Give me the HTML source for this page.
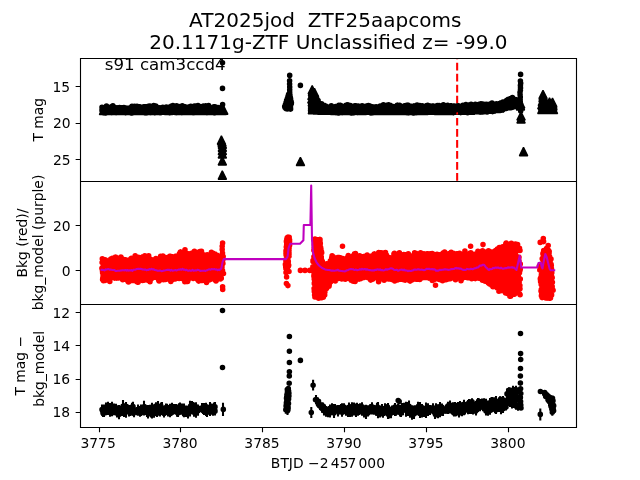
<!DOCTYPE html>
<html lang="en">
<head>
<meta charset="utf-8">
<title>AT2025jod ZTF25aapcoms</title>
<style>html,body{margin:0;padding:0;background:#fff;overflow:hidden}svg{display:block}</style>
</head>
<body>
<svg width="640" height="480" viewBox="0 0 640 480">
<rect width="640" height="480" fill="#fff"/>
<defs>
<clipPath id="c0"><rect x="80" y="58" width="497" height="124"/></clipPath>
<clipPath id="c1"><rect x="80" y="181" width="497" height="124"/></clipPath>
<clipPath id="c2"><rect x="80" y="304" width="497" height="124"/></clipPath>
</defs>
<g clip-path="url(#c0)">
<path d="M103.5 106.2l4.2 8.3h-8.3zM103.9 105.8l4.2 8.3h-8.3zM104.4 105.9l4.2 8.3h-8.3zM104.5 106.1l4.2 8.3h-8.3zM104.6 106.1l4.2 8.3h-8.3zM106 105.9l4.2 8.3h-8.3zM106.6 105.6l4.2 8.3h-8.3zM107.1 106.1l4.2 8.3h-8.3zM107.5 106.1l4.2 8.3h-8.3zM107.7 105.9l4.2 8.3h-8.3zM108.6 106.1l4.2 8.3h-8.3zM108.7 105.8l4.2 8.3h-8.3zM108.9 105.6l4.2 8.3h-8.3zM110 106.1l4.2 8.3h-8.3zM110.3 105.7l4.2 8.3h-8.3zM111.3 106.1l4.2 8.3h-8.3zM111.5 105.9l4.2 8.3h-8.3zM111.5 105.8l4.2 8.3h-8.3zM111.9 106.2l4.2 8.3h-8.3zM112.7 105.5l4.2 8.3h-8.3zM113 105.6l4.2 8.3h-8.3zM113.1 105.6l4.2 8.3h-8.3zM113.6 105.9l4.2 8.3h-8.3zM113.6 105.6l4.2 8.3h-8.3zM113.8 106.1l4.2 8.3h-8.3zM114.3 105.7l4.2 8.3h-8.3zM114.5 105.6l4.2 8.3h-8.3zM114.9 106l4.2 8.3h-8.3zM115 106.3l4.2 8.3h-8.3zM116.4 105.6l4.2 8.3h-8.3zM116.8 105.7l4.2 8.3h-8.3zM117.1 105.6l4.2 8.3h-8.3zM117.3 105.9l4.2 8.3h-8.3zM117.8 106l4.2 8.3h-8.3zM117.9 105.8l4.2 8.3h-8.3zM118.4 105.6l4.2 8.3h-8.3zM118.9 106.1l4.2 8.3h-8.3zM119.8 106.1l4.2 8.3h-8.3zM120.5 106l4.2 8.3h-8.3zM121 106.2l4.2 8.3h-8.3zM121.4 105.8l4.2 8.3h-8.3zM121.5 105.6l4.2 8.3h-8.3zM121.6 105.7l4.2 8.3h-8.3zM122.6 105.8l4.2 8.3h-8.3zM122.9 105.8l4.2 8.3h-8.3zM123.3 105.6l4.2 8.3h-8.3zM123.3 105.9l4.2 8.3h-8.3zM123.5 105.8l4.2 8.3h-8.3zM123.6 106.2l4.2 8.3h-8.3zM123.6 105.7l4.2 8.3h-8.3zM123.7 106.1l4.2 8.3h-8.3zM123.9 106l4.2 8.3h-8.3zM124.3 106l4.2 8.3h-8.3zM124.5 105.9l4.2 8.3h-8.3zM124.7 106.1l4.2 8.3h-8.3zM124.7 105.9l4.2 8.3h-8.3zM124.8 106l4.2 8.3h-8.3zM124.9 105.9l4.2 8.3h-8.3zM125 105.8l4.2 8.3h-8.3zM125.8 105.9l4.2 8.3h-8.3zM126.2 105.9l4.2 8.3h-8.3zM126.5 106.1l4.2 8.3h-8.3zM126.6 105.9l4.2 8.3h-8.3zM127.9 105.9l4.2 8.3h-8.3zM127.9 106.2l4.2 8.3h-8.3zM128.5 106.2l4.2 8.3h-8.3zM128.6 105.9l4.2 8.3h-8.3zM128.8 105.8l4.2 8.3h-8.3zM128.9 105.8l4.2 8.3h-8.3zM129 105.7l4.2 8.3h-8.3zM129.2 106l4.2 8.3h-8.3zM129.6 105.6l4.2 8.3h-8.3zM129.8 105.9l4.2 8.3h-8.3zM129.8 106.2l4.2 8.3h-8.3zM129.9 106l4.2 8.3h-8.3zM130.1 106.1l4.2 8.3h-8.3zM130.7 105.6l4.2 8.3h-8.3zM132.2 105.7l4.2 8.3h-8.3zM133 105.7l4.2 8.3h-8.3zM133.2 105.8l4.2 8.3h-8.3zM133.2 105.9l4.2 8.3h-8.3zM133.3 106.3l4.2 8.3h-8.3zM134.1 106l4.2 8.3h-8.3zM134.3 105.7l4.2 8.3h-8.3zM134.4 106l4.2 8.3h-8.3zM134.5 106.2l4.2 8.3h-8.3zM134.7 105.8l4.2 8.3h-8.3zM134.7 105.9l4.2 8.3h-8.3zM135.4 105.5l4.2 8.3h-8.3zM136.3 105.5l4.2 8.3h-8.3zM136.3 105.9l4.2 8.3h-8.3zM136.6 105.9l4.2 8.3h-8.3zM136.6 105.9l4.2 8.3h-8.3zM136.9 105.8l4.2 8.3h-8.3zM137.3 105.8l4.2 8.3h-8.3zM137.3 105.8l4.2 8.3h-8.3zM137.4 106.2l4.2 8.3h-8.3zM138 105.9l4.2 8.3h-8.3zM138.3 105.9l4.2 8.3h-8.3zM139.2 106.1l4.2 8.3h-8.3zM139.9 105.7l4.2 8.3h-8.3zM140 105.8l4.2 8.3h-8.3zM140.8 106l4.2 8.3h-8.3zM141 105.8l4.2 8.3h-8.3zM141.4 106.2l4.2 8.3h-8.3zM141.5 105.8l4.2 8.3h-8.3zM142.6 105.7l4.2 8.3h-8.3zM143 106.2l4.2 8.3h-8.3zM143.2 106.2l4.2 8.3h-8.3zM143.2 105.6l4.2 8.3h-8.3zM143.4 105.7l4.2 8.3h-8.3zM143.5 106.1l4.2 8.3h-8.3zM143.5 106l4.2 8.3h-8.3zM143.9 105.8l4.2 8.3h-8.3zM144.2 106l4.2 8.3h-8.3zM144.3 105.9l4.2 8.3h-8.3zM144.4 105.9l4.2 8.3h-8.3zM144.8 105.7l4.2 8.3h-8.3zM144.9 105.8l4.2 8.3h-8.3zM145.1 106.1l4.2 8.3h-8.3zM145.2 106.2l4.2 8.3h-8.3zM146.1 106.1l4.2 8.3h-8.3zM147.4 105.7l4.2 8.3h-8.3zM147.5 105.9l4.2 8.3h-8.3zM148 105.8l4.2 8.3h-8.3zM148.2 105.9l4.2 8.3h-8.3zM148.3 105.8l4.2 8.3h-8.3zM148.9 106.1l4.2 8.3h-8.3zM148.9 105.8l4.2 8.3h-8.3zM150.4 105.6l4.2 8.3h-8.3zM151.5 105.9l4.2 8.3h-8.3zM152.6 106.1l4.2 8.3h-8.3zM153.2 106.2l4.2 8.3h-8.3zM154.2 105.8l4.2 8.3h-8.3zM154.2 106.2l4.2 8.3h-8.3zM154.5 106l4.2 8.3h-8.3zM154.6 105.8l4.2 8.3h-8.3zM154.7 106l4.2 8.3h-8.3zM154.9 106.3l4.2 8.3h-8.3zM155 106l4.2 8.3h-8.3zM155.7 105.9l4.2 8.3h-8.3zM155.8 106.3l4.2 8.3h-8.3zM156 106l4.2 8.3h-8.3zM156.4 105.9l4.2 8.3h-8.3zM156.5 105.9l4.2 8.3h-8.3zM156.5 106l4.2 8.3h-8.3zM157.7 106.1l4.2 8.3h-8.3zM158.2 105.8l4.2 8.3h-8.3zM158.3 106.1l4.2 8.3h-8.3zM158.7 105.9l4.2 8.3h-8.3zM159.4 106.1l4.2 8.3h-8.3zM160 106.1l4.2 8.3h-8.3zM160.5 105.7l4.2 8.3h-8.3zM160.6 105.8l4.2 8.3h-8.3zM160.7 106l4.2 8.3h-8.3zM160.8 106l4.2 8.3h-8.3zM160.9 105.9l4.2 8.3h-8.3zM161 105.7l4.2 8.3h-8.3zM161.3 106.1l4.2 8.3h-8.3zM161.4 106l4.2 8.3h-8.3zM161.5 106.1l4.2 8.3h-8.3zM161.6 106l4.2 8.3h-8.3zM161.8 105.6l4.2 8.3h-8.3zM162.9 105.7l4.2 8.3h-8.3zM162.9 106.1l4.2 8.3h-8.3zM163 106.1l4.2 8.3h-8.3zM163 105.9l4.2 8.3h-8.3zM164 105.8l4.2 8.3h-8.3zM164.1 106l4.2 8.3h-8.3zM164.4 105.9l4.2 8.3h-8.3zM164.9 106l4.2 8.3h-8.3zM165.5 105.8l4.2 8.3h-8.3zM165.6 106.1l4.2 8.3h-8.3zM167.3 106l4.2 8.3h-8.3zM167.6 106l4.2 8.3h-8.3zM168 105.8l4.2 8.3h-8.3zM168 106.1l4.2 8.3h-8.3zM168.5 106.3l4.2 8.3h-8.3zM169.1 105.9l4.2 8.3h-8.3zM169.1 105.7l4.2 8.3h-8.3zM169.8 105.9l4.2 8.3h-8.3zM170.1 105.7l4.2 8.3h-8.3zM175.2 105.8l4.2 8.3h-8.3zM175.4 105.9l4.2 8.3h-8.3zM175.4 105.6l4.2 8.3h-8.3zM175.7 105.8l4.2 8.3h-8.3zM175.7 106l4.2 8.3h-8.3zM175.8 106.1l4.2 8.3h-8.3zM176 105.7l4.2 8.3h-8.3zM176.9 106.1l4.2 8.3h-8.3zM177.6 106.1l4.2 8.3h-8.3zM177.6 106l4.2 8.3h-8.3zM177.8 106.1l4.2 8.3h-8.3zM177.8 106.1l4.2 8.3h-8.3zM178 105.7l4.2 8.3h-8.3zM178.6 106.2l4.2 8.3h-8.3zM179 105.7l4.2 8.3h-8.3zM179.8 105.8l4.2 8.3h-8.3zM180.4 105.5l4.2 8.3h-8.3zM180.7 106l4.2 8.3h-8.3zM181.9 105.7l4.2 8.3h-8.3zM182 106.2l4.2 8.3h-8.3zM183.4 105.9l4.2 8.3h-8.3zM183.7 106l4.2 8.3h-8.3zM184 106l4.2 8.3h-8.3zM184.4 105.8l4.2 8.3h-8.3zM184.6 106l4.2 8.3h-8.3zM184.7 106.1l4.2 8.3h-8.3zM184.8 105.6l4.2 8.3h-8.3zM185.7 106l4.2 8.3h-8.3zM185.8 106l4.2 8.3h-8.3zM186 105.7l4.2 8.3h-8.3zM186.8 106.2l4.2 8.3h-8.3zM187.2 106l4.2 8.3h-8.3zM187.3 105.8l4.2 8.3h-8.3zM188.1 106.1l4.2 8.3h-8.3zM188.5 106.2l4.2 8.3h-8.3zM188.8 105.7l4.2 8.3h-8.3zM190.4 106.1l4.2 8.3h-8.3zM190.6 105.9l4.2 8.3h-8.3zM191.6 105.7l4.2 8.3h-8.3zM191.7 105.8l4.2 8.3h-8.3zM192.7 106l4.2 8.3h-8.3zM193 105.8l4.2 8.3h-8.3zM193.4 105.8l4.2 8.3h-8.3zM193.5 105.7l4.2 8.3h-8.3zM193.7 106.1l4.2 8.3h-8.3zM194 106l4.2 8.3h-8.3zM194.6 106.2l4.2 8.3h-8.3zM194.7 105.8l4.2 8.3h-8.3zM194.9 105.6l4.2 8.3h-8.3zM195.2 105.9l4.2 8.3h-8.3zM195.4 105.8l4.2 8.3h-8.3zM195.9 105.6l4.2 8.3h-8.3zM196.3 105.8l4.2 8.3h-8.3zM196.8 105.8l4.2 8.3h-8.3zM197.1 105.6l4.2 8.3h-8.3zM197.3 105.7l4.2 8.3h-8.3zM197.6 106.2l4.2 8.3h-8.3zM199.4 106l4.2 8.3h-8.3zM200.8 105.6l4.2 8.3h-8.3zM200.9 105.6l4.2 8.3h-8.3zM201.6 105.7l4.2 8.3h-8.3zM201.8 105.7l4.2 8.3h-8.3zM202.4 105.9l4.2 8.3h-8.3zM202.9 106.2l4.2 8.3h-8.3zM204.3 106.2l4.2 8.3h-8.3zM204.7 106.2l4.2 8.3h-8.3zM204.8 105.8l4.2 8.3h-8.3zM206.3 106.2l4.2 8.3h-8.3zM207 106.1l4.2 8.3h-8.3zM207.2 106l4.2 8.3h-8.3zM207.2 105.6l4.2 8.3h-8.3zM207.3 105.7l4.2 8.3h-8.3zM207.7 105.9l4.2 8.3h-8.3zM207.7 106.2l4.2 8.3h-8.3zM207.9 105.9l4.2 8.3h-8.3zM208.1 106.1l4.2 8.3h-8.3zM208.7 106.1l4.2 8.3h-8.3zM208.9 105.6l4.2 8.3h-8.3zM209 105.8l4.2 8.3h-8.3zM209.1 105.7l4.2 8.3h-8.3zM209.1 106.2l4.2 8.3h-8.3zM209.4 106.2l4.2 8.3h-8.3zM209.7 105.6l4.2 8.3h-8.3zM209.8 105.8l4.2 8.3h-8.3zM210.1 105.9l4.2 8.3h-8.3zM210.2 105.8l4.2 8.3h-8.3zM211.3 105.8l4.2 8.3h-8.3zM212.2 105.7l4.2 8.3h-8.3zM212.4 105.7l4.2 8.3h-8.3zM212.5 105.7l4.2 8.3h-8.3zM213.9 106l4.2 8.3h-8.3zM215.3 106.3l4.2 8.3h-8.3zM215.6 106.2l4.2 8.3h-8.3zM215.6 105.5l4.2 8.3h-8.3zM215.8 106.3l4.2 8.3h-8.3zM216.3 105.9l4.2 8.3h-8.3zM216.8 105.7l4.2 8.3h-8.3zM216.9 106.2l4.2 8.3h-8.3zM217 105.8l4.2 8.3h-8.3zM217 106.2l4.2 8.3h-8.3zM217.4 105.9l4.2 8.3h-8.3zM217.6 106l4.2 8.3h-8.3zM217.7 106.2l4.2 8.3h-8.3zM218 106l4.2 8.3h-8.3zM218.8 105.8l4.2 8.3h-8.3zM219.5 105.8l4.2 8.3h-8.3zM219.6 106.1l4.2 8.3h-8.3zM219.7 106l4.2 8.3h-8.3zM220.1 105.9l4.2 8.3h-8.3zM220.5 105.7l4.2 8.3h-8.3zM221 106l4.2 8.3h-8.3zM221.1 106l4.2 8.3h-8.3zM221.2 106.1l4.2 8.3h-8.3zM221.4 106l4.2 8.3h-8.3zM221.5 105.9l4.2 8.3h-8.3zM222.2 106.2l4.2 8.3h-8.3zM223 106l4.2 8.3h-8.3zM223.7 106.1l4.2 8.3h-8.3zM221.4 135.9l4.2 8.3h-8.3zM222 138l4.2 8.3h-8.3zM222.3 139.9l4.2 8.3h-8.3zM222.3 143l4.2 8.3h-8.3zM222.3 146.3l4.2 8.3h-8.3zM222.3 149.7l4.2 8.3h-8.3zM222.3 156.8l4.2 8.3h-8.3zM222.3 170.9l4.2 8.3h-8.3zM300.4 157.2l4.2 8.3h-8.3zM312.2 85.6l4.2 8.3h-8.3zM312.4 87.2l4.2 8.3h-8.3zM312.7 88.7l4.2 8.3h-8.3zM312.6 90.2l4.2 8.3h-8.3zM312.6 91.7l4.2 8.3h-8.3zM312.6 93.2l4.2 8.3h-8.3zM312.4 94.8l4.2 8.3h-8.3zM312.6 96.3l4.2 8.3h-8.3zM312.2 97.8l4.2 8.3h-8.3zM312.5 99.3l4.2 8.3h-8.3zM312.4 100.9l4.2 8.3h-8.3zM312.4 102.4l4.2 8.3h-8.3zM312.5 103.9l4.2 8.3h-8.3zM312.3 105.4l4.2 8.3h-8.3zM313.3 87.8l4.2 8.3h-8.3zM313.9 89.8l4.2 8.3h-8.3zM313.6 91.7l4.2 8.3h-8.3zM313.7 93.7l4.2 8.3h-8.3zM313.3 95.7l4.2 8.3h-8.3zM313.4 97.6l4.2 8.3h-8.3zM313.6 99.6l4.2 8.3h-8.3zM313.5 101.5l4.2 8.3h-8.3zM313.6 103.5l4.2 8.3h-8.3zM313.8 105.4l4.2 8.3h-8.3zM314.5 88.4l4.2 8.3h-8.3zM314.9 90.8l4.2 8.3h-8.3zM315.1 93.4l4.2 8.3h-8.3zM311.9 91.3l4.2 8.3h-8.3zM311.8 94.8l4.2 8.3h-8.3zM314.6 97l4.2 8.3h-8.3zM314.7 99.3l4.2 8.3h-8.3zM314.7 102.1l4.2 8.3h-8.3zM314.9 103l4.2 8.3h-8.3zM315 96.2l4.2 8.3h-8.3zM315.1 99.2l4.2 8.3h-8.3zM315.4 100.6l4.2 8.3h-8.3zM315.5 97.4l4.2 8.3h-8.3zM316.2 102.6l4.2 8.3h-8.3zM316.9 100.5l4.2 8.3h-8.3zM317.2 105.8l4.2 8.3h-8.3zM317.2 100.8l4.2 8.3h-8.3zM317.4 105.7l4.2 8.3h-8.3zM317.7 101.6l4.2 8.3h-8.3zM318.1 101.8l4.2 8.3h-8.3zM318.4 103.1l4.2 8.3h-8.3zM318.9 102.3l4.2 8.3h-8.3zM319 102l4.2 8.3h-8.3zM319.5 104.9l4.2 8.3h-8.3zM319.9 104.3l4.2 8.3h-8.3zM320.5 103.9l4.2 8.3h-8.3zM320.5 105.8l4.2 8.3h-8.3zM321 103.5l4.2 8.3h-8.3zM321 105.4l4.2 8.3h-8.3zM321.1 105l4.2 8.3h-8.3zM321.4 103.5l4.2 8.3h-8.3zM321.5 103.6l4.2 8.3h-8.3zM321.7 105.9l4.2 8.3h-8.3zM322 103.5l4.2 8.3h-8.3zM322.2 104.2l4.2 8.3h-8.3zM322.5 105l4.2 8.3h-8.3zM323.9 106l4.2 8.3h-8.3zM324.7 105.1l4.2 8.3h-8.3zM324.8 106l4.2 8.3h-8.3zM325.4 105.9l4.2 8.3h-8.3zM325.6 105.5l4.2 8.3h-8.3zM325.9 105.7l4.2 8.3h-8.3zM326 105.8l4.2 8.3h-8.3zM326.8 106.1l4.2 8.3h-8.3zM328.2 105.8l4.2 8.3h-8.3zM328.7 105.4l4.2 8.3h-8.3zM328.8 105.7l4.2 8.3h-8.3zM329.2 105.5l4.2 8.3h-8.3zM329.5 105.8l4.2 8.3h-8.3zM329.7 105.7l4.2 8.3h-8.3zM331.5 105.8l4.2 8.3h-8.3zM331.5 105.6l4.2 8.3h-8.3zM332.1 105.9l4.2 8.3h-8.3zM332.2 105.6l4.2 8.3h-8.3zM332.9 105.9l4.2 8.3h-8.3zM334.2 106l4.2 8.3h-8.3zM334.6 106.2l4.2 8.3h-8.3zM334.7 105.9l4.2 8.3h-8.3zM335 105.9l4.2 8.3h-8.3zM335.5 105.7l4.2 8.3h-8.3zM335.8 105.6l4.2 8.3h-8.3zM336 105.8l4.2 8.3h-8.3zM336.5 105.9l4.2 8.3h-8.3zM336.8 105.6l4.2 8.3h-8.3zM336.8 106.1l4.2 8.3h-8.3zM337 106.1l4.2 8.3h-8.3zM337.4 106.2l4.2 8.3h-8.3zM337.7 106.2l4.2 8.3h-8.3zM338.1 105.6l4.2 8.3h-8.3zM338.2 106.1l4.2 8.3h-8.3zM338.2 105.7l4.2 8.3h-8.3zM338.3 105.7l4.2 8.3h-8.3zM338.7 105.7l4.2 8.3h-8.3zM339.1 105.7l4.2 8.3h-8.3zM339.4 105.7l4.2 8.3h-8.3zM339.5 106.2l4.2 8.3h-8.3zM339.9 106.1l4.2 8.3h-8.3zM339.9 106.1l4.2 8.3h-8.3zM340.3 106l4.2 8.3h-8.3zM340.4 106l4.2 8.3h-8.3zM340.5 106.1l4.2 8.3h-8.3zM341.6 105.8l4.2 8.3h-8.3zM341.7 106.2l4.2 8.3h-8.3zM341.9 106l4.2 8.3h-8.3zM342.3 105.6l4.2 8.3h-8.3zM343.6 106l4.2 8.3h-8.3zM343.8 105.7l4.2 8.3h-8.3zM343.9 105.8l4.2 8.3h-8.3zM344.3 105.7l4.2 8.3h-8.3zM344.7 106.1l4.2 8.3h-8.3zM344.8 105.7l4.2 8.3h-8.3zM344.9 105.8l4.2 8.3h-8.3zM346.4 105.8l4.2 8.3h-8.3zM346.4 106.1l4.2 8.3h-8.3zM346.8 105.6l4.2 8.3h-8.3zM347.9 105.8l4.2 8.3h-8.3zM348 105.6l4.2 8.3h-8.3zM348.1 105.8l4.2 8.3h-8.3zM348.1 105.7l4.2 8.3h-8.3zM348.5 105.7l4.2 8.3h-8.3zM348.8 106.2l4.2 8.3h-8.3zM349.9 105.6l4.2 8.3h-8.3zM350.9 106.2l4.2 8.3h-8.3zM351.2 106.1l4.2 8.3h-8.3zM351.4 106.2l4.2 8.3h-8.3zM351.5 105.8l4.2 8.3h-8.3zM351.6 106.1l4.2 8.3h-8.3zM351.6 105.9l4.2 8.3h-8.3zM351.7 105.7l4.2 8.3h-8.3zM351.9 105.9l4.2 8.3h-8.3zM352.1 106.1l4.2 8.3h-8.3zM352.1 105.9l4.2 8.3h-8.3zM352.1 105.8l4.2 8.3h-8.3zM352.2 106l4.2 8.3h-8.3zM352.3 106l4.2 8.3h-8.3zM352.6 105.9l4.2 8.3h-8.3zM355.3 105.7l4.2 8.3h-8.3zM355.4 105.5l4.2 8.3h-8.3zM356.5 105.6l4.2 8.3h-8.3zM356.7 105.8l4.2 8.3h-8.3zM357.4 106.1l4.2 8.3h-8.3zM357.7 105.8l4.2 8.3h-8.3zM357.7 105.9l4.2 8.3h-8.3zM357.8 105.9l4.2 8.3h-8.3zM358.3 105.9l4.2 8.3h-8.3zM358.8 105.8l4.2 8.3h-8.3zM359 105.9l4.2 8.3h-8.3zM359.8 105.9l4.2 8.3h-8.3zM359.8 106.1l4.2 8.3h-8.3zM360.5 105.7l4.2 8.3h-8.3zM360.8 105.9l4.2 8.3h-8.3zM360.9 106l4.2 8.3h-8.3zM361 106.1l4.2 8.3h-8.3zM361.2 106.2l4.2 8.3h-8.3zM361.5 105.9l4.2 8.3h-8.3zM361.5 106.1l4.2 8.3h-8.3zM362.3 106.2l4.2 8.3h-8.3zM362.4 105.7l4.2 8.3h-8.3zM362.8 105.5l4.2 8.3h-8.3zM363.2 105.7l4.2 8.3h-8.3zM363.7 105.8l4.2 8.3h-8.3zM364.5 106l4.2 8.3h-8.3zM365 105.9l4.2 8.3h-8.3zM365.4 105.6l4.2 8.3h-8.3zM365.6 106.1l4.2 8.3h-8.3zM366.2 106.1l4.2 8.3h-8.3zM366.2 105.7l4.2 8.3h-8.3zM366.2 105.9l4.2 8.3h-8.3zM366.4 105.7l4.2 8.3h-8.3zM367.2 105.9l4.2 8.3h-8.3zM367.4 105.7l4.2 8.3h-8.3zM367.6 105.9l4.2 8.3h-8.3zM367.6 106.1l4.2 8.3h-8.3zM367.7 105.9l4.2 8.3h-8.3zM368 105.9l4.2 8.3h-8.3zM368.1 105.7l4.2 8.3h-8.3zM368.6 106.1l4.2 8.3h-8.3zM368.7 105.8l4.2 8.3h-8.3zM368.7 105.5l4.2 8.3h-8.3zM368.7 105.8l4.2 8.3h-8.3zM369 105.9l4.2 8.3h-8.3zM369.7 106.1l4.2 8.3h-8.3zM369.8 106l4.2 8.3h-8.3zM369.9 105.8l4.2 8.3h-8.3zM369.9 105.7l4.2 8.3h-8.3zM370.4 106l4.2 8.3h-8.3zM370.6 105.8l4.2 8.3h-8.3zM370.7 106.1l4.2 8.3h-8.3zM370.7 105.9l4.2 8.3h-8.3zM371.2 106.1l4.2 8.3h-8.3zM371.7 105.7l4.2 8.3h-8.3zM372.7 105.6l4.2 8.3h-8.3zM372.8 106.1l4.2 8.3h-8.3zM372.9 105.6l4.2 8.3h-8.3zM373.7 105.8l4.2 8.3h-8.3zM374.6 105.8l4.2 8.3h-8.3zM375 105.6l4.2 8.3h-8.3zM375.3 106l4.2 8.3h-8.3zM375.6 106l4.2 8.3h-8.3zM375.8 106.2l4.2 8.3h-8.3zM376.5 105.9l4.2 8.3h-8.3zM376.7 106l4.2 8.3h-8.3zM376.8 106l4.2 8.3h-8.3zM376.8 106.2l4.2 8.3h-8.3zM377.4 105.7l4.2 8.3h-8.3zM377.4 106.2l4.2 8.3h-8.3zM378 105.8l4.2 8.3h-8.3zM378.2 105.7l4.2 8.3h-8.3zM378.4 105.9l4.2 8.3h-8.3zM378.5 105.9l4.2 8.3h-8.3zM378.7 105.9l4.2 8.3h-8.3zM378.7 105.9l4.2 8.3h-8.3zM378.8 106.1l4.2 8.3h-8.3zM378.9 105.7l4.2 8.3h-8.3zM379 106.1l4.2 8.3h-8.3zM379 106l4.2 8.3h-8.3zM379.3 106.2l4.2 8.3h-8.3zM379.6 106.1l4.2 8.3h-8.3zM379.7 105.9l4.2 8.3h-8.3zM380.1 105.8l4.2 8.3h-8.3zM380.4 106.1l4.2 8.3h-8.3zM381.4 105.8l4.2 8.3h-8.3zM381.5 105.9l4.2 8.3h-8.3zM381.7 105.9l4.2 8.3h-8.3zM381.8 105.5l4.2 8.3h-8.3zM382.4 106.1l4.2 8.3h-8.3zM382.8 105.8l4.2 8.3h-8.3zM382.9 105.7l4.2 8.3h-8.3zM383.2 105.7l4.2 8.3h-8.3zM383.4 105.7l4.2 8.3h-8.3zM383.4 106l4.2 8.3h-8.3zM384 106l4.2 8.3h-8.3zM384.1 105.9l4.2 8.3h-8.3zM384.2 105.7l4.2 8.3h-8.3zM384.6 105.8l4.2 8.3h-8.3zM384.8 105.7l4.2 8.3h-8.3zM385.3 105.7l4.2 8.3h-8.3zM385.7 105.9l4.2 8.3h-8.3zM385.8 106.1l4.2 8.3h-8.3zM385.9 106.2l4.2 8.3h-8.3zM386.1 106l4.2 8.3h-8.3zM386.5 105.7l4.2 8.3h-8.3zM386.7 105.9l4.2 8.3h-8.3zM386.7 105.7l4.2 8.3h-8.3zM386.7 106.2l4.2 8.3h-8.3zM387.4 106.1l4.2 8.3h-8.3zM387.4 106l4.2 8.3h-8.3zM387.6 106.1l4.2 8.3h-8.3zM387.7 106.2l4.2 8.3h-8.3zM387.8 106l4.2 8.3h-8.3zM388 105.9l4.2 8.3h-8.3zM388.3 106l4.2 8.3h-8.3zM388.8 106.1l4.2 8.3h-8.3zM389.1 105.9l4.2 8.3h-8.3zM389.3 105.9l4.2 8.3h-8.3zM389.4 105.6l4.2 8.3h-8.3zM389.4 105.8l4.2 8.3h-8.3zM390.6 105.9l4.2 8.3h-8.3zM390.8 106l4.2 8.3h-8.3zM391 106l4.2 8.3h-8.3zM391.2 106l4.2 8.3h-8.3zM391.3 106l4.2 8.3h-8.3zM391.4 105.6l4.2 8.3h-8.3zM391.7 106l4.2 8.3h-8.3zM392.4 106l4.2 8.3h-8.3zM392.4 105.7l4.2 8.3h-8.3zM393.1 105.7l4.2 8.3h-8.3zM393.5 105.8l4.2 8.3h-8.3zM393.7 105.7l4.2 8.3h-8.3zM393.9 105.6l4.2 8.3h-8.3zM394.2 106.1l4.2 8.3h-8.3zM394.3 105.8l4.2 8.3h-8.3zM394.4 106l4.2 8.3h-8.3zM394.5 105.7l4.2 8.3h-8.3zM394.7 106l4.2 8.3h-8.3zM394.7 105.9l4.2 8.3h-8.3zM394.9 105.8l4.2 8.3h-8.3zM395.7 105.7l4.2 8.3h-8.3zM396.1 105.7l4.2 8.3h-8.3zM396.2 106.2l4.2 8.3h-8.3zM396.4 105.7l4.2 8.3h-8.3zM396.4 105.7l4.2 8.3h-8.3zM396.5 105.8l4.2 8.3h-8.3zM396.5 106l4.2 8.3h-8.3zM397.4 106l4.2 8.3h-8.3zM397.7 106l4.2 8.3h-8.3zM397.9 106l4.2 8.3h-8.3zM398 105.9l4.2 8.3h-8.3zM398 105.9l4.2 8.3h-8.3zM398.4 106.1l4.2 8.3h-8.3zM398.5 106l4.2 8.3h-8.3zM398.8 105.9l4.2 8.3h-8.3zM399.6 105.7l4.2 8.3h-8.3zM400.3 106l4.2 8.3h-8.3zM401 106.2l4.2 8.3h-8.3zM401 105.7l4.2 8.3h-8.3zM401.3 106l4.2 8.3h-8.3zM401.4 105.8l4.2 8.3h-8.3zM401.5 105.8l4.2 8.3h-8.3zM401.5 106.1l4.2 8.3h-8.3zM402.7 106.2l4.2 8.3h-8.3zM402.8 105.8l4.2 8.3h-8.3zM402.9 105.6l4.2 8.3h-8.3zM403.3 105.6l4.2 8.3h-8.3zM403.5 106.1l4.2 8.3h-8.3zM403.8 105.9l4.2 8.3h-8.3zM404.3 105.9l4.2 8.3h-8.3zM404.6 105.6l4.2 8.3h-8.3zM405 105.9l4.2 8.3h-8.3zM405.2 105.6l4.2 8.3h-8.3zM405.6 105.9l4.2 8.3h-8.3zM405.9 106.1l4.2 8.3h-8.3zM406 105.6l4.2 8.3h-8.3zM406.1 106.2l4.2 8.3h-8.3zM407.7 106l4.2 8.3h-8.3zM407.9 105.9l4.2 8.3h-8.3zM408.1 106l4.2 8.3h-8.3zM408.3 105.6l4.2 8.3h-8.3zM408.4 105.6l4.2 8.3h-8.3zM408.7 105.6l4.2 8.3h-8.3zM408.7 106.1l4.2 8.3h-8.3zM409.2 106.1l4.2 8.3h-8.3zM409.5 106l4.2 8.3h-8.3zM409.5 106.3l4.2 8.3h-8.3zM409.5 105.6l4.2 8.3h-8.3zM409.6 105.6l4.2 8.3h-8.3zM410.5 106.1l4.2 8.3h-8.3zM410.6 106.2l4.2 8.3h-8.3zM410.8 105.8l4.2 8.3h-8.3zM410.9 105.7l4.2 8.3h-8.3zM411.2 105.9l4.2 8.3h-8.3zM411.3 106l4.2 8.3h-8.3zM411.4 106.1l4.2 8.3h-8.3zM411.5 105.8l4.2 8.3h-8.3zM411.7 106l4.2 8.3h-8.3zM411.7 105.8l4.2 8.3h-8.3zM412.1 105.9l4.2 8.3h-8.3zM412.5 106.2l4.2 8.3h-8.3zM412.6 106.2l4.2 8.3h-8.3zM412.7 106.2l4.2 8.3h-8.3zM413.3 106l4.2 8.3h-8.3zM413.4 105.9l4.2 8.3h-8.3zM413.9 106l4.2 8.3h-8.3zM414.1 105.9l4.2 8.3h-8.3zM414.2 106.2l4.2 8.3h-8.3zM414.3 105.6l4.2 8.3h-8.3zM414.9 106.1l4.2 8.3h-8.3zM415.1 105.8l4.2 8.3h-8.3zM415.6 105.9l4.2 8.3h-8.3zM415.7 106.2l4.2 8.3h-8.3zM415.8 106.2l4.2 8.3h-8.3zM415.9 105.6l4.2 8.3h-8.3zM416.2 106.2l4.2 8.3h-8.3zM416.8 105.9l4.2 8.3h-8.3zM416.8 106l4.2 8.3h-8.3zM417 105.9l4.2 8.3h-8.3zM417.4 106l4.2 8.3h-8.3zM417.6 105.8l4.2 8.3h-8.3zM417.8 105.8l4.2 8.3h-8.3zM418 105.9l4.2 8.3h-8.3zM418.2 106.1l4.2 8.3h-8.3zM418.3 105.7l4.2 8.3h-8.3zM418.5 105.8l4.2 8.3h-8.3zM418.7 105.8l4.2 8.3h-8.3zM418.7 106l4.2 8.3h-8.3zM419.2 105.8l4.2 8.3h-8.3zM419.3 105.7l4.2 8.3h-8.3zM419.4 105.8l4.2 8.3h-8.3zM419.5 105.5l4.2 8.3h-8.3zM419.6 105.6l4.2 8.3h-8.3zM419.6 105.9l4.2 8.3h-8.3zM419.7 105.7l4.2 8.3h-8.3zM419.8 105.7l4.2 8.3h-8.3zM420 105.9l4.2 8.3h-8.3zM420.1 105.9l4.2 8.3h-8.3zM420.2 105.9l4.2 8.3h-8.3zM420.4 106.2l4.2 8.3h-8.3zM420.4 105.8l4.2 8.3h-8.3zM420.7 105.8l4.2 8.3h-8.3zM420.8 105.9l4.2 8.3h-8.3zM420.8 105.9l4.2 8.3h-8.3zM421 105.9l4.2 8.3h-8.3zM421.3 106l4.2 8.3h-8.3zM421.8 105.9l4.2 8.3h-8.3zM422.2 106.1l4.2 8.3h-8.3zM422.6 106.1l4.2 8.3h-8.3zM422.7 105.9l4.2 8.3h-8.3zM422.9 105.9l4.2 8.3h-8.3zM423 105.8l4.2 8.3h-8.3zM423.3 105.9l4.2 8.3h-8.3zM423.8 105.9l4.2 8.3h-8.3zM423.9 106.2l4.2 8.3h-8.3zM423.9 106l4.2 8.3h-8.3zM425 105.9l4.2 8.3h-8.3zM426.8 105.6l4.2 8.3h-8.3zM427 106.1l4.2 8.3h-8.3zM427.4 105.7l4.2 8.3h-8.3zM427.9 106.1l4.2 8.3h-8.3zM428 105.9l4.2 8.3h-8.3zM428.3 105.9l4.2 8.3h-8.3zM428.8 105.8l4.2 8.3h-8.3zM429 106.1l4.2 8.3h-8.3zM429 105.8l4.2 8.3h-8.3zM429.1 105.9l4.2 8.3h-8.3zM429.4 105.8l4.2 8.3h-8.3zM430.1 106l4.2 8.3h-8.3zM430.1 105.9l4.2 8.3h-8.3zM430.4 105.9l4.2 8.3h-8.3zM430.6 106l4.2 8.3h-8.3zM430.6 106.1l4.2 8.3h-8.3zM431 106l4.2 8.3h-8.3zM431.9 105.9l4.2 8.3h-8.3zM432.3 105.9l4.2 8.3h-8.3zM432.8 105.9l4.2 8.3h-8.3zM433.3 105.9l4.2 8.3h-8.3zM434 105.6l4.2 8.3h-8.3zM434.1 105.6l4.2 8.3h-8.3zM434.4 105.7l4.2 8.3h-8.3zM434.5 105.6l4.2 8.3h-8.3zM435.1 105.6l4.2 8.3h-8.3zM435.4 105.7l4.2 8.3h-8.3zM435.9 106.1l4.2 8.3h-8.3zM436.2 105.6l4.2 8.3h-8.3zM438 105.9l4.2 8.3h-8.3zM438.4 106.2l4.2 8.3h-8.3zM438.5 106l4.2 8.3h-8.3zM438.7 105.6l4.2 8.3h-8.3zM438.9 106.1l4.2 8.3h-8.3zM438.9 106.1l4.2 8.3h-8.3zM439.1 106.1l4.2 8.3h-8.3zM439.3 106.1l4.2 8.3h-8.3zM439.3 105.7l4.2 8.3h-8.3zM439.4 105.7l4.2 8.3h-8.3zM439.5 105.7l4.2 8.3h-8.3zM439.5 106l4.2 8.3h-8.3zM439.7 106l4.2 8.3h-8.3zM440.4 105.8l4.2 8.3h-8.3zM440.9 105.8l4.2 8.3h-8.3zM441.1 106.3l4.2 8.3h-8.3zM441.3 106.2l4.2 8.3h-8.3zM441.5 105.8l4.2 8.3h-8.3zM441.5 105.6l4.2 8.3h-8.3zM441.8 106.2l4.2 8.3h-8.3zM441.9 106.1l4.2 8.3h-8.3zM442 105.9l4.2 8.3h-8.3zM442.1 105.9l4.2 8.3h-8.3zM442.4 106.2l4.2 8.3h-8.3zM442.6 106l4.2 8.3h-8.3zM442.8 106l4.2 8.3h-8.3zM442.9 105.8l4.2 8.3h-8.3zM443.3 106.1l4.2 8.3h-8.3zM443.4 105.9l4.2 8.3h-8.3zM443.9 106l4.2 8.3h-8.3zM444 105.5l4.2 8.3h-8.3zM446.3 105.5l4.2 8.3h-8.3zM446.9 105.8l4.2 8.3h-8.3zM447 105.4l4.2 8.3h-8.3zM447 106.1l4.2 8.3h-8.3zM447.1 106l4.2 8.3h-8.3zM447.5 105.8l4.2 8.3h-8.3zM448.3 106l4.2 8.3h-8.3zM448.5 105.1l4.2 8.3h-8.3zM448.7 105.4l4.2 8.3h-8.3zM449.2 105.3l4.2 8.3h-8.3zM449.4 105.7l4.2 8.3h-8.3zM449.7 106.2l4.2 8.3h-8.3zM449.9 105.2l4.2 8.3h-8.3zM450.1 105.5l4.2 8.3h-8.3zM450.3 106.1l4.2 8.3h-8.3zM450.5 106.1l4.2 8.3h-8.3zM450.6 105.5l4.2 8.3h-8.3zM450.8 105.2l4.2 8.3h-8.3zM450.9 105.7l4.2 8.3h-8.3zM451.4 105.9l4.2 8.3h-8.3zM451.5 105.5l4.2 8.3h-8.3zM451.9 105.9l4.2 8.3h-8.3zM452.1 106.1l4.2 8.3h-8.3zM452.2 105.9l4.2 8.3h-8.3zM452.3 105.7l4.2 8.3h-8.3zM452.5 106.1l4.2 8.3h-8.3zM453.2 105.6l4.2 8.3h-8.3zM453.2 105.4l4.2 8.3h-8.3zM453.7 105.7l4.2 8.3h-8.3zM454.1 105.2l4.2 8.3h-8.3zM454.8 105.3l4.2 8.3h-8.3zM454.9 105l4.2 8.3h-8.3zM455.3 105.9l4.2 8.3h-8.3zM455.3 105.9l4.2 8.3h-8.3zM455.5 105l4.2 8.3h-8.3zM455.8 104.9l4.2 8.3h-8.3zM456 106.1l4.2 8.3h-8.3zM456.9 105.8l4.2 8.3h-8.3zM457.1 105.4l4.2 8.3h-8.3zM457.5 105.4l4.2 8.3h-8.3zM457.7 105.7l4.2 8.3h-8.3zM457.9 105.9l4.2 8.3h-8.3zM458 105.5l4.2 8.3h-8.3zM458.8 104.6l4.2 8.3h-8.3zM459.2 105.6l4.2 8.3h-8.3zM459.8 104.8l4.2 8.3h-8.3zM459.9 105.7l4.2 8.3h-8.3zM460.3 105.6l4.2 8.3h-8.3zM460.3 105.3l4.2 8.3h-8.3zM460.4 105.2l4.2 8.3h-8.3zM461.1 104.8l4.2 8.3h-8.3zM461.7 105.7l4.2 8.3h-8.3zM462.6 105l4.2 8.3h-8.3zM463.2 104.6l4.2 8.3h-8.3zM463.2 105.6l4.2 8.3h-8.3zM464 106l4.2 8.3h-8.3zM464 105.1l4.2 8.3h-8.3zM464 105.5l4.2 8.3h-8.3zM464.1 105.3l4.2 8.3h-8.3zM464.5 105.3l4.2 8.3h-8.3zM464.8 105.7l4.2 8.3h-8.3zM465 104.3l4.2 8.3h-8.3zM465.4 104.7l4.2 8.3h-8.3zM465.7 104.9l4.2 8.3h-8.3zM465.8 104.9l4.2 8.3h-8.3zM466.3 104.5l4.2 8.3h-8.3zM466.7 104.4l4.2 8.3h-8.3zM466.8 105.9l4.2 8.3h-8.3zM467.5 105.2l4.2 8.3h-8.3zM467.6 106.1l4.2 8.3h-8.3zM467.8 104.7l4.2 8.3h-8.3zM468.5 104.7l4.2 8.3h-8.3zM468.5 105.6l4.2 8.3h-8.3zM468.6 105.5l4.2 8.3h-8.3zM469 105.6l4.2 8.3h-8.3zM469.6 105.9l4.2 8.3h-8.3zM469.7 105.6l4.2 8.3h-8.3zM469.8 105.4l4.2 8.3h-8.3zM470 104.8l4.2 8.3h-8.3zM470.2 105.2l4.2 8.3h-8.3zM470.3 105.9l4.2 8.3h-8.3zM470.6 106l4.2 8.3h-8.3zM471.1 105.2l4.2 8.3h-8.3zM471.2 104.3l4.2 8.3h-8.3zM471.3 105.5l4.2 8.3h-8.3zM471.9 105.6l4.2 8.3h-8.3zM472.3 105l4.2 8.3h-8.3zM472.5 105.1l4.2 8.3h-8.3zM472.6 104.1l4.2 8.3h-8.3zM472.9 105.1l4.2 8.3h-8.3zM473.1 105.2l4.2 8.3h-8.3zM473.2 104.1l4.2 8.3h-8.3zM473.5 104.8l4.2 8.3h-8.3zM474.3 105.5l4.2 8.3h-8.3zM474.5 104.3l4.2 8.3h-8.3zM474.5 105.4l4.2 8.3h-8.3zM474.6 105.2l4.2 8.3h-8.3zM475.1 104.4l4.2 8.3h-8.3zM475.2 104.4l4.2 8.3h-8.3zM475.2 104.6l4.2 8.3h-8.3zM475.4 104.8l4.2 8.3h-8.3zM475.4 105.5l4.2 8.3h-8.3zM475.8 104.7l4.2 8.3h-8.3zM475.8 104.4l4.2 8.3h-8.3zM476 105.6l4.2 8.3h-8.3zM476 104.4l4.2 8.3h-8.3zM476.1 104.8l4.2 8.3h-8.3zM476.3 103.9l4.2 8.3h-8.3zM476.9 104.3l4.2 8.3h-8.3zM478 104.3l4.2 8.3h-8.3zM479.7 103.9l4.2 8.3h-8.3zM479.8 105.1l4.2 8.3h-8.3zM480.5 105.4l4.2 8.3h-8.3zM481 104.4l4.2 8.3h-8.3zM481.1 104.4l4.2 8.3h-8.3zM482.2 103.9l4.2 8.3h-8.3zM482.3 105.2l4.2 8.3h-8.3zM483.1 103.9l4.2 8.3h-8.3zM483.5 105.1l4.2 8.3h-8.3zM483.6 104l4.2 8.3h-8.3zM483.9 105.1l4.2 8.3h-8.3zM484.1 104.8l4.2 8.3h-8.3zM484.6 104l4.2 8.3h-8.3zM484.8 104.4l4.2 8.3h-8.3zM484.9 104.5l4.2 8.3h-8.3zM485.3 104.3l4.2 8.3h-8.3zM485.6 104.5l4.2 8.3h-8.3zM486.4 104.4l4.2 8.3h-8.3zM486.6 103.6l4.2 8.3h-8.3zM486.8 104.5l4.2 8.3h-8.3zM487 104.9l4.2 8.3h-8.3zM487.1 104.6l4.2 8.3h-8.3zM488.1 104.2l4.2 8.3h-8.3zM488.2 104l4.2 8.3h-8.3zM488.5 103.6l4.2 8.3h-8.3zM488.5 104.8l4.2 8.3h-8.3zM488.6 103.4l4.2 8.3h-8.3zM488.7 104.1l4.2 8.3h-8.3zM488.8 104.1l4.2 8.3h-8.3zM489.7 103.4l4.2 8.3h-8.3zM490.4 104l4.2 8.3h-8.3zM490.5 104.3l4.2 8.3h-8.3zM490.6 104.4l4.2 8.3h-8.3zM490.6 103.8l4.2 8.3h-8.3zM491.3 103.5l4.2 8.3h-8.3zM491.6 104.8l4.2 8.3h-8.3zM492.3 103.9l4.2 8.3h-8.3zM493.1 103.6l4.2 8.3h-8.3zM494.1 103.3l4.2 8.3h-8.3zM494.1 103.9l4.2 8.3h-8.3zM494.8 103.5l4.2 8.3h-8.3zM495.1 103.2l4.2 8.3h-8.3zM495.5 104.3l4.2 8.3h-8.3zM495.7 103.1l4.2 8.3h-8.3zM496.3 104l4.2 8.3h-8.3zM496.4 103.9l4.2 8.3h-8.3zM496.5 104.2l4.2 8.3h-8.3zM496.7 104.1l4.2 8.3h-8.3zM497 103.2l4.2 8.3h-8.3zM497.3 103.5l4.2 8.3h-8.3zM497.4 103.7l4.2 8.3h-8.3zM497.5 103.9l4.2 8.3h-8.3zM497.6 103.8l4.2 8.3h-8.3zM498.2 103.5l4.2 8.3h-8.3zM498.5 103.7l4.2 8.3h-8.3zM498.6 103.3l4.2 8.3h-8.3zM498.7 103.3l4.2 8.3h-8.3zM499.6 103.8l4.2 8.3h-8.3zM499.7 102.8l4.2 8.3h-8.3zM499.7 103.8l4.2 8.3h-8.3zM499.9 103.5l4.2 8.3h-8.3zM520.6 99.8l4.2 8.3h-8.3zM520.4 101.8l4.2 8.3h-8.3zM521 111.8l4.2 8.3h-8.3zM521 114.7l4.2 8.3h-8.3zM523.5 147.4l4.2 8.3h-8.3zM543 90.2l4.2 8.3h-8.3zM543.1 91.9l4.2 8.3h-8.3zM543 93.5l4.2 8.3h-8.3zM543.2 95.2l4.2 8.3h-8.3zM543.2 96.8l4.2 8.3h-8.3zM542.3 97.3l4.2 8.3h-8.3zM542.5 98.9l4.2 8.3h-8.3zM541.8 100.5l4.2 8.3h-8.3zM542.6 102.1l4.2 8.3h-8.3zM542.7 103.7l4.2 8.3h-8.3zM542.8 105.3l4.2 8.3h-8.3zM548 99.7l4.2 8.3h-8.3zM548.2 102.2l4.2 8.3h-8.3zM548.2 101.9l4.2 8.3h-8.3zM548.2 100.4l4.2 8.3h-8.3zM548.6 104.1l4.2 8.3h-8.3zM548.7 103l4.2 8.3h-8.3zM548.7 103.3l4.2 8.3h-8.3zM548.8 102.8l4.2 8.3h-8.3zM549.2 102.3l4.2 8.3h-8.3zM549.2 103.2l4.2 8.3h-8.3zM549.6 103.1l4.2 8.3h-8.3zM549.6 101.2l4.2 8.3h-8.3zM549.7 101l4.2 8.3h-8.3zM549.8 102.1l4.2 8.3h-8.3zM549.8 103.9l4.2 8.3h-8.3zM549.9 103l4.2 8.3h-8.3zM550 103l4.2 8.3h-8.3zM550.1 102.3l4.2 8.3h-8.3zM550.3 100.5l4.2 8.3h-8.3zM550.4 101l4.2 8.3h-8.3zM550.6 100.3l4.2 8.3h-8.3zM550.8 105.2l4.2 8.3h-8.3zM550.8 101.6l4.2 8.3h-8.3zM550.9 105l4.2 8.3h-8.3zM551 100.7l4.2 8.3h-8.3zM551.1 102.3l4.2 8.3h-8.3zM551.1 100.8l4.2 8.3h-8.3zM551.2 104.2l4.2 8.3h-8.3zM551.3 102.6l4.2 8.3h-8.3zM551.7 101.4l4.2 8.3h-8.3zM551.8 99.8l4.2 8.3h-8.3zM551.9 101.8l4.2 8.3h-8.3zM552.1 100.4l4.2 8.3h-8.3zM552.1 104.6l4.2 8.3h-8.3zM552.1 100.9l4.2 8.3h-8.3zM552.5 100.2l4.2 8.3h-8.3zM552.6 102.7l4.2 8.3h-8.3zM552.6 104.2l4.2 8.3h-8.3zM552.8 99l4.2 8.3h-8.3zM552.9 101.2l4.2 8.3h-8.3zM544.3 100.7l4.2 8.3h-8.3zM544.7 103l4.2 8.3h-8.3zM544.8 102.1l4.2 8.3h-8.3zM545.2 101.1l4.2 8.3h-8.3zM545.5 105.3l4.2 8.3h-8.3zM545.5 102.5l4.2 8.3h-8.3zM545.7 103.8l4.2 8.3h-8.3zM546 104.3l4.2 8.3h-8.3zM546.2 101.1l4.2 8.3h-8.3zM546.2 102.4l4.2 8.3h-8.3zM546.5 99.7l4.2 8.3h-8.3zM546.5 104.9l4.2 8.3h-8.3zM546.8 101.2l4.2 8.3h-8.3zM547.3 101.7l4.2 8.3h-8.3zM547.5 102.3l4.2 8.3h-8.3zM547.7 104.6l4.2 8.3h-8.3zM541.8 105.3l4.2 8.3h-8.3zM553.4 105.3l4.2 8.3h-8.3zM549.5 97.8l4.2 8.3h-8.3zM552.5 98l4.2 8.3h-8.3z" fill="#000" stroke="#000" stroke-width="1.39" stroke-linejoin="bevel"/>
<path d="M457.15 180.8V57.6" fill="none" stroke="#f00" stroke-width="2.08" stroke-dasharray="7.71 3.33"/>
<path d="M102 107.3h0M102 110.2h0M102 109.5h0M102 110.6h0M102.1 110.1h0M102.7 110.1h0M102.9 108.4h0M103.1 111.2h0M103.2 111.3h0M103.4 108.5h0M103.7 112.7h0M103.8 109.8h0M103.8 111.7h0M103.9 112.5h0M104.7 111.1h0M105.3 111.7h0M105.4 110h0M105.4 112.9h0M106.3 106.4h0M106.4 107.8h0M106.5 109.8h0M106.5 106h0M106.5 109.6h0M107.5 107.9h0M107.5 110.8h0M107.9 109.4h0M108 111.8h0M108.4 107.5h0M109.5 110.6h0M109.9 109.3h0M109.9 110.6h0M109.9 110.5h0M109.9 110.3h0M110.3 109h0M110.4 107.5h0M110.8 111.7h0M110.9 107.1h0M111.1 108.4h0M111.6 112.4h0M112.2 106.4h0M112.4 110.4h0M112.4 107.6h0M112.8 107h0M112.9 105.7h0M113 108.5h0M113.3 106.5h0M113.5 111.2h0M113.9 107.9h0M114 109.4h0M114 107.9h0M114.1 111.8h0M114.9 109.2h0M115.1 109h0M115.5 111.3h0M115.6 110.2h0M115.9 112.1h0M116 110.8h0M116.1 110.7h0M116.1 112.4h0M116.2 111.2h0M116.3 112.3h0M116.4 108.1h0M116.5 110.5h0M116.6 111.2h0M116.7 108.3h0M116.7 109.8h0M116.9 111.9h0M116.9 109h0M117.1 108.5h0M117.1 110.2h0M117.7 109.8h0M118.3 112.1h0M118.4 110.7h0M118.6 107.9h0M119 111.9h0M119.1 109h0M119.2 110.1h0M119.4 111.2h0M119.6 107.5h0M119.6 111.6h0M119.6 110.8h0M119.6 109.1h0M119.7 110.2h0M119.8 110.9h0M119.9 108.9h0M120 107.8h0M120.4 110.1h0M120.5 111.3h0M120.5 109.1h0M120.6 108.1h0M120.7 108.4h0M120.7 109.9h0M120.7 110h0M121 107.7h0M121.5 109.4h0M121.5 111h0M121.6 110.8h0M121.6 109.2h0M121.8 110.6h0M121.8 110.3h0M121.9 110.3h0M122 111.8h0M122.1 110.3h0M122.2 109.4h0M122.2 108.6h0M122.2 109.1h0M122.3 108.2h0M122.5 109.7h0M122.7 109.6h0M122.7 111.6h0M123.2 110.6h0M123.3 108.7h0M123.4 111.6h0M123.5 107.9h0M123.8 111.1h0M123.9 107.6h0M124.1 110.8h0M124.1 109.1h0M124.2 112.1h0M124.4 112h0M124.5 110.1h0M124.7 111.1h0M124.9 108.1h0M125.1 111.7h0M125.2 108.9h0M125.3 112.4h0M125.6 112.6h0M125.7 108.6h0M125.8 110.1h0M125.9 109.3h0M126.1 109.6h0M126.4 111.8h0M126.5 111.3h0M126.7 112.3h0M126.7 111.7h0M127.8 111h0M127.9 109h0M127.9 110h0M128 110.9h0M128.2 110.7h0M128.2 111.5h0M128.6 109.1h0M128.8 111.2h0M129 111.1h0M129.2 110h0M129.2 109.6h0M129.6 109.4h0M129.7 111h0M129.7 112.3h0M130 111.5h0M130.1 109.7h0M130.2 108.8h0M130.8 111h0M130.9 111.2h0M131.5 112.9h0M131.5 110.3h0M131.6 107.9h0M131.6 112.1h0M131.8 112.9h0M132 109h0M132 108.2h0M132 106.4h0M132 110.5h0M132.6 109.2h0M132.8 111.6h0M133 111.1h0M133.1 107.9h0M133.2 110.7h0M133.3 111.4h0M133.4 108.3h0M133.6 111.5h0M133.6 111h0M133.7 111h0M133.9 111.2h0M134 110.1h0M134.5 107.1h0M134.5 109h0M134.5 111.6h0M134.7 106.2h0M135.1 110.2h0M135.3 108.2h0M135.3 108h0M135.7 110.7h0M135.8 107.2h0M136.1 110h0M136.2 107.7h0M136.2 111.8h0M136.5 107.7h0M136.8 109.1h0M137 109.5h0M137 106.4h0M137.5 109.6h0M137.6 109.7h0M138 111.6h0M138.1 108.7h0M138.2 107.4h0M138.8 109.1h0M138.9 111.1h0M139 109.9h0M139 107.1h0M139.5 112.3h0M139.6 110.1h0M139.6 106.7h0M139.7 106.7h0M140.4 107h0M140.5 110.8h0M140.8 111.5h0M140.8 108.2h0M140.9 107.1h0M141 109.2h0M141 109.1h0M141.1 111.2h0M141.2 110.9h0M141.2 112h0M141.3 111.8h0M141.3 109.1h0M141.5 108.3h0M141.6 110.4h0M141.7 110.7h0M141.8 110h0M142.2 108.6h0M142.4 111.6h0M142.9 107.4h0M143 108.5h0M143.1 110.8h0M143.3 112.2h0M143.3 107.9h0M143.4 109.1h0M143.7 106.8h0M143.7 109h0M143.9 107h0M144.1 109h0M144.5 111.6h0M144.6 111.3h0M144.7 112.6h0M144.9 106.9h0M144.9 112.4h0M145.4 108.2h0M145.4 107.5h0M146 112.1h0M146.1 108.3h0M146.1 108.4h0M146.2 106.7h0M146.5 112.7h0M146.6 109.5h0M147.5 107.3h0M147.6 110.4h0M147.9 106.5h0M147.9 109.5h0M148 110.6h0M148.1 110.1h0M148.3 106.2h0M148.5 108h0M148.6 109.3h0M148.8 110.9h0M148.8 109.8h0M148.8 110.6h0M148.9 110.8h0M149 108.9h0M149 109.5h0M149.1 110.2h0M149.3 109.4h0M149.4 106.7h0M149.6 108.6h0M149.7 109.1h0M149.8 112.3h0M149.8 110.9h0M149.9 106h0M150.1 111.3h0M150.2 108.9h0M150.2 111.8h0M150.3 110.5h0M150.6 112.5h0M150.7 111.6h0M150.7 109.8h0M150.8 112.1h0M151.2 108h0M151.6 110.7h0M151.7 110.3h0M151.8 106.9h0M152 110.6h0M152.2 110.8h0M152.3 109.7h0M152.4 107.2h0M152.5 106.8h0M153.1 107.4h0M153.3 110.1h0M153.3 109.5h0M153.4 107.2h0M153.5 111.4h0M153.7 105.6h0M153.8 110h0M154.1 105.9h0M154.3 110h0M154.6 108.3h0M154.7 109.5h0M154.7 107.3h0M154.8 112.6h0M154.8 109.9h0M154.9 107.5h0M155 109.9h0M155.1 109.5h0M155.4 109.2h0M155.6 109.1h0M155.6 108.8h0M155.8 106.1h0M155.9 108.7h0M156.4 106.9h0M156.6 108.4h0M156.6 109.9h0M156.8 110.5h0M156.8 109.6h0M157.3 109.3h0M157.4 107.5h0M157.7 111.2h0M157.8 108.3h0M157.9 107.8h0M158.3 110.2h0M158.3 107.8h0M158.4 111.5h0M158.6 109.8h0M159.4 111.3h0M159.5 109.4h0M159.5 108.4h0M159.7 107.9h0M159.8 109.6h0M160 110.2h0M160.1 110.5h0M160.2 111.1h0M160.2 110.1h0M160.4 112.5h0M160.7 112.8h0M161 108.3h0M161 111.1h0M161.4 110.6h0M161.8 110.6h0M162.2 107.9h0M162.7 110.3h0M162.8 107.2h0M162.9 111.9h0M163.4 112.1h0M163.4 109.8h0M163.5 111.6h0M163.9 108.5h0M164.2 109.5h0M164.3 111.2h0M164.4 109.3h0M164.6 110.4h0M164.7 110.3h0M164.8 110.3h0M165 111.6h0M165 109.4h0M165.1 109.1h0M166.1 111.1h0M166.2 108.5h0M166.3 107h0M166.5 110h0M166.5 109.2h0M166.8 110.9h0M167.3 108.2h0M167.3 109.3h0M167.8 109.9h0M168.3 108.9h0M168.6 110.4h0M168.6 109.1h0M168.7 107.5h0M169 110.5h0M169.1 110.8h0M169.2 112h0M169.3 107.8h0M169.3 112.1h0M169.3 112.5h0M169.3 107h0M169.4 112.6h0M169.8 111h0M169.8 111.4h0M169.9 110.8h0M170.1 109.3h0M170.1 112.5h0M170.3 107.4h0M170.6 111.2h0M171.1 109.5h0M171.2 106.2h0M171.4 110.6h0M171.5 107.3h0M171.5 112h0M171.5 106.1h0M171.9 108.6h0M172.2 107.3h0M172.5 108.8h0M172.8 106.6h0M172.9 105.5h0M172.9 109.6h0M173 110.7h0M173.3 106.9h0M173.6 110.6h0M173.7 105.9h0M173.7 107.7h0M173.9 106.5h0M174.1 109.4h0M174.2 108h0M174.5 106h0M174.5 110.5h0M174.6 109.9h0M174.7 106.2h0M174.7 107.2h0M174.7 111.2h0M175.3 107.4h0M175.7 107.5h0M175.8 109.7h0M175.9 111.7h0M176.2 108.7h0M176.4 112.4h0M176.4 112.3h0M176.5 108.3h0M176.6 105.7h0M177 110.4h0M177.7 107h0M177.9 111h0M177.9 109h0M177.9 110.8h0M178.1 106.7h0M178.2 106.3h0M178.3 109.3h0M178.4 111.1h0M178.7 109.6h0M178.9 107.3h0M178.9 107.6h0M179.1 108.5h0M179.3 111.1h0M179.5 111.8h0M179.6 110.6h0M179.6 111.6h0M179.8 108h0M180.1 107.7h0M180.2 110.8h0M180.3 110h0M180.3 109.7h0M180.4 110.7h0M180.6 111.6h0M180.6 108.3h0M180.8 106.7h0M180.9 109.9h0M181.1 111h0M181.5 109.5h0M181.6 108.5h0M181.6 110.9h0M181.7 110h0M181.8 112.4h0M182.2 109.5h0M182.3 105.7h0M182.4 110.3h0M182.7 110.1h0M182.9 108.4h0M183 106.9h0M183.1 107.2h0M183.3 111.9h0M183.4 111.4h0M183.4 111.1h0M183.4 109.2h0M183.4 108.8h0M183.5 106.8h0M183.5 110.3h0M183.7 110.2h0M183.9 112.1h0M184.1 107.5h0M184.2 106.6h0M184.5 109.7h0M184.9 107.6h0M185.6 109.8h0M185.6 109.8h0M185.8 109.5h0M185.8 109.7h0M186.1 108.2h0M186.1 109.6h0M186.4 109.1h0M186.5 107.5h0M186.7 108.6h0M186.7 111.4h0M186.9 112.3h0M187.2 107.9h0M187.4 110.5h0M187.6 112.2h0M187.7 108.9h0M187.8 107.2h0M187.9 112.1h0M188.1 108.5h0M188.7 108.2h0M188.7 109.6h0M188.9 110.6h0M189.2 108.6h0M189.4 111.8h0M189.6 111.6h0M189.7 109.3h0M189.7 107h0M189.7 109.3h0M189.7 109h0M190.1 111.4h0M190.2 106.6h0M190.3 110.7h0M190.4 107h0M190.8 106.4h0M190.9 109.6h0M191.1 106.8h0M191.2 107.9h0M191.2 108.3h0M191.7 109.9h0M191.7 106.8h0M192.1 108.6h0M192.3 111.3h0M192.4 108.2h0M192.4 108h0M192.5 112.3h0M192.8 110.9h0M192.9 109.1h0M193 112.4h0M193.2 109.1h0M193.2 107.9h0M193.3 108.1h0M193.4 110.1h0M193.6 106.5h0M193.8 110.4h0M193.9 112.5h0M194 111.3h0M194 110.1h0M194.1 109.9h0M194.1 107.4h0M194.1 108.7h0M194.3 109.1h0M194.3 109.3h0M194.3 112.3h0M194.4 106h0M194.5 110.4h0M194.9 109.2h0M195.2 111.1h0M195.4 106.9h0M195.7 106.7h0M195.7 109.8h0M195.7 106.1h0M195.9 110.3h0M196 110.4h0M196 110.6h0M196.1 110.5h0M196.2 112.1h0M196.3 110.4h0M196.5 109.1h0M196.5 109.6h0M196.7 107.3h0M196.8 110.2h0M196.8 112.2h0M197.7 107.8h0M197.8 110.1h0M198 105.5h0M198.1 110.8h0M198.4 105.8h0M198.5 108.1h0M198.5 110.9h0M198.7 110.8h0M198.9 109.5h0M199.4 111.4h0M199.7 111.4h0M199.8 109.7h0M199.8 109.9h0M200.1 106.6h0M200.4 108.9h0M200.5 107.4h0M200.7 108.2h0M200.9 112.1h0M201 109.7h0M201 109.3h0M201 106.9h0M201.4 110h0M201.7 109h0M201.9 110.4h0M202 110.1h0M202.1 110.2h0M202.2 107.4h0M202.2 108.8h0M202.3 110.8h0M202.4 109.2h0M202.5 109.8h0M202.6 106.6h0M202.7 110.1h0M202.9 106.7h0M203.1 109.5h0M203.3 106.9h0M203.4 106h0M203.4 108h0M204 107h0M204.1 108.6h0M204.7 107.6h0M205.1 112h0M205.7 107.8h0M205.7 109.2h0M205.8 105.9h0M206.1 111.7h0M206.2 108.8h0M206.5 106h0M206.5 108.1h0M206.9 112.4h0M207 108.6h0M207.5 108.9h0M207.8 105.9h0M207.9 111.8h0M208 106.5h0M208.1 109.9h0M208.2 109.3h0M208.3 110.7h0M208.4 110.5h0M208.4 109.6h0M208.6 105.5h0M208.7 106.1h0M209 107.2h0M209.1 111.4h0M209.1 110.9h0M209.2 108.1h0M209.5 107.8h0M209.6 111.1h0M209.7 109.7h0M209.8 108.8h0M209.8 108.9h0M209.9 110.3h0M210 112.1h0M210 110.3h0M210 108.8h0M210.1 111.4h0M210.3 107.9h0M210.3 108.7h0M210.5 111.4h0M210.5 108.6h0M211.5 109.6h0M211.8 111.9h0M211.9 108.9h0M212.1 111.3h0M212.4 109.2h0M212.4 110.1h0M212.8 110.7h0M212.9 108.1h0M213 110.7h0M213.2 108.6h0M213.4 110.6h0M213.8 108.6h0M213.8 112.1h0M213.9 106.9h0M214.1 110.5h0M214.2 107.8h0M214.5 112.7h0M214.6 108.6h0M214.7 108.1h0M214.7 109.4h0M215 106.8h0M215.3 109.9h0M216 111.4h0M216.3 109.3h0M216.5 108.7h0M216.9 108.5h0M217.3 108.1h0M217.6 109.4h0M217.6 109.6h0M217.6 108.7h0M217.6 110.4h0M217.8 110.2h0M217.8 109.6h0M217.9 109.2h0M217.9 111.9h0M218 107.5h0M218 108.5h0M218 111.2h0M218.1 108.7h0M218.2 110.4h0M218.3 109.4h0M218.7 107.9h0M218.8 109.3h0M219.1 108.7h0M219.2 110.6h0M219.2 108.9h0M219.9 110.6h0M219.9 112.1h0M220.1 109.4h0M220.2 109.1h0M220.3 111h0M220.7 108.6h0M220.8 110.7h0M220.8 111.5h0M220.9 109.3h0M220.9 111.7h0M220.9 108.9h0M221 109.5h0M221.2 110.7h0M221.2 111.8h0M221.4 108.6h0M221.6 111.4h0M221.6 109.2h0M221.7 111.7h0M221.7 111.2h0M221.8 111.4h0M222.1 108h0M222.1 110.4h0M222.2 108.1h0M222.4 108.4h0M222.5 62.8h0M222.5 88.4h0M222.6 104.5h0M289.7 75.4h0M289.6 80.7h0M289.6 84h0M289.7 87h0M289.7 89.8h0M289.7 92.2h0M290 101.7h0M288.5 94.9h0M289.2 105.3h0M289.5 107.3h0M287.6 100h0M289.2 94.7h0M290.3 104.2h0M290.1 97.8h0M289.3 94h0M285.7 104.9h0M286.4 103h0M286.6 100.5h0M290.8 102.8h0M289.6 96.8h0M290.7 104.5h0M288.2 99h0M288.9 96.6h0M286.3 107.5h0M290.4 97.7h0M289.2 105.2h0M290.1 99.9h0M286.7 106.9h0M290.5 105.5h0M289 95h0M285.4 104.7h0M288.4 108h0M286.2 107.4h0M288.1 99.5h0M288.8 106.9h0M289.5 95h0M285.5 107.7h0M287.2 109h0M289.3 99.1h0M286.8 104.6h0M288 98.3h0M285.5 105.4h0M289.9 94.8h0M289.4 97.5h0M285.4 105.9h0M287.6 102.6h0M289.2 93.8h0M286.7 107.7h0M288.3 108.2h0M290.6 99.1h0M289.2 96.4h0M284.7 106.6h0M289 96.1h0M287.3 102.6h0M285.4 106.7h0M289.1 95.2h0M290.5 107h0M289.7 98.4h0M288.7 106.3h0M290.2 97.1h0M289.7 100.5h0M290.8 102.7h0M288.2 103.9h0M286.6 101.8h0M289.4 103.2h0M290 97.6h0M289.6 97.1h0M287.3 107.8h0M288.7 94.3h0M290.6 109.1h0M289.5 105.5h0M285.8 104.4h0M289.7 99.8h0M290.7 102h0M287.9 98.6h0M288.2 108h0M288.9 94.3h0M289.5 108.8h0M289.9 107.1h0M287.6 102.2h0M286.8 106.1h0M289.2 95.1h0M291.2 101.9h0M289.3 104.2h0M289.7 105.1h0M285.3 105h0M288.4 103.8h0M288.3 97.8h0M287.9 96.7h0M286.3 103.1h0M289 94.1h0M289.1 93.9h0M288.3 95.8h0M289 96.1h0M289.8 98.4h0M288.8 99.6h0M287.9 101.7h0M287.7 99.6h0M286 102.7h0M290.1 108.9h0M289.9 99.2h0M287.8 102.1h0M285.9 108.5h0M290.6 100h0M287.6 99.2h0M291.4 102.7h0M288.6 108.3h0M288.3 96.1h0M289.2 101h0M290.2 99.6h0M288.2 101.6h0M289.6 97.9h0M290.2 104.7h0M286.1 108.2h0M286.2 108.8h0M288.3 96.4h0M291.3 103.8h0M290.7 100.5h0M286.2 107.5h0M289.6 93.9h0M290 99.3h0M285 107.4h0M290.2 99.1h0M287.2 99.1h0M285.6 106.3h0M290 101.9h0M287.3 101.2h0M289.7 97.5h0M286.9 105.6h0M290.1 100.9h0M290.1 102.6h0M289.4 93.5h0M289.3 98.1h0M288.6 97.8h0M289.8 104.1h0M287 104.7h0M289.6 99.2h0M289.9 101.6h0M289.6 104.8h0M288.6 96h0M290.2 101.7h0M288.6 98.4h0M288.6 98.2h0M290.2 98h0M285.8 106.5h0M288.4 95.4h0M300.4 85.4h0M315.5 101.8h0M315.5 109h0M315.6 100.3h0M315.7 101.7h0M315.8 96.6h0M316 106.8h0M316.1 102.4h0M316.1 99.6h0M316.1 102.5h0M316.3 100.7h0M316.3 106h0M316.3 110.5h0M316.6 98.4h0M317.2 103.4h0M317.3 106.9h0M317.5 105.8h0M317.7 101h0M317.7 103.6h0M317.7 106.6h0M317.8 101.4h0M318 101.1h0M318.1 100.6h0M318.1 103.1h0M318.2 102.2h0M318.5 107.5h0M318.6 111.2h0M318.6 103.7h0M319.1 108.9h0M319.2 111.8h0M319.3 105.3h0M319.3 110.2h0M319.4 104.8h0M319.6 105.1h0M319.7 109.5h0M319.9 110.8h0M320 105.2h0M320.1 105.3h0M320.1 106.6h0M320.6 105.3h0M321.1 105.5h0M321.5 108.7h0M321.6 103.7h0M321.8 104.7h0M321.9 111.5h0M322.3 105.4h0M322.4 110.1h0M322.4 107.6h0M322.6 112.1h0M322.8 110.4h0M322.9 110.2h0M322.9 108.9h0M323 108.4h0M323.1 109.9h0M323.4 110.5h0M323.5 105.9h0M323.8 108.3h0M324 109.4h0M324.1 105.3h0M324.4 109.7h0M324.5 111.7h0M324.7 106h0M324.8 107.4h0M324.8 109.6h0M324.9 109.9h0M324.9 110.4h0M324.9 111.9h0M325.1 110.2h0M325.2 111.3h0M325.2 111.4h0M325.4 111.2h0M325.4 107.6h0M325.4 106.6h0M325.7 109.5h0M325.7 106.1h0M325.8 111.6h0M325.9 108.6h0M326 111h0M326.5 110.2h0M326.7 110.5h0M326.9 110.4h0M327.4 111.4h0M327.6 109.1h0M327.6 108.9h0M327.7 110.5h0M327.9 107.1h0M327.9 110h0M328 108.1h0M328 111.3h0M328.2 107.7h0M328.2 109.9h0M328.6 109.9h0M328.7 107.4h0M328.8 110.4h0M328.8 108.3h0M328.9 110h0M329 108.6h0M329 109.4h0M329.1 108.5h0M329.1 112.1h0M329.6 107h0M329.8 111.1h0M329.8 106.8h0M330 111.2h0M330.1 107.6h0M330.2 107.9h0M330.3 108h0M330.5 107h0M330.6 108.3h0M330.6 106.8h0M330.8 111h0M331.1 109.2h0M331.1 109h0M331.1 107.8h0M331.3 105.7h0M331.4 110.7h0M331.5 107h0M331.9 107.6h0M332 110h0M332 109.6h0M332.2 110h0M332.6 110.2h0M332.6 108.7h0M332.7 108.8h0M332.8 108.6h0M332.9 111.5h0M332.9 111.1h0M333 109.4h0M333.2 111.3h0M333.2 106.7h0M333.4 109h0M333.5 110.8h0M333.5 108.9h0M333.5 106.8h0M333.6 110.2h0M333.7 108.4h0M333.8 111.1h0M334 108.3h0M334 107.6h0M334.4 107.1h0M334.4 111.6h0M334.4 107.8h0M334.5 110.6h0M334.5 106.7h0M334.5 108.1h0M334.5 107.5h0M334.6 110.8h0M334.7 110.4h0M334.7 108h0M334.9 112h0M335 108.9h0M335.2 108.1h0M335.2 110h0M335.3 107.2h0M335.3 107.8h0M335.3 112.3h0M335.4 108.8h0M335.6 111.4h0M335.6 109.3h0M335.6 106.5h0M335.6 109.1h0M335.8 106.9h0M335.8 112.4h0M335.8 110.7h0M335.9 110.5h0M335.9 107.6h0M335.9 109.9h0M336 107.8h0M336.3 111.2h0M336.4 107.7h0M336.4 107.7h0M336.5 107.5h0M336.5 106.5h0M336.7 110.9h0M336.8 111.4h0M336.8 109.6h0M336.9 111.2h0M337 110.1h0M337 109.9h0M337.1 110.9h0M337.1 107.1h0M337.4 108.2h0M337.6 110.4h0M337.8 109.7h0M337.8 107.1h0M338.1 109.4h0M338.3 107.7h0M338.4 109h0M338.5 113h0M338.7 108.6h0M338.9 105.3h0M339 108.8h0M339.2 112h0M339.4 111.8h0M339.4 108.7h0M339.8 105.9h0M339.9 106.7h0M340.7 111.4h0M340.7 105.5h0M340.8 109.3h0M340.8 105.5h0M341 110.4h0M341 108.6h0M341.1 111.9h0M341.2 107.9h0M341.5 106.4h0M341.6 106.4h0M341.6 110.4h0M341.8 108.1h0M342 111.4h0M342.1 111.7h0M342.2 112.4h0M342.3 109.4h0M342.4 109.7h0M342.5 110h0M342.7 111.3h0M342.9 110.9h0M343 108.7h0M343.4 108.9h0M343.5 110.1h0M343.6 109.6h0M343.7 109.5h0M343.8 112h0M344.4 108.4h0M344.5 107.8h0M344.6 106.2h0M344.7 111.9h0M344.8 110.3h0M345.2 110.8h0M345.2 111.8h0M345.2 111.8h0M345.4 108.8h0M345.6 109.3h0M345.7 105.9h0M345.8 107.7h0M346 105.4h0M346.1 109h0M346.1 106h0M346.3 106.2h0M346.4 109.1h0M346.5 107.7h0M347.1 106.1h0M347.1 107.4h0M347.2 106.7h0M347.4 110.6h0M347.5 106h0M347.6 106.9h0M347.6 109.1h0M347.7 104.9h0M347.8 111.1h0M348.2 107.2h0M348.3 109h0M348.4 109.7h0M348.6 111.7h0M348.7 108.4h0M348.7 110.5h0M348.7 108.7h0M348.8 111.7h0M349 108.6h0M349 109.7h0M349.1 107.3h0M349.1 109.9h0M349.1 107.9h0M349.3 106.2h0M349.4 105.5h0M349.5 105.5h0M349.7 106.6h0M350.1 106.9h0M350.1 112.1h0M350.1 107h0M350.3 106.5h0M350.4 105.5h0M350.5 108.3h0M350.6 111.4h0M350.7 106.9h0M351 112.2h0M351.1 107.1h0M351.2 107.5h0M351.4 108.8h0M351.5 112.9h0M351.7 106.5h0M351.8 108.6h0M351.9 112.7h0M352.1 108.7h0M352.1 108.5h0M352.2 109.8h0M352.4 107.5h0M352.5 111.6h0M352.5 107.4h0M352.7 111.5h0M352.8 109.9h0M352.8 109.5h0M353.1 112.2h0M353.2 110.7h0M353.4 112.7h0M353.4 106.4h0M353.4 111.6h0M353.4 106.3h0M353.7 112.2h0M353.9 110.9h0M353.9 108.7h0M354 108.4h0M354 107.7h0M354.1 109.7h0M354.4 108h0M354.5 106.4h0M354.5 109.4h0M354.7 106.4h0M354.7 110.4h0M354.7 108.9h0M354.8 105.7h0M354.9 107.4h0M355.1 111.4h0M355.2 112.2h0M355.5 107.6h0M355.5 107.9h0M355.5 109.1h0M355.9 105.9h0M356.1 107.9h0M356.1 111.8h0M356.1 110.2h0M356.2 107.8h0M356.2 111.9h0M356.2 106.5h0M356.4 108.9h0M356.7 112.1h0M356.9 112.5h0M357 111.7h0M357.1 107.2h0M357.1 106.9h0M357.3 108.9h0M357.3 107.8h0M357.3 110.6h0M357.5 110.6h0M357.7 110h0M357.7 109.3h0M357.8 107.8h0M357.8 109.8h0M357.9 111h0M357.9 110.3h0M357.9 111.9h0M358.1 108.8h0M358.2 106h0M358.7 109.7h0M358.8 109.2h0M358.9 110.7h0M358.9 108.4h0M359 109.9h0M359 108.1h0M359.2 111.9h0M359.5 111.1h0M359.7 111h0M359.8 108.5h0M360 108.8h0M360.1 107.2h0M360.4 110.4h0M360.5 110.9h0M360.5 111.6h0M360.5 111.3h0M360.8 111.2h0M360.9 111.2h0M361 110.9h0M361 109.7h0M361.4 110.1h0M361.5 108.6h0M361.7 107.1h0M361.8 109.8h0M361.9 111h0M362 107.4h0M362.1 105.7h0M362.1 109.6h0M362.1 108.7h0M362.5 112h0M362.9 108.5h0M363 110.4h0M363 110.7h0M363.4 109.2h0M363.5 109.6h0M363.6 108.6h0M363.9 107.3h0M364 107.2h0M364.1 108.6h0M364.2 108.5h0M364.5 110.7h0M364.5 107.4h0M364.5 106.5h0M364.5 107.5h0M364.7 108.2h0M364.8 108.6h0M364.9 110h0M365 107.7h0M365.1 109.7h0M365.1 111.2h0M365.2 106.5h0M365.3 110.7h0M365.4 108.9h0M365.6 109.1h0M365.7 110.9h0M365.7 109.2h0M365.8 108.8h0M365.9 111.8h0M366.1 109.4h0M366.3 107.6h0M366.6 108.2h0M366.7 106.1h0M366.9 110.9h0M367.2 111.8h0M367.2 111.8h0M367.3 106.6h0M367.4 107.4h0M367.5 109.7h0M367.7 111h0M367.8 107.9h0M367.8 108.6h0M368 106.6h0M368.3 106.5h0M368.4 107.3h0M368.4 105.6h0M368.5 111.1h0M368.5 108.6h0M368.6 109.6h0M368.7 109.8h0M368.7 105.8h0M369.5 105.8h0M369.5 106.5h0M369.6 111h0M369.8 107.9h0M369.9 111.2h0M370 107h0M370 107h0M370.1 112.5h0M370.2 112.1h0M370.4 108.3h0M370.7 109.3h0M370.8 108.7h0M370.8 108.7h0M370.9 112.9h0M371.3 108.7h0M371.4 108.1h0M371.5 108.6h0M371.5 109h0M371.7 111.5h0M371.8 110.7h0M371.9 108.1h0M372 107.9h0M372 107.8h0M372.2 112.2h0M372.3 106.9h0M372.3 107.3h0M372.3 112.6h0M372.4 112.2h0M372.7 111h0M373.1 112.4h0M373.3 110h0M373.6 107.6h0M373.6 110.3h0M373.7 110.4h0M374 109.8h0M374.2 111.2h0M374.2 111.4h0M374.3 107.2h0M374.9 109.9h0M374.9 111.4h0M375 108.2h0M375 107.8h0M375.2 108h0M375.3 109h0M375.3 110.5h0M375.8 110.1h0M376.2 106.9h0M376.3 111.3h0M376.5 110.9h0M376.9 111.4h0M377.3 108.7h0M377.4 112h0M377.7 110.6h0M377.7 111.3h0M377.8 111.1h0M377.9 110.3h0M378.2 107.7h0M378.5 108.7h0M378.5 109.6h0M378.7 109.1h0M378.7 111.1h0M378.8 107.4h0M379 106.8h0M379 110.2h0M379.4 112.1h0M379.7 109.1h0M379.8 107.4h0M379.9 109.1h0M380.1 109.1h0M380.2 111.5h0M380.2 106h0M380.2 108.7h0M380.3 109h0M380.4 110.1h0M380.4 110.5h0M380.9 107.2h0M381.2 107.5h0M381.5 110h0M381.6 108h0M381.7 108.2h0M381.9 107.8h0M382 106h0M382 108.8h0M382.3 108.5h0M382.3 110.6h0M382.4 108.8h0M382.7 110.6h0M382.7 109.8h0M382.8 110.1h0M382.9 109h0M383.1 108.1h0M383.1 105.3h0M383.1 106h0M383.3 108.7h0M383.3 110.7h0M383.4 104.9h0M383.4 107.8h0M383.8 105.4h0M383.8 109.9h0M383.8 111h0M383.9 106.4h0M384 108h0M384 110.9h0M384.2 107.7h0M384.3 105.7h0M384.7 109.7h0M384.9 105.9h0M385 105.3h0M385.2 106.8h0M385.3 109.2h0M385.4 108.5h0M385.6 106.7h0M385.6 111.9h0M385.8 107.1h0M385.9 108.1h0M386.2 108h0M386.3 109.2h0M386.5 108.8h0M386.5 108.1h0M386.5 105.3h0M386.6 107.6h0M386.6 105.3h0M386.6 108.4h0M386.9 109.2h0M386.9 108.4h0M387.2 109.9h0M387.2 111.1h0M387.4 105h0M387.7 111.9h0M387.7 109.5h0M388 106.3h0M388.1 106.1h0M388.4 109.5h0M388.4 106.9h0M388.6 104.7h0M388.7 105.7h0M388.9 106.3h0M389.7 108.4h0M389.8 107h0M389.9 109.8h0M390 109.3h0M390.2 105.2h0M390.3 107.8h0M390.4 109.7h0M390.5 111.6h0M390.5 111.3h0M390.7 108.1h0M390.8 111h0M390.8 107.1h0M391.1 110.4h0M391.3 110.8h0M391.3 109.8h0M391.5 107.4h0M391.7 107.3h0M391.7 111.7h0M391.8 111.5h0M391.9 109.6h0M392 107.4h0M392 107.4h0M392.2 106.2h0M392.2 108.7h0M392.4 110.3h0M392.4 107.8h0M392.4 108.6h0M392.6 111.5h0M393.2 111.2h0M393.3 111.7h0M393.3 109.8h0M393.4 111.5h0M393.5 108.9h0M393.6 110.5h0M393.8 111.9h0M394.1 111.6h0M394.2 106.7h0M394.3 109.4h0M394.7 107.3h0M394.8 107.2h0M394.8 110.1h0M394.9 107.7h0M395 108.7h0M395 108.9h0M395.2 111.7h0M395.5 107.7h0M395.6 110.4h0M395.7 110.9h0M395.7 110.3h0M395.8 108.8h0M395.8 110h0M395.9 108.5h0M396 107.4h0M396.2 109.6h0M396.3 106.5h0M396.4 109.5h0M396.6 110.3h0M396.6 110h0M396.7 109.8h0M397 109.1h0M397 106.1h0M397.1 109.1h0M397.1 110.2h0M397.2 105.2h0M397.4 107.9h0M397.5 106.3h0M397.6 110.5h0M397.6 110.4h0M397.7 105.7h0M397.8 105.2h0M397.8 110.5h0M398.3 107.5h0M398.5 108.2h0M398.6 109.7h0M398.6 110.1h0M398.6 111.1h0M398.7 108.3h0M398.7 107.2h0M399 109.5h0M399 108.2h0M399 109.7h0M399.1 110.1h0M399.2 105.5h0M399.2 107.5h0M399.5 107.4h0M399.5 106.3h0M399.6 105.2h0M399.6 109.2h0M399.7 108.1h0M399.7 112.1h0M399.7 110.1h0M399.8 108.4h0M399.9 110.4h0M400.1 109.3h0M400.1 109.1h0M400.1 111.2h0M400.1 108.5h0M400.4 111.5h0M400.7 108.7h0M400.9 110.6h0M401 112.3h0M401 108.8h0M401.3 109.7h0M401.3 111.2h0M401.5 106.9h0M401.5 109.1h0M401.6 107.5h0M401.9 108.6h0M402.2 108.9h0M402.2 108.2h0M402.3 107.4h0M402.4 112.1h0M402.5 112.3h0M402.6 108.6h0M402.6 108h0M402.7 106.8h0M402.8 110.2h0M403 111.1h0M403.1 108.3h0M403.2 107.4h0M403.3 111.8h0M403.4 107.6h0M403.5 111.4h0M403.5 107.7h0M403.7 106.4h0M403.9 106.5h0M403.9 106.5h0M404 108.4h0M404.1 110.6h0M404.1 106.9h0M404.1 112h0M404.3 109.4h0M404.4 106.9h0M404.4 107.5h0M404.4 108.8h0M404.5 106.5h0M404.5 105.8h0M404.6 110.3h0M404.8 110.2h0M404.8 107h0M405.1 108.2h0M405.1 110h0M405.3 108.3h0M405.5 109.4h0M405.5 111.1h0M405.5 106.2h0M405.5 105.9h0M405.6 110h0M405.7 105.8h0M405.7 111h0M405.8 106.1h0M405.9 107.1h0M406 105.6h0M406.1 106.8h0M406.2 108h0M406.4 106h0M406.4 108.3h0M406.6 112.5h0M406.7 112.2h0M406.7 105.3h0M406.8 106h0M407.2 108.6h0M407.2 109.9h0M407.4 111.5h0M407.5 108.8h0M407.6 105.9h0M407.6 108.2h0M407.7 105.6h0M407.7 105.4h0M408 111.5h0M408.1 105.6h0M408.3 112.7h0M408.3 105.3h0M408.4 112.4h0M409 109.1h0M409.3 109.8h0M409.4 108.9h0M409.5 112.2h0M409.6 111.3h0M409.8 111.2h0M409.8 111.8h0M410.8 109.7h0M411.1 106.5h0M411.2 107.1h0M411.5 106.3h0M411.5 106.3h0M411.9 111h0M412 109.2h0M412.2 111.6h0M412.4 109.3h0M413 110.3h0M413.1 111.9h0M413.2 111.1h0M413.2 106.2h0M413.3 108.7h0M413.5 112.9h0M413.5 108.2h0M413.5 107.6h0M413.6 106.7h0M413.8 106.6h0M413.9 108.5h0M414 111.7h0M414 106.2h0M414 107.3h0M414 109.3h0M414.2 109.2h0M414.2 108.3h0M414.3 111.8h0M414.3 111.1h0M414.4 106.2h0M414.8 109.2h0M414.9 105.8h0M415.2 109h0M415.3 107.5h0M415.4 109.7h0M415.4 107.1h0M415.4 109.4h0M415.9 107.7h0M416.1 110.4h0M416.2 107.3h0M416.5 105.3h0M416.6 112.5h0M416.7 111.3h0M416.8 107.6h0M417 105.8h0M417.1 109.3h0M417.1 108.6h0M417.1 107.8h0M417.1 105h0M417.2 110.2h0M417.3 106.8h0M417.4 111.5h0M417.4 111.1h0M417.6 108.1h0M417.7 109.2h0M417.8 108.3h0M418.4 111.9h0M418.5 109.7h0M419.2 109.9h0M419.4 107.4h0M419.5 109.4h0M419.6 111.6h0M419.6 111.5h0M419.8 105.6h0M419.9 110.4h0M419.9 112.2h0M420 109.6h0M420 111.8h0M420.3 111.6h0M420.5 105.8h0M421 110.1h0M421.2 108.5h0M421.3 108.6h0M421.4 107h0M421.5 108.6h0M421.6 106.9h0M421.8 111.2h0M422 112h0M422 109.9h0M422.2 105.7h0M422.4 109.9h0M422.5 110.2h0M422.8 109.9h0M422.8 110.1h0M422.9 109.5h0M423.1 111.7h0M423.1 111.4h0M423.6 111.7h0M423.8 106.6h0M424.1 108.5h0M424.1 111.7h0M424.2 106.6h0M424.2 108.3h0M424.4 109.9h0M424.8 107.2h0M424.9 106.5h0M425.1 110.4h0M425.2 107h0M425.3 112.2h0M425.4 109.2h0M425.4 111.4h0M426 111.8h0M426 109.3h0M426.1 106.9h0M426.2 109h0M426.2 107.9h0M426.6 106.5h0M426.7 105.6h0M426.8 110.1h0M426.8 107.5h0M427 111.1h0M427.1 109.3h0M427.3 106h0M427.6 110.6h0M427.7 105.4h0M427.7 109h0M428.1 111.8h0M428.1 106.1h0M428.2 105.5h0M428.4 108.4h0M428.4 108.1h0M428.6 110.6h0M429.1 108h0M429.4 106.1h0M429.7 106.8h0M429.7 109.4h0M429.7 109.8h0M430 107.5h0M430 107.3h0M430.1 108.3h0M430.1 108.7h0M430.2 110.9h0M430.6 106h0M430.7 112h0M431 106.3h0M431 107.3h0M431 107.8h0M431.1 111.2h0M431.2 111.1h0M431.4 111.4h0M431.4 110.1h0M431.4 109.6h0M431.6 111.5h0M431.7 108h0M431.7 107.9h0M431.8 110.1h0M432 106.8h0M432 111.3h0M432 107.8h0M432.1 108.7h0M432.2 110.2h0M432.3 106.6h0M432.6 106.8h0M432.6 110.1h0M432.6 107.3h0M432.6 106.1h0M432.8 109.2h0M432.8 111.2h0M433 111.2h0M433 109.9h0M433.1 109.4h0M433.3 106h0M433.3 112h0M433.6 109.7h0M433.7 108.1h0M434.2 109.3h0M434.4 109.5h0M434.5 110.6h0M434.8 111.5h0M434.8 108.4h0M434.9 107.5h0M435 110h0M435.2 110.9h0M435.4 108.2h0M435.9 110.2h0M436 110.6h0M436 108h0M436.3 109.5h0M436.4 109.5h0M436.4 111.6h0M436.4 111.6h0M436.4 107.7h0M436.5 108.5h0M436.8 107.2h0M436.9 110.6h0M436.9 108.6h0M437 107.3h0M437.1 107.2h0M437.3 105.5h0M437.4 109.8h0M437.7 112.1h0M437.8 111.9h0M437.8 106.3h0M438 111.5h0M438.2 106.1h0M438.2 110.8h0M438.3 107.2h0M438.3 110.1h0M439 107.9h0M439.1 105.6h0M439.4 107.9h0M439.9 110.6h0M440 107.9h0M440.1 108.7h0M440.4 107.2h0M440.4 110.8h0M440.5 111h0M440.8 110.1h0M440.9 109.5h0M440.9 108.1h0M440.9 108.8h0M441 110.9h0M441.1 110.8h0M441.3 108.4h0M441.5 106.8h0M441.6 108.2h0M441.7 109.1h0M441.9 109.7h0M442 108.9h0M442.1 111.8h0M442.5 109.1h0M442.7 106.8h0M442.8 110.3h0M442.8 110.8h0M443.4 108.4h0M443.4 106h0M443.4 104.9h0M443.5 108.2h0M443.8 106.4h0M443.8 109.2h0M444.2 105.6h0M444.5 108.2h0M444.6 107.5h0M444.6 106h0M444.8 111.3h0M445 110.8h0M445.1 110.8h0M445.1 112.2h0M445.2 106.6h0M445.4 111.9h0M445.5 108.5h0M445.5 111.6h0M445.7 110.3h0M445.8 110.6h0M445.9 106.3h0M446 106.3h0M446.1 105.8h0M446.1 111.2h0M446.1 112h0M446.3 108.2h0M446.5 106.7h0M446.6 109.3h0M446.6 111.1h0M446.6 108.6h0M446.6 106h0M446.9 109.2h0M447 107.9h0M447.5 109.6h0M447.7 105.3h0M447.8 107h0M447.9 109.9h0M448.2 109.6h0M448.4 108.1h0M448.4 110.6h0M448.5 109.2h0M448.7 106.1h0M448.7 109.8h0M449 106.9h0M449.2 106h0M449.5 111.1h0M449.9 110.4h0M449.9 111h0M450 109.6h0M450.1 107.3h0M450.3 111.7h0M450.3 107.7h0M450.3 110h0M450.4 109.6h0M450.7 105.7h0M450.9 107.4h0M450.9 107.1h0M451 110.6h0M451 109.3h0M451.1 105.7h0M451.1 111.7h0M451.1 106.9h0M451.2 109.3h0M451.2 107h0M451.3 107.5h0M451.4 110.1h0M451.5 110.4h0M451.6 109.4h0M451.7 110.1h0M451.7 110.4h0M451.7 107.9h0M452 110.3h0M452.2 108.5h0M452.2 108.9h0M452.2 112h0M452.6 108.7h0M452.7 107.4h0M453 112.3h0M453 109.2h0M453.2 107.9h0M453.2 109.7h0M453.4 109.9h0M453.4 111.9h0M453.4 106.1h0M453.5 110.8h0M453.6 109.2h0M453.7 111.2h0M454.1 106.9h0M454.3 107.6h0M454.4 106h0M454.7 109h0M454.7 109.1h0M454.9 109.1h0M455.2 106.8h0M455.4 107.9h0M455.5 109.5h0M455.7 107.1h0M455.9 107.8h0M456.4 106.2h0M456.6 108.4h0M456.7 106.1h0M456.9 109h0M457 109.6h0M457 108.4h0M457.1 106.6h0M457.3 109.5h0M457.4 106.8h0M458 106.6h0M458 107.6h0M458.1 109.3h0M458.2 109.2h0M458.3 107.6h0M458.4 105.8h0M459.1 107h0M459.3 109.6h0M459.4 106.6h0M459.6 108.5h0M460 106.9h0M460.2 107.4h0M460.8 107.4h0M460.8 106.6h0M460.8 107h0M460.9 110.5h0M460.9 112.4h0M461 108.1h0M461.2 112.2h0M461.4 110.1h0M461.5 112h0M461.6 106.9h0M461.7 109.1h0M461.9 106.8h0M461.9 112h0M462.2 109.3h0M462.3 107h0M462.4 107h0M462.5 107.2h0M462.6 107.8h0M462.7 109.4h0M462.9 110.7h0M462.9 105.3h0M463 110.6h0M463 107.4h0M463.4 105.5h0M463.8 110.8h0M464.5 107h0M464.6 112h0M464.7 109.6h0M464.8 108.3h0M465 109.1h0M465.1 106.5h0M465.2 109.1h0M465.5 108h0M465.7 106.2h0M465.9 104.6h0M466 110.6h0M466.3 105.5h0M466.4 108.2h0M466.4 110.5h0M466.4 110.4h0M466.6 108.1h0M466.7 109.4h0M466.9 108.4h0M466.9 109.3h0M466.9 105.1h0M467.1 105.7h0M467.1 107.3h0M467.2 109.8h0M467.3 108h0M467.5 110.8h0M467.5 109.5h0M467.6 111h0M467.6 112.4h0M467.6 112.8h0M468.2 110.1h0M468.3 109.6h0M468.5 105.4h0M468.5 106.8h0M468.6 111.1h0M468.7 109.8h0M468.9 107.1h0M469.5 107.6h0M469.5 108.5h0M469.6 106.2h0M469.7 105.2h0M469.8 104.7h0M469.8 108.2h0M470.2 109.4h0M470.5 108.3h0M470.6 108.8h0M470.7 105.7h0M470.9 107.9h0M471 105.5h0M471 108.1h0M471.1 104.3h0M471.3 104.8h0M471.3 108.4h0M471.4 105.5h0M471.5 107.6h0M471.7 106h0M472.1 108.1h0M472.3 109.6h0M472.4 104.7h0M472.5 110.4h0M472.5 110.1h0M472.8 107.6h0M473 107.3h0M473.3 109.2h0M473.5 111.2h0M474.2 105.4h0M474.3 107.7h0M474.4 107.6h0M474.5 109.9h0M474.6 104.8h0M474.7 106.2h0M474.8 109.3h0M475.2 108.2h0M475.3 104.3h0M475.7 107h0M475.9 105.1h0M475.9 108.5h0M476 108.2h0M476.1 106h0M476.6 109.8h0M476.8 106.5h0M477.1 107.2h0M477.2 105.6h0M477.3 108.5h0M477.4 105.9h0M477.5 105.5h0M477.9 109.9h0M478.4 104.5h0M478.4 104.9h0M478.5 108.5h0M478.5 108.1h0M478.5 104.6h0M478.6 107.6h0M479.1 107.5h0M479.2 105.2h0M479.3 106.8h0M479.4 107.9h0M479.5 108.6h0M479.6 107.8h0M479.7 104.4h0M479.8 111.6h0M480.4 110.8h0M480.5 112h0M480.5 112h0M480.6 108.1h0M480.8 105.9h0M480.9 103.9h0M480.9 107.2h0M481.2 104.6h0M481.3 109.3h0M481.3 106.5h0M481.6 106.6h0M481.8 105.4h0M481.8 111.8h0M482 111.3h0M482 111.6h0M482.2 107.2h0M482.2 109h0M482.3 108.7h0M482.5 108.8h0M482.5 104.7h0M482.6 106.7h0M482.6 104.1h0M482.6 110h0M482.7 110.6h0M482.8 105.8h0M482.8 111.6h0M482.9 107.4h0M483 109.8h0M483.5 109.3h0M483.8 105.5h0M483.9 109.9h0M484.1 111.2h0M484.1 105h0M484.3 110.5h0M484.3 110.8h0M484.4 107.2h0M484.4 106.2h0M484.6 104.6h0M485.1 104.6h0M485.1 105.5h0M485.4 108.6h0M485.5 109.8h0M485.9 110.3h0M486 107h0M486.2 107.6h0M486.3 104.4h0M486.8 105.8h0M486.8 108h0M487.1 108.5h0M487.2 106.9h0M487.2 111.9h0M487.3 109.2h0M487.3 111.4h0M487.4 105.6h0M487.5 107.2h0M487.6 110.5h0M487.7 109.2h0M487.9 106.2h0M488.1 110.3h0M488.2 107.9h0M488.2 107h0M488.2 104.6h0M488.2 110.3h0M488.3 108.7h0M488.3 108.4h0M488.4 105.9h0M488.4 109h0M488.5 106h0M488.5 108.9h0M488.5 109.3h0M488.5 108.2h0M488.5 105.4h0M488.6 105.9h0M488.6 109.5h0M488.7 110.9h0M488.7 107.1h0M489.4 108.8h0M489.4 109.5h0M489.9 104.6h0M490 104.3h0M490 104.2h0M490.1 107.9h0M490.2 105.9h0M490.4 104.9h0M490.6 107.4h0M490.6 108.4h0M490.6 108.2h0M490.6 107.3h0M490.7 109.7h0M490.7 109.9h0M490.7 110.5h0M490.7 106.1h0M490.8 107.8h0M491.4 107.5h0M491.4 109.7h0M491.5 103.4h0M491.6 110.8h0M491.8 107.1h0M492 103h0M492.1 110.5h0M492.2 106.4h0M492.3 105h0M492.3 110h0M492.6 111.6h0M493 110h0M493 107.5h0M493.2 105.6h0M493.3 104.1h0M493.4 107.1h0M493.5 110h0M493.5 105.8h0M493.6 106.3h0M493.9 104.4h0M493.9 108.9h0M494.1 105.4h0M494.2 109.8h0M494.4 109.3h0M494.4 104.4h0M494.9 108.2h0M494.9 106.7h0M495.1 105.6h0M495.2 109.7h0M495.2 107.8h0M495.3 106.6h0M495.6 107.5h0M495.6 105.5h0M495.7 107.9h0M496 106.7h0M496.1 105.6h0M496.3 109.6h0M496.4 110.2h0M496.4 105.4h0M496.5 103.8h0M496.6 104.5h0M496.7 109.9h0M496.9 104.2h0M497 104.2h0M497.1 107.5h0M497.1 104.8h0M497.2 107.3h0M497.2 108.3h0M497.3 107h0M497.3 109.1h0M497.5 108.5h0M497.8 106.6h0M497.8 108h0M498 107.5h0M498.2 107h0M498.2 107.9h0M498.3 107.3h0M498.4 107.3h0M498.5 109.6h0M498.7 103.7h0M498.7 105h0M498.8 108.8h0M499.1 106.1h0M499.1 107.7h0M499.2 104.7h0M499.3 104.9h0M499.4 105.8h0M499.5 108.7h0M499.5 108.7h0M500.1 106.7h0M500.2 104.7h0M500.7 105.7h0M500.8 108.4h0M501 106.5h0M501 102.9h0M501.1 104.5h0M501.2 106.7h0M501.3 109h0M501.3 109.6h0M501.4 107.6h0M501.5 105.4h0M501.6 104.3h0M501.7 103.5h0M502 106.2h0M502 103.8h0M502.2 105.4h0M502.2 105.3h0M502.2 107.2h0M502.4 107.6h0M502.5 103.4h0M502.6 108.1h0M502.7 106.3h0M502.7 109.4h0M502.8 103.5h0M502.8 106.4h0M502.9 102.1h0M503 104.6h0M503.1 105.8h0M503.1 107.8h0M503.1 109.4h0M503.1 102.4h0M503.2 106.3h0M503.3 107.2h0M503.3 103.3h0M503.4 105.9h0M503.6 107.9h0M503.6 105.8h0M503.6 102.6h0M503.7 103.8h0M503.8 105.4h0M503.9 106.9h0M504 105.8h0M504.1 106.9h0M504.4 107.5h0M504.4 102.7h0M504.4 102.7h0M504.6 105.5h0M504.6 103.5h0M504.6 104h0M504.7 106.1h0M504.7 106.3h0M504.8 103.6h0M505.1 107.1h0M505.2 101.8h0M505.5 101.9h0M505.7 107.8h0M505.7 104.8h0M506 103.7h0M506.1 103.8h0M506.1 107.2h0M506.1 102.4h0M506.2 100.8h0M506.3 108.5h0M506.3 102.1h0M506.3 101.7h0M506.4 102.9h0M506.4 105.5h0M506.5 100.8h0M506.5 105.1h0M506.6 104.5h0M506.8 104.4h0M506.8 106.4h0M506.8 105h0M506.9 103.2h0M506.9 105.9h0M507.1 104.6h0M507.1 101.6h0M507.3 100.1h0M507.4 104.8h0M507.4 102.4h0M507.6 107.3h0M507.6 104.7h0M507.6 106.6h0M507.7 100.2h0M507.9 99.7h0M508 103.3h0M508.1 103.2h0M508.2 101.7h0M508.2 100.4h0M508.2 101.4h0M508.3 99.3h0M508.3 107.8h0M508.3 102h0M508.6 105.9h0M508.7 103.6h0M508.8 102.5h0M508.9 107.8h0M508.9 103.2h0M509 107.1h0M509 103.6h0M509.1 100h0M509.1 100.2h0M509.2 102.9h0M509.2 101.4h0M509.6 101.2h0M509.7 104.9h0M509.8 100.4h0M509.9 102.3h0M509.9 106.5h0M510 106.7h0M510 103.8h0M510 101.2h0M510.1 103.9h0M510.1 105.1h0M510.2 99.9h0M510.2 99.7h0M510.4 103.9h0M510.4 98.6h0M510.6 101.2h0M510.7 101.6h0M510.8 104.1h0M510.9 105.4h0M511 107.7h0M511.1 103.7h0M511.1 98.8h0M511.2 105.1h0M511.2 104.8h0M511.3 103.7h0M511.3 106.5h0M511.4 107.3h0M511.5 101.5h0M511.6 99.4h0M511.6 102.4h0M511.8 99.3h0M511.9 100.1h0M512 103.1h0M512 100.3h0M512.2 105.9h0M512.3 101.3h0M512.4 97.6h0M512.4 104.9h0M512.4 99.4h0M512.4 107h0M512.5 101.5h0M512.5 98.6h0M512.6 98.7h0M512.6 102h0M512.7 102.2h0M512.8 101.8h0M512.8 107.2h0M512.9 99.3h0M512.9 100.2h0M513 106.3h0M513 100h0M513.1 99.1h0M513.1 100.4h0M513.4 101.3h0M513.6 104.1h0M513.6 101.9h0M513.7 101.2h0M513.7 103.1h0M513.8 105.6h0M513.9 104.1h0M513.9 105.4h0M514 106.7h0M514 99.7h0M514.1 106h0M514.2 101.2h0M514.2 101.4h0M514.3 103.1h0M514.4 103.9h0M514.4 106.3h0M514.6 101.1h0M514.6 104.3h0M514.6 104.2h0M514.7 104.9h0M514.8 104.6h0M514.8 102h0M515.3 101h0M515.3 102.3h0M515.4 105.2h0M515.4 106.5h0M515.5 104.3h0M515.5 104.4h0M515.6 99.6h0M515.9 101h0M516 105h0M516.3 106.5h0M516.4 104.9h0M516.5 106.2h0M516.7 104.4h0M516.8 105.1h0M516.9 104.2h0M516.9 102.7h0M517 104.2h0M517.1 105.6h0M517.1 104.6h0M517.3 102.9h0M517.4 105.7h0M517.5 102.4h0M517.6 104.6h0M517.7 105.4h0M517.8 101.3h0M517.8 102.7h0M518 103.3h0M518.1 103h0M518.1 104.2h0M518.1 105.9h0M518.4 102.6h0M518.5 101.2h0M518.6 102.8h0M518.7 106.1h0M518.7 105.1h0M518.8 105.7h0M518.8 105.1h0M518.9 105.4h0M519 105.3h0M520.6 74.4h0M520.4 81h0M520.7 83.3h0M520.4 85.6h0M520.5 87.9h0M520.4 90.2h0M520 92.5h0M520.1 94.8h0M520.3 97.1h0M520.2 99.4h0M520.3 101.7h0M520.6 104h0M520.5 106.3h0M520.4 108.6h0M520.7 110.9h0M453.6 112.6h0M460.8 112.6h0" fill="none" stroke="#000" stroke-width="5.56" stroke-linecap="round"/>
</g>
<g clip-path="url(#c1)">
<path d="M101.9 268.3h0M102.1 262.5h0M102.3 258.8h0M102.4 270.6h0M102.6 279.6h0M102.6 261.7h0M102.6 272.7h0M102.7 268.9h0M102.8 270.2h0M102.8 278.1h0M102.9 262.9h0M102.9 267h0M103 277.4h0M103 278.2h0M103.1 273.8h0M103.1 276.5h0M103.1 275.9h0M103.2 269.4h0M103.3 264.2h0M103.3 275.2h0M103.5 280.7h0M103.7 276.1h0M103.7 275.6h0M103.7 260.1h0M103.8 270.2h0M103.8 279.8h0M103.8 274h0M103.9 274h0M104 269.6h0M104.1 270.8h0M104.1 269h0M104.1 263.8h0M104.3 275h0M104.5 269.3h0M104.6 262.4h0M104.7 272h0M104.9 279.3h0M104.9 265h0M104.9 274h0M105 280.4h0M105.1 272.5h0M105.1 259.9h0M105.3 266.6h0M105.3 267.6h0M105.5 272.9h0M105.6 260.1h0M105.8 270.4h0M106 279.7h0M106.1 274.2h0M106.1 268.2h0M106.1 272.7h0M106.1 272h0M106.3 274.3h0M106.3 266h0M106.4 275h0M106.4 265.2h0M106.5 273.3h0M106.5 261h0M106.5 267.9h0M106.6 264.8h0M107 274.9h0M107.1 266.3h0M107.4 272.9h0M107.5 273.6h0M107.5 265.5h0M107.6 270h0M107.6 268h0M107.7 263.5h0M107.7 275h0M107.7 267.3h0M107.8 263.7h0M107.9 262.4h0M107.9 269.7h0M107.9 273.3h0M108 264.3h0M108 264.3h0M108.1 263.6h0M108.1 273.7h0M108.1 265.7h0M108.2 275.9h0M108.3 263.6h0M108.5 268.6h0M108.7 275.4h0M108.8 268h0M108.8 266.1h0M109 260.9h0M109.1 274.6h0M109.1 269.6h0M109.1 270.7h0M109.2 272.9h0M109.2 274h0M109.2 271.9h0M109.5 278h0M109.5 273.6h0M109.8 271.7h0M109.8 280h0M109.8 281.5h0M110.2 266h0M110.3 261.8h0M110.3 273.2h0M110.5 268.8h0M110.7 270.1h0M110.8 259.1h0M110.8 276.5h0M111 268.4h0M111.1 264.5h0M111.2 261.4h0M111.2 263.4h0M111.3 264.9h0M111.4 259.4h0M111.4 271.5h0M111.6 264.3h0M111.8 275.6h0M111.9 265.7h0M111.9 262.7h0M112 265.7h0M112.2 274.4h0M112.2 259h0M112.2 264h0M112.3 258.3h0M112.7 269.3h0M112.7 264.4h0M112.7 262.6h0M113 261.2h0M113 275.3h0M113.1 270.5h0M113.2 274.2h0M113.2 271.8h0M113.3 259.4h0M113.3 263.2h0M113.4 260.4h0M113.4 263.5h0M113.6 258.7h0M113.7 261.5h0M113.7 261.9h0M113.8 276h0M113.8 270h0M113.8 260.3h0M113.9 269h0M114.1 262.7h0M114.4 275.5h0M114.4 264.5h0M114.5 259.7h0M114.6 271.4h0M114.6 278.1h0M114.6 266.7h0M114.7 270.3h0M114.7 258.1h0M114.7 261.4h0M114.8 267.8h0M114.9 276.8h0M114.9 259.5h0M114.9 271.2h0M115 262.8h0M115.1 274.5h0M115.2 259.3h0M115.3 272.2h0M115.3 263.8h0M115.3 257.3h0M115.4 270h0M115.5 262.6h0M115.5 269.5h0M115.7 262.2h0M115.8 257.4h0M115.8 266.4h0M116 259.8h0M116.1 258.3h0M116.2 267.8h0M116.3 264.8h0M116.3 267.7h0M116.4 278.1h0M116.6 275.2h0M116.7 272.4h0M116.7 265.6h0M116.8 259.5h0M116.9 274.5h0M117 275.2h0M117 267.2h0M117.1 266.7h0M117.1 274.1h0M117.1 261.8h0M117.1 264.5h0M117.2 277.5h0M117.2 273.3h0M117.2 267.6h0M117.4 271.4h0M117.4 276.7h0M117.4 266.1h0M117.5 267h0M117.6 271.7h0M117.8 271.7h0M117.9 261h0M118 273h0M118.1 275.6h0M118.1 271h0M118.2 273.7h0M118.3 276.3h0M118.3 266.6h0M118.3 270.9h0M118.4 271.4h0M118.5 267.6h0M118.6 267.9h0M118.7 278h0M118.8 262.4h0M118.8 268.9h0M118.8 262.4h0M118.8 260.3h0M118.9 263.5h0M119 276.8h0M119.1 266.9h0M119.2 265.6h0M119.2 261.5h0M119.2 262.3h0M119.5 270.6h0M119.6 264.6h0M119.6 266.8h0M119.6 267.4h0M119.6 277.4h0M119.7 261h0M119.8 270.2h0M119.8 268.3h0M119.8 259.8h0M119.9 275.4h0M119.9 268h0M119.9 271.1h0M120 268.4h0M120 262.2h0M120.1 269.1h0M120.2 271.9h0M120.2 275h0M120.2 263.1h0M120.3 262.3h0M120.3 271.9h0M120.4 265.3h0M120.4 269.7h0M120.5 265.6h0M120.5 258.1h0M120.6 269.1h0M120.6 272.4h0M120.7 266.8h0M120.7 271.2h0M120.9 276.5h0M120.9 270.4h0M120.9 257h0M121.2 260.6h0M121.2 275.5h0M121.2 275.3h0M121.2 265.4h0M121.3 261.8h0M121.5 266.4h0M121.5 262.9h0M121.7 263.9h0M121.7 269.9h0M121.7 276.4h0M122.1 261.6h0M122.1 272h0M122.1 259.7h0M122.1 272h0M122.2 265.9h0M122.2 262.1h0M122.3 263.3h0M122.3 276h0M122.7 272.2h0M122.7 279.8h0M122.7 269.2h0M122.8 273.2h0M122.8 261.7h0M122.8 260h0M122.8 270.9h0M122.9 278.7h0M123 270.2h0M123 263h0M123.1 267.6h0M123.2 268.3h0M123.3 276.9h0M123.3 278.8h0M123.4 266.9h0M123.5 265.2h0M123.6 273.3h0M123.8 260.8h0M123.8 259.5h0M123.9 270.1h0M124 268.3h0M124.1 274.4h0M124.1 273.2h0M124.4 272.1h0M124.6 267.7h0M124.6 273.9h0M124.7 268.8h0M124.8 275.5h0M124.8 279h0M125 268.8h0M125.2 268.2h0M125.2 273.2h0M125.3 266h0M125.5 272.2h0M125.5 259.9h0M125.6 265.3h0M125.6 268.5h0M125.7 268.7h0M125.7 278.8h0M125.8 269.1h0M125.8 279.3h0M125.9 261.5h0M125.9 272.6h0M126 273.9h0M126.2 263.8h0M126.2 276.8h0M126.3 267.2h0M126.5 277.8h0M126.5 269.1h0M127 274.4h0M127.3 273.2h0M127.4 278.3h0M127.5 269.5h0M127.7 263h0M127.9 260.5h0M128 263.5h0M128 269.6h0M128 281.5h0M128.3 277.6h0M128.3 279.8h0M128.5 282h0M128.6 269.9h0M128.7 273h0M128.7 279.1h0M128.8 271.9h0M128.8 265.7h0M128.8 264.5h0M128.9 273.6h0M128.9 279.2h0M128.9 278.5h0M129.2 271.9h0M129.3 265.6h0M129.3 270.7h0M129.3 272.8h0M129.4 281.2h0M129.4 263h0M129.4 263.2h0M129.5 266.1h0M129.5 273.8h0M129.6 276.8h0M129.7 277.8h0M129.7 261.8h0M129.7 272.6h0M129.9 272.3h0M130 261.6h0M130 264.2h0M130.1 272.7h0M130.1 263.6h0M130.3 267.8h0M130.5 277.4h0M130.5 264.3h0M130.5 268.7h0M130.6 276.9h0M130.6 278.4h0M130.7 279.2h0M130.7 260.7h0M130.8 271.3h0M130.9 277.1h0M130.9 272.5h0M130.9 258.9h0M131 276.3h0M131 277.2h0M131.2 272.8h0M131.3 273.2h0M131.4 258.3h0M131.4 270.8h0M131.6 271.4h0M131.6 280.5h0M131.8 271.8h0M131.9 263.9h0M132 263.4h0M132.1 275.2h0M132.1 278.1h0M132.2 273.6h0M132.5 277h0M132.5 260.4h0M132.6 275.2h0M132.7 274.9h0M132.7 278.8h0M132.8 277.6h0M132.8 265.9h0M132.8 263.2h0M132.8 278.9h0M132.9 261h0M132.9 265.6h0M132.9 263.3h0M133 263.6h0M133 279.4h0M133.1 276.7h0M133.1 270.2h0M133.3 272h0M133.3 276.7h0M133.3 275.7h0M133.4 263h0M133.4 262.2h0M133.4 264h0M133.5 269h0M133.5 263h0M133.6 268.8h0M133.8 271.7h0M133.8 260.1h0M133.8 266.8h0M134 280.4h0M134 277.9h0M134.3 261.5h0M134.4 263.6h0M134.4 272h0M134.4 266.5h0M134.5 275h0M134.6 273h0M134.7 260.4h0M134.7 278.5h0M134.8 272.4h0M134.8 263.9h0M134.9 277.8h0M135 273.7h0M135 275.8h0M135 272.4h0M135.1 264.6h0M135.1 260.5h0M135.2 255.8h0M135.3 263.5h0M135.6 259h0M135.6 264.3h0M135.7 264.4h0M135.7 272.7h0M135.7 268h0M135.8 265.7h0M136 266.8h0M136.1 269.5h0M136.3 269.3h0M136.3 271.6h0M136.3 261h0M136.3 273.5h0M136.5 269.2h0M136.5 266.6h0M136.5 276.9h0M136.6 266.3h0M136.6 273.9h0M136.7 278.2h0M136.9 281.8h0M137 261.5h0M137 266.2h0M137.3 282.1h0M137.5 260.2h0M137.6 261.5h0M137.6 279.4h0M137.6 265.4h0M137.7 258.5h0M138 269.9h0M138.1 282.3h0M138.1 264h0M138.2 265.6h0M138.3 260.8h0M138.4 280.7h0M138.4 258h0M138.4 260.3h0M138.5 264.3h0M138.6 257.2h0M138.6 258.9h0M138.9 264.3h0M139.1 273.2h0M139.2 262.9h0M139.4 258.3h0M139.6 268.4h0M139.9 268.8h0M140 277.2h0M140 275.9h0M140 271.5h0M140.1 274.4h0M140.1 276.4h0M140.1 276.1h0M140.1 276.3h0M140.3 279.4h0M140.4 267.6h0M140.5 269.5h0M140.5 273.9h0M140.6 260.3h0M140.7 261.7h0M140.8 269.3h0M140.9 268.3h0M141.1 267.6h0M141.3 266.5h0M141.4 272.2h0M141.7 266.6h0M141.7 266.4h0M141.9 263.7h0M142 272.2h0M142 267h0M142.4 274.2h0M142.4 262.3h0M142.4 268.8h0M142.5 280.4h0M142.5 265.4h0M142.5 278.1h0M142.7 264.1h0M142.8 256.9h0M142.8 276.3h0M142.8 275h0M143.1 259.2h0M143.1 275.8h0M143.2 275.9h0M143.3 276.5h0M143.5 274.1h0M143.5 269.2h0M143.9 265.5h0M144 271.6h0M144 280.2h0M144 271.3h0M144.1 274.5h0M144.3 266.5h0M144.4 264.3h0M144.5 265.9h0M144.7 261h0M144.8 255.7h0M144.9 256.1h0M144.9 273.6h0M145 262.5h0M145.1 259.6h0M145.1 270.2h0M145.1 268.6h0M145.1 276h0M145.2 274.5h0M145.4 270.3h0M145.4 261.5h0M145.5 270.6h0M145.6 258.2h0M145.6 272.8h0M145.7 273.8h0M145.7 257.8h0M145.7 278.7h0M145.8 269.6h0M145.9 273.3h0M146 256h0M146.1 277.8h0M146.2 268h0M146.4 265.1h0M146.4 264.3h0M146.5 263.9h0M146.6 271.6h0M146.7 266.8h0M146.8 256.5h0M146.9 268.5h0M146.9 277.6h0M147.2 271.3h0M147.4 266.5h0M147.7 270.3h0M147.7 266.7h0M147.7 279.5h0M147.9 271.2h0M147.9 278.9h0M148.1 266h0M148.2 268.2h0M148.2 259h0M148.2 257.6h0M148.3 280.4h0M148.3 258.8h0M148.4 275.7h0M148.5 260.9h0M148.5 270.7h0M148.5 260.7h0M148.6 271.3h0M148.6 265.3h0M148.7 259.8h0M148.7 255.9h0M148.8 270.2h0M148.9 259.7h0M148.9 261h0M148.9 272h0M148.9 273.9h0M149 259.6h0M149 264.8h0M149 273.9h0M149.2 277.1h0M149.2 267.7h0M149.4 271.1h0M149.5 279.5h0M149.5 263.2h0M149.6 266.5h0M149.7 278.1h0M149.8 259.8h0M150 281.7h0M150.1 269.1h0M150.1 260.8h0M150.1 271.4h0M150.2 262h0M150.3 280h0M150.3 274.5h0M150.4 264.9h0M150.4 259.2h0M150.4 267h0M150.4 261.9h0M150.5 263.6h0M150.6 272.5h0M150.7 261h0M150.7 269h0M150.8 277.5h0M150.8 272.8h0M150.8 269.2h0M150.9 267.9h0M151 271.2h0M151 272.5h0M151 276.9h0M151.1 265.6h0M151.1 267.1h0M151.2 262.6h0M151.2 260h0M151.4 265.5h0M151.4 265.2h0M151.4 273.4h0M151.5 275.2h0M151.6 271.2h0M151.6 278.6h0M152 278.2h0M152 272.3h0M152.2 272.6h0M152.3 269.5h0M152.3 262.1h0M152.6 273.8h0M152.6 266.2h0M152.7 263.2h0M152.7 270.9h0M152.7 265.2h0M152.8 272.1h0M152.9 261.1h0M152.9 274.1h0M153.1 263.8h0M153.1 266.3h0M153.1 264.9h0M153.2 274.1h0M153.2 261.4h0M153.2 276.6h0M153.3 261.5h0M153.4 269.1h0M153.5 266.9h0M153.6 276.9h0M153.8 259.7h0M153.8 277.3h0M153.8 275.4h0M153.8 271.8h0M153.8 263.6h0M153.8 268.1h0M154 265.3h0M154.4 271.7h0M154.5 260.7h0M154.5 269.8h0M154.5 263.5h0M154.7 269.6h0M154.9 267h0M155 264.5h0M155 275.1h0M155 268h0M155.1 275.5h0M155.1 277.1h0M155.6 274.4h0M155.7 264.8h0M155.8 276.9h0M155.9 265.4h0M155.9 274h0M155.9 258.6h0M156.1 260.6h0M156.1 271.5h0M156.3 276.1h0M156.4 267.3h0M156.4 276.5h0M156.4 264.4h0M156.5 270.8h0M156.6 261h0M156.7 272.6h0M156.8 277.3h0M156.8 269.5h0M156.9 266.7h0M157 275h0M157.1 273.3h0M157.3 271.1h0M157.5 264h0M157.7 265.8h0M157.9 269.8h0M158 275h0M158.1 267.4h0M158.1 265.8h0M158.2 271.9h0M158.4 268.2h0M158.4 273.8h0M158.4 266.5h0M158.4 269.6h0M158.5 263h0M158.6 280h0M158.8 268.5h0M158.9 275.5h0M159.1 281h0M159.1 262.5h0M159.2 273.1h0M159.3 270.6h0M159.4 266.2h0M159.5 264.9h0M159.5 259.8h0M159.6 260.2h0M159.6 269.6h0M159.6 262.2h0M159.8 278.4h0M159.9 262.9h0M159.9 259.7h0M159.9 261.5h0M160 263.4h0M160 279.8h0M160.1 270.9h0M160.1 263.7h0M160.1 263.5h0M160.2 266.6h0M160.2 260.4h0M160.2 277h0M160.3 275.1h0M160.4 273.2h0M160.4 261.2h0M160.5 273.4h0M160.5 262.3h0M160.6 266.2h0M160.6 256.2h0M160.7 264.1h0M160.8 274.6h0M161.1 277.1h0M161.2 270.7h0M161.2 259.4h0M161.2 277.4h0M161.2 268.6h0M161.4 266.2h0M161.7 259.9h0M161.7 273.6h0M161.8 269.9h0M161.9 264.9h0M161.9 274.7h0M161.9 264.5h0M162 269.5h0M162 274.7h0M162.1 267.5h0M162.2 256.8h0M162.2 262h0M162.2 268.2h0M162.3 263.6h0M162.3 262.6h0M162.4 267.6h0M162.4 259.8h0M162.4 261.8h0M162.5 276.2h0M162.5 269.2h0M162.5 278.9h0M162.7 257.2h0M162.7 260.7h0M162.8 274.5h0M162.8 273.3h0M162.8 270h0M162.9 256h0M163 266.4h0M163.1 270.1h0M163.2 260.1h0M163.2 262.7h0M163.2 275h0M163.3 258h0M163.3 260h0M163.5 279.8h0M163.6 272.3h0M163.6 265.6h0M163.6 261.6h0M163.6 273.1h0M163.7 265.2h0M164 277.6h0M164.1 266.2h0M164.1 272.8h0M164.3 271.5h0M164.4 273.7h0M164.6 275.2h0M164.6 259.2h0M164.8 258.8h0M164.8 265.3h0M165 257.2h0M165 257.8h0M165.1 263.9h0M165.2 268.9h0M165.2 269.7h0M165.2 263h0M165.2 268h0M165.5 278.7h0M165.5 272.9h0M165.6 279.4h0M165.6 264h0M165.7 276.7h0M165.8 265.7h0M165.8 273.2h0M165.8 263.1h0M165.9 274.4h0M166 260.7h0M166.1 266.5h0M166.1 262.1h0M166.2 262.3h0M166.2 267.6h0M166.2 259.4h0M166.3 266.9h0M166.3 276.9h0M166.3 274h0M166.3 267.9h0M166.4 260.6h0M166.4 275.4h0M166.5 267.3h0M166.5 265.9h0M166.7 277.4h0M166.8 260.6h0M166.8 275.7h0M166.9 267.1h0M166.9 261.8h0M166.9 268.4h0M167 265.1h0M167.1 274.2h0M167.2 259.5h0M167.2 272.3h0M167.2 260.5h0M167.3 258.9h0M167.5 269.5h0M167.5 267.7h0M167.5 267.1h0M167.6 278.6h0M167.7 276.4h0M167.9 268h0M167.9 272.4h0M168 260.8h0M168 267.7h0M168.3 259.8h0M168.3 257.5h0M168.4 262.3h0M168.4 271.7h0M168.6 265.7h0M168.6 268h0M168.8 275.9h0M168.8 267.3h0M168.9 263.6h0M168.9 271.7h0M169 258.1h0M169.2 271.1h0M169.4 260.7h0M169.4 268.6h0M169.7 256.3h0M169.7 271.1h0M169.8 270.7h0M170.1 279.9h0M170.1 272.6h0M170.3 256.3h0M170.5 259.9h0M170.5 263.3h0M170.5 268.1h0M170.5 267.7h0M170.6 271.7h0M170.6 278.4h0M170.7 269.5h0M170.7 268.6h0M170.8 258.1h0M170.8 281.4h0M170.8 271.4h0M171 262.1h0M171 265.4h0M171.1 259.7h0M171.1 258.4h0M171.2 270.3h0M171.2 273.7h0M171.3 264.5h0M171.6 268.9h0M171.7 266.9h0M171.7 261.2h0M171.7 279h0M171.8 269.5h0M171.8 272.4h0M171.9 268.2h0M171.9 257.8h0M172 273.7h0M172.2 274.9h0M172.2 270.9h0M172.3 258.4h0M172.3 262.4h0M172.3 277.5h0M172.4 257h0M172.4 262.4h0M172.5 261.4h0M172.6 261.3h0M172.8 268.4h0M172.8 257.1h0M172.9 272.9h0M173 266.5h0M173.3 279.2h0M173.4 279.2h0M173.5 264.4h0M173.7 274.6h0M173.7 266.9h0M173.8 261.1h0M173.8 277.3h0M173.8 260.8h0M174 269.2h0M174.2 264.3h0M174.5 259.9h0M174.7 268.8h0M174.7 272.4h0M174.9 276.4h0M175 259.4h0M175 265.5h0M175.1 268.1h0M175.1 272h0M175.2 279h0M175.4 260.6h0M175.4 272.1h0M175.4 256.2h0M175.5 276.5h0M175.7 268.2h0M175.7 275.1h0M175.8 258.9h0M175.8 272.3h0M175.8 262.3h0M175.9 277.3h0M176 270.6h0M176.1 264.4h0M176.2 275.3h0M176.5 274.5h0M176.5 270.8h0M176.6 261h0M176.7 260.1h0M176.8 270.6h0M176.8 266.8h0M176.8 274h0M176.8 258.8h0M177.1 257.8h0M177.1 256h0M177.3 277.2h0M177.4 258.5h0M177.5 266.5h0M177.5 258.9h0M177.6 256.5h0M177.6 276.3h0M177.7 265.1h0M177.7 271.6h0M177.9 274.3h0M178 268.8h0M178 275.9h0M178.2 261.7h0M178.3 274.4h0M178.4 266.5h0M178.4 276.6h0M178.6 255.5h0M178.6 277.2h0M178.7 258.6h0M178.8 255.4h0M179 259h0M179.1 278.5h0M179.5 253.5h0M179.6 266.2h0M179.8 270.3h0M179.8 266.4h0M179.8 267h0M179.9 269.5h0M180 260.7h0M180 275.8h0M180.1 263.4h0M180.2 263.1h0M180.2 254.3h0M180.3 268h0M180.3 264.5h0M180.4 252.1h0M180.6 271h0M180.6 252h0M180.7 261.6h0M180.8 268.8h0M180.8 261.7h0M180.8 254.5h0M181.2 271.1h0M181.3 273.6h0M181.3 261h0M181.4 268h0M181.4 263h0M181.4 255.8h0M181.5 262.1h0M181.6 252.6h0M181.7 272h0M181.8 278.4h0M181.8 263.9h0M182 273.5h0M182.1 259.2h0M182.1 274.1h0M182.3 265.2h0M182.4 266.9h0M182.4 258.2h0M182.6 262.1h0M182.6 260.1h0M182.6 253.4h0M182.7 260h0M182.8 261.3h0M182.8 264.3h0M182.9 264.3h0M183 264.5h0M183 274.1h0M183.1 265.8h0M183.2 271.8h0M183.3 258.4h0M183.4 276.9h0M183.4 272.4h0M183.5 278h0M183.5 255.6h0M183.6 264.8h0M183.8 271.6h0M183.9 261h0M183.9 259.1h0M183.9 256.3h0M183.9 265.8h0M183.9 258.4h0M183.9 261.1h0M184 276.9h0M184 260.5h0M184.1 268.3h0M184.1 254.2h0M184.2 256.6h0M184.3 256.6h0M184.4 273.2h0M184.4 253.5h0M184.7 271h0M184.7 278.4h0M184.7 258.9h0M184.7 262h0M184.8 278.3h0M184.8 281.8h0M184.8 261.3h0M184.8 279h0M184.9 278h0M184.9 270.7h0M184.9 265.4h0M185 269.2h0M185 249.9h0M185.1 256.6h0M185.2 259.2h0M185.2 278h0M185.3 278.9h0M185.6 276.2h0M185.7 256.4h0M185.7 279.9h0M185.8 261.4h0M185.8 277.4h0M185.9 262.7h0M185.9 274.7h0M186 262.8h0M186.2 254.1h0M186.4 270.5h0M186.4 274.6h0M186.7 279.8h0M186.7 259.9h0M186.7 262.4h0M186.7 276.6h0M186.8 274.5h0M187 278.8h0M187.2 256.5h0M187.2 276.4h0M187.3 266.4h0M187.6 261.3h0M187.6 271.3h0M187.6 275.1h0M187.6 257.6h0M187.6 281.4h0M187.6 255.4h0M187.8 261.8h0M188 257.8h0M188.1 275.9h0M188.1 280h0M188.1 274.2h0M188.2 267h0M188.2 261.8h0M188.3 253.9h0M188.3 274.6h0M188.5 273.2h0M188.6 267.3h0M188.6 270.4h0M188.6 259.3h0M188.7 275.7h0M188.7 260.1h0M188.9 265.3h0M188.9 259.6h0M189 257.8h0M189 261.8h0M189.3 265.2h0M189.3 271.3h0M189.5 266.9h0M189.8 258.2h0M189.8 264h0M189.9 257.4h0M190.2 262.2h0M190.2 276.4h0M190.4 263.6h0M190.4 255.9h0M190.5 268.6h0M190.6 265.6h0M190.6 260.9h0M190.6 263.6h0M190.6 268.1h0M190.7 270h0M190.7 256.1h0M190.8 258.9h0M190.8 262.6h0M190.8 257.9h0M190.8 277.7h0M190.9 276.5h0M191 265.3h0M191.1 263.7h0M191.1 266.3h0M191.2 259.4h0M191.2 276h0M191.2 270.9h0M191.6 267.1h0M191.6 253.2h0M191.7 256.6h0M191.7 266h0M191.9 262.2h0M192 268.2h0M192 273.6h0M192.3 255h0M192.3 262.7h0M192.4 259.3h0M192.5 261.8h0M192.6 258.1h0M192.6 266.9h0M192.6 266h0M192.7 274.9h0M192.8 255.5h0M192.8 270.8h0M192.9 260.9h0M193.1 257h0M193.2 278.5h0M193.2 271.9h0M193.2 267h0M193.2 253.7h0M193.4 269.1h0M193.7 278.1h0M193.7 276.1h0M193.8 271.2h0M193.8 269.3h0M193.9 258.3h0M194 252.7h0M194 275.3h0M194.1 252.6h0M194.1 272.6h0M194.2 266.9h0M194.3 256.3h0M194.4 261.5h0M194.4 251.3h0M194.6 264.1h0M194.7 277.5h0M194.7 262.9h0M194.7 256.8h0M194.7 262.8h0M194.8 270.3h0M195 267.6h0M195.2 262.3h0M195.2 256.9h0M195.3 262.4h0M195.3 277h0M195.3 258.1h0M195.4 258.5h0M195.6 268.7h0M195.6 264.3h0M195.8 275.6h0M195.8 274.4h0M196 267.2h0M196.1 262.3h0M196.2 276.8h0M196.3 261.5h0M196.3 256.6h0M196.3 275.5h0M196.4 277.7h0M196.7 272.5h0M196.7 255.7h0M196.8 257h0M197 269.2h0M197.2 274.5h0M197.3 279h0M197.3 262.1h0M197.3 263h0M197.4 269.7h0M197.4 259.7h0M197.4 260.1h0M197.4 263.4h0M197.5 279.6h0M197.6 255.9h0M197.7 277.6h0M197.8 252.7h0M197.9 257.8h0M197.9 268.5h0M198 271.1h0M198 261.7h0M198.1 261.2h0M198.1 274.7h0M198.1 254.1h0M198.2 263.8h0M198.2 267.3h0M198.2 252.3h0M198.2 276.4h0M198.3 265.3h0M198.3 262.4h0M198.3 267.6h0M198.4 274.7h0M198.7 258.6h0M198.7 256.5h0M198.7 281.1h0M198.9 259.5h0M198.9 256.9h0M199 268.9h0M199.1 257.4h0M199.1 273.7h0M199.4 278.6h0M199.4 279.7h0M199.5 278.3h0M199.5 271.1h0M199.5 277.2h0M199.5 253.7h0M199.7 261.6h0M199.7 269.4h0M199.8 251.6h0M199.9 257.6h0M200.1 254.8h0M200.3 268.3h0M200.7 263.9h0M200.9 272.1h0M200.9 263.3h0M200.9 269.6h0M201 280.4h0M201.1 252.5h0M201.1 264.3h0M201.1 275.8h0M201.2 262.4h0M201.2 256.8h0M201.3 265.5h0M201.3 266.5h0M201.4 274.6h0M201.4 257.7h0M201.4 278h0M201.4 271.4h0M201.5 278.8h0M201.5 280.4h0M201.5 267.9h0M201.5 251.4h0M201.5 276.8h0M201.5 267.9h0M201.6 276.2h0M201.7 271.2h0M201.7 255.9h0M202 254.3h0M202 257.9h0M202.1 254h0M202.1 257h0M202.3 280.4h0M202.4 261.4h0M202.4 273.3h0M202.5 270.9h0M202.6 267.3h0M202.6 264.9h0M202.6 280h0M202.6 263h0M202.9 262.1h0M203 278.4h0M203 265.1h0M203.1 272.8h0M203.2 269.2h0M203.2 267.2h0M203.3 276.3h0M203.5 265.3h0M203.5 269.4h0M203.5 271.6h0M203.5 262.3h0M203.6 254.9h0M203.7 257.2h0M203.8 256.9h0M203.8 261h0M203.9 262.3h0M203.9 263.2h0M204 269.7h0M204.1 261h0M204.1 271.6h0M204.2 269.6h0M204.4 262.7h0M204.4 274.6h0M204.6 258.1h0M204.8 279.9h0M204.9 267.7h0M205 273h0M205.1 271.2h0M205.2 261.2h0M205.4 268.8h0M205.6 266.4h0M205.8 277.4h0M205.9 263.7h0M205.9 277.8h0M206.1 269.7h0M206.1 256.9h0M206.2 277h0M206.2 279.2h0M206.3 268.1h0M206.4 261.7h0M206.5 268.6h0M206.5 282.5h0M206.6 268.5h0M206.6 264.4h0M206.7 272.4h0M206.9 257.5h0M207 270.6h0M207.2 256.1h0M207.2 264.5h0M207.2 268.3h0M207.2 254.9h0M207.3 262.6h0M207.3 270.2h0M207.3 262.5h0M207.3 278.2h0M207.5 264.1h0M207.6 263.7h0M207.7 257.7h0M207.8 273.7h0M207.9 278.7h0M207.9 277.6h0M208.2 262.4h0M208.5 270.8h0M208.5 265h0M208.5 265.9h0M208.7 257.7h0M208.8 261.4h0M208.9 257.9h0M209 274.7h0M209 263.7h0M209.1 278.7h0M209.1 265.7h0M209.1 275.8h0M209.2 256.5h0M209.2 255.9h0M209.3 259.6h0M209.3 256.6h0M209.3 262.2h0M209.3 280h0M209.4 270h0M209.4 270.7h0M209.4 263.2h0M209.4 276.2h0M209.5 266.6h0M209.5 262.8h0M209.6 257h0M209.6 275.8h0M209.7 267.8h0M209.7 263.2h0M209.7 271.1h0M209.8 279.1h0M209.9 266.5h0M209.9 259.3h0M209.9 279h0M210.1 273.1h0M210.1 266.8h0M210.1 275.5h0M210.2 279.5h0M210.3 255.9h0M210.3 261.2h0M210.7 278.9h0M210.7 267.7h0M210.8 256.5h0M210.8 267.1h0M210.9 265.2h0M210.9 254.4h0M210.9 278.2h0M210.9 260.9h0M210.9 270.2h0M211 265.8h0M211 262.4h0M211.2 262.8h0M211.2 276h0M211.2 271.3h0M211.3 255.9h0M211.4 252.4h0M211.4 274.9h0M211.7 267.4h0M211.8 273.4h0M211.9 257.1h0M212 266h0M212 262.9h0M212 256.8h0M212 255.3h0M212.1 274.8h0M212.3 269.3h0M212.3 274.3h0M212.4 273.7h0M212.9 268.1h0M212.9 265.6h0M212.9 262.7h0M213.1 253.2h0M213.2 267.7h0M213.4 275.1h0M213.4 255.5h0M213.4 266.6h0M213.5 264.4h0M213.5 277.7h0M213.6 265.8h0M213.6 262.2h0M213.6 272.8h0M213.8 264.1h0M213.8 264.7h0M213.8 271.2h0M213.8 273.8h0M213.8 265.7h0M213.8 275.5h0M213.9 264.5h0M213.9 260.5h0M213.9 255.4h0M214 270.6h0M214 271h0M214.1 260.2h0M214.1 273.2h0M214.1 260.6h0M214.1 273.9h0M214.2 272.1h0M214.3 255.3h0M214.6 273h0M214.8 259.7h0M214.8 256.9h0M215 275.9h0M215 254h0M215 256.1h0M215.1 279.9h0M215.2 268h0M215.4 257.6h0M215.4 277.4h0M215.4 268.4h0M215.5 273.6h0M215.5 255.8h0M215.5 260.4h0M215.6 263.7h0M215.6 273.3h0M215.7 255.9h0M215.7 270.2h0M215.8 276.8h0M215.8 267h0M215.9 268.3h0M216 278.3h0M216 281h0M216.1 268.7h0M216.1 256.6h0M216.2 260.1h0M216.2 273.6h0M216.2 260.5h0M216.4 280.2h0M216.4 275.9h0M216.5 271.3h0M216.8 272.8h0M216.9 259.5h0M217 271.9h0M217.2 255.2h0M217.3 276.3h0M217.5 274.2h0M217.5 259.8h0M217.6 278.6h0M217.6 274.5h0M217.8 261h0M217.9 274.1h0M217.9 272h0M217.9 261.4h0M218 265.2h0M218 272.1h0M218.1 256h0M218.1 256.3h0M218.1 276.8h0M218.1 268.9h0M218.2 262.4h0M218.4 263.3h0M218.5 268.2h0M218.5 262.8h0M218.5 278h0M218.6 268.3h0M218.6 276.2h0M218.8 263.2h0M218.8 273.3h0M218.8 270.9h0M218.8 276.6h0M218.9 274.2h0M218.9 261.1h0M219 271.1h0M219 268.7h0M219.4 267.5h0M219.6 272.7h0M219.7 270.3h0M219.7 261.5h0M220.2 258.6h0M220.3 278.6h0M220.4 279h0M220.5 276.4h0M220.5 258.4h0M220.6 261.4h0M220.7 258.2h0M220.8 269.1h0M220.9 268.6h0M221 275.7h0M221.1 261h0M221.3 278.2h0M221.5 259.6h0M221.5 266.1h0M222.6 243h0M222.2 246.3h0M222.2 249.5h0M222.5 253h0M223.2 256.5h0M222.8 260h0M222.9 263.5h0M222 267h0M222.5 270.5h0M223.5 273.5h0M222.6 286.8h0M222.7 289.4h0M286.6 261.7h0M287.2 242h0M287.6 252.9h0M286.4 241.4h0M289.1 243h0M285.9 268h0M288.7 265.2h0M289.3 243.8h0M288.1 266.2h0M287.4 250.5h0M288.4 240.6h0M287.6 252.4h0M286.3 247h0M286.6 261.3h0M289 256.3h0M286.7 250.8h0M286.8 261.7h0M289.1 248.1h0M287 257.3h0M286 253.8h0M289 250.6h0M289.6 245.3h0M288.7 253.4h0M288.6 246.3h0M287.1 262.4h0M286.1 255.1h0M286.7 244.1h0M285.6 264.2h0M287.1 263.2h0M288.5 265.9h0M286.6 248.2h0M287.5 254.4h0M285.9 260.9h0M286.5 259.8h0M287.5 261.7h0M288.2 252.5h0M289.1 241.2h0M285.9 259.6h0M287.7 237.3h0M288.8 238.8h0M285.4 264.4h0M286.7 244.8h0M289.6 240h0M287.5 268.9h0M287.6 238.7h0M286.9 256.1h0M286 251.5h0M288.6 252.1h0M288.3 255.5h0M287.8 259.7h0M285.8 267h0M285.7 266.8h0M288.2 262.7h0M287.2 239.7h0M289 252.9h0M286.8 250.7h0M288.1 257h0M287.8 246.6h0M286.9 246.8h0M287.1 241.4h0M287.9 261.1h0M286.8 257.9h0M286.7 258.8h0M286.3 268h0M287.5 264.8h0M287.5 260.1h0M289.6 241.6h0M287.4 254.7h0M286 250.8h0M289 254.3h0M288.4 240.2h0M287 238.9h0M286.8 239.2h0M288.2 247h0M288.5 247.3h0M287.1 238h0M287.2 243.8h0M287.4 251.2h0M288 240.4h0M289.2 237.3h0M286 253.1h0M285.9 268.4h0M288 252.2h0M286.5 246.6h0M287.4 249.4h0M288.1 237.3h0M287.1 246.4h0M288.1 244.4h0M288.3 261.4h0M286.9 256.1h0M286.6 277h0M286.4 283.6h0M287.9 285.6h0M286 272.5h0M289 271.5h0M300.4 270.4h0M305 270.4h0M309.8 270.4h0M314.7 275.8h0M316.7 275.5h0M321.4 281.2h0M319.4 260.8h0M319.2 283.8h0M315.3 284.3h0M317.6 254.8h0M319.6 250.2h0M322.5 287.3h0M318.1 284.9h0M314.9 247.2h0M320.8 283h0M316.8 243.5h0M318.2 253.8h0M317.5 284h0M322.3 261.2h0M317.6 245.3h0M315.3 241.7h0M314.5 244.9h0M313.9 275.5h0M319.6 279.7h0M320.2 246.6h0M315 254.4h0M314.1 288.6h0M318.4 245.7h0M320.7 296.5h0M316.9 293.1h0M321.5 297.8h0M320.7 284.9h0M315.7 259.4h0M315.3 245.5h0M314.3 291.6h0M315.4 264.3h0M320.6 250.4h0M320 265.4h0M323.3 297.2h0M321.3 257h0M323.4 276h0M322.2 285.2h0M315 287.4h0M312.9 266.8h0M320.8 286.4h0M319.2 244.1h0M317 247.2h0M314.5 257.5h0M315.2 288.6h0M314.6 256.6h0M324.3 287.5h0M320.1 290.3h0M320.8 262.3h0M322.3 297.4h0M316.3 285.9h0M320.3 252.1h0M321.1 276.2h0M323.1 278.5h0M320.2 285.3h0M318.6 256.1h0M320.8 261.9h0M319.4 268.5h0M324.2 287.5h0M321.7 287h0M317.7 245.8h0M315.1 275.5h0M318.6 289.1h0M315.9 294.7h0M319.9 276.6h0M319.2 260.4h0M317.9 263.8h0M317.3 263.4h0M313.9 250.3h0M320.5 280.9h0M314.6 280h0M324 277.1h0M315.5 240.3h0M321.4 291.6h0M321.3 269.1h0M319.4 255.7h0M314.8 239.2h0M324.3 278.6h0M315.3 242.8h0M318.7 265.9h0M313.9 269.9h0M318.6 298.2h0M320.9 248.9h0M323.5 277.9h0M316.9 244.6h0M314.2 247.7h0M318.3 239.7h0M321.2 272.3h0M317.7 262h0M319.9 250.5h0M314.3 283.8h0M319.6 250.7h0M318 274.4h0M321.7 252.8h0M318.7 290.7h0M322.2 297.6h0M316 291.6h0M315.9 259.4h0M317.4 264.5h0M318.1 272.2h0M320 240.8h0M315.3 263.3h0M318.2 254.6h0M317 240.6h0M317.4 249.6h0M321.4 281.6h0M314.8 263h0M319.5 288.7h0M315 239.1h0M317.5 259.7h0M319.7 248.2h0M315.6 241h0M321.9 264h0M319.2 248.3h0M316 252.4h0M322.5 282.4h0M318.2 266.4h0M324.1 286.9h0M319.7 297.4h0M314.6 249.3h0M320.9 265.8h0M316.4 296.8h0M320.7 273.5h0M317.1 245.2h0M316.5 257.5h0M321.2 264.3h0M318.3 260.8h0M321.5 251.7h0M317.5 265.2h0M320.6 247.4h0M314 272.5h0M317.6 245.3h0M319.1 288.7h0M314.6 295.1h0M319.9 295.4h0M314.9 252.5h0M322.4 270.2h0M318.8 241.2h0M324 272.4h0M321.2 280.9h0M317.2 284.7h0M323.5 296.3h0M314.8 276h0M314.3 244.9h0M316.4 275.1h0M315.7 278.1h0M314.3 290.5h0M318 293.5h0M317 243.8h0M318.8 282.5h0M317.5 267.1h0M323.8 278.2h0M322.9 292.9h0M316.8 241h0M316.2 288.6h0M319.5 256.1h0M317.2 266.1h0M316.5 239.9h0M323.4 287.6h0M318.8 289.8h0M321.4 270.4h0M314.3 283h0M314.6 240.2h0M319.5 245.1h0M324.3 280.1h0M321.3 251.2h0M324.3 285.1h0M322.9 292.6h0M319.5 285.1h0M319.3 291.8h0M315.1 239.6h0M314.4 277.1h0M313.7 261h0M317.2 265.2h0M314.8 295h0M321.5 259.8h0M320.2 252h0M318.6 280.9h0M315.9 287.4h0M323.3 273.7h0M313.9 276.2h0M323.4 268.6h0M316.7 254.8h0M314.4 258.1h0M313 261.5h0M319.7 294.4h0M323 293.9h0M322 283.6h0M319.8 288h0M319.2 293h0M319.7 262.5h0M319.2 252h0M313.9 256.8h0M316.6 282.6h0M323.7 281.8h0M318.9 292.9h0M318.6 286.7h0M314.8 258.4h0M314.9 277.1h0M314.6 270.8h0M314.3 269.8h0M318.1 254.5h0M320.5 277h0M319.8 239.5h0M321 275.8h0M315.5 249.5h0M315.6 262.5h0M318.1 273.1h0M315.8 246.9h0M317.3 274.1h0M319.6 252.2h0M319.7 293.9h0M314.1 267.3h0M317.7 278.7h0M319.9 296.7h0M317 271.9h0M320.8 257.7h0M316.6 296h0M317.9 242.9h0M323.7 278.6h0M321.9 297.4h0M323 287.2h0M319.2 293.7h0M324.3 275.1h0M318.7 249.4h0M321.9 287.8h0M318 289.8h0M324.4 274.8h0M315.6 285.1h0M318.7 284h0M319 281.9h0M319.5 295.4h0M315.6 266.4h0M316.1 247h0M316.5 241.7h0M322.8 284.1h0M316.4 239.6h0M314.3 248h0M315.5 294.9h0M313.8 267.3h0M316.5 285.4h0M315.1 251.4h0M316.9 278.3h0M321 264.8h0M321.5 265.6h0M321.6 267.7h0M319.3 250h0M317.1 243.4h0M315 292.9h0M322 294.4h0M315.2 240.5h0M321.6 288.3h0M317.1 240h0M320.3 243.4h0M323 272.1h0M318.3 252.7h0M318.8 296.5h0M323.6 266.9h0M314.5 265.2h0M318.6 284h0M317.3 289.2h0M318.8 270.5h0M316.3 268.6h0M321.9 283h0M322.1 285h0M314.3 273.8h0M324.5 272.5h0M314.9 297h0M316.1 255h0M316.3 280.2h0M314.7 291h0M320 239.6h0M318 295.6h0M320 257.8h0M321.5 289h0M315.4 293.3h0M317.4 284.7h0M321.7 276.4h0M317 268.7h0M316.8 290.4h0M316.1 252h0M315.2 249.6h0M321.2 291.5h0M319.1 244.9h0M318.4 249.7h0M320.6 266.1h0M316.7 244.7h0M316 258.5h0M320.3 272.5h0M315.1 256.7h0M314.2 279.1h0M314.6 265.3h0M315.9 295.6h0M314.6 260.4h0M317.2 292.9h0M320 253.1h0M315 243.8h0M316.9 251.1h0M319 241.4h0M320.1 293.1h0M318.6 271.6h0M314 260.2h0M316.2 242.4h0M318.6 263.5h0M315.2 286.6h0M322.2 295.3h0M317.6 247.9h0M317.8 272.6h0M318.7 258.9h0M317.8 251h0M320.6 284.9h0M321.6 266.9h0M314.9 244.3h0M315.5 247.3h0M321.7 289.9h0M317.8 280.1h0M319.8 281.9h0M314.2 249.5h0M316.8 241.2h0M313 260.6h0M314.8 251.4h0M314.1 265.8h0M322 281.3h0M319.2 284h0M315.8 242.9h0M315 281.6h0M315.4 241.7h0M318.5 252.2h0M317.1 260.3h0M324 266.6h0M324.1 276.7h0M324.1 283.4h0M324.2 294.4h0M324.2 268.1h0M324.2 273.7h0M324.2 283.8h0M324.3 275.9h0M324.4 285h0M324.4 272.2h0M324.6 276.6h0M324.6 279.3h0M324.6 269.1h0M324.7 295.1h0M324.7 282.9h0M324.9 292h0M325 277.1h0M325.1 270.5h0M325.2 286.9h0M325.5 280h0M325.5 287.3h0M325.5 287.7h0M325.7 277.5h0M325.8 271.5h0M325.9 280.7h0M325.9 273.2h0M326 268.2h0M326.1 266.2h0M326.2 265.3h0M326.2 283.4h0M326.3 274h0M326.3 271.5h0M326.4 274h0M326.5 285.8h0M326.5 288.6h0M326.6 284.5h0M326.7 285.8h0M326.7 288h0M326.8 263.8h0M326.8 274.8h0M327 264h0M327 282.8h0M327.1 282.4h0M327.1 273.8h0M327.6 273.4h0M327.7 277.6h0M327.7 272.9h0M327.8 277.5h0M327.8 276.2h0M327.9 274.7h0M327.9 273.2h0M327.9 264h0M328 269h0M328.1 267h0M328.1 269.2h0M328.2 279.2h0M328.2 277.3h0M328.2 280.7h0M328.2 264.9h0M328.3 268.2h0M328.3 271.1h0M328.3 279h0M328.4 271.9h0M328.5 284.8h0M328.5 265.9h0M328.5 272.4h0M328.6 278.5h0M328.7 272.3h0M329 284h0M329 286.2h0M329 268.7h0M329.1 271.4h0M329.2 285.6h0M329.2 277.2h0M329.3 283.9h0M329.4 265.1h0M329.6 266.9h0M329.7 282.8h0M329.7 282.3h0M329.9 280.2h0M329.9 280.8h0M330 280h0M330.1 271.5h0M330.3 272h0M330.3 261h0M330.5 282h0M330.8 261.5h0M330.8 267.6h0M330.9 272.5h0M331.1 272.6h0M331.2 266.9h0M331.4 269.8h0M331.5 260.6h0M331.5 259.3h0M331.5 269.5h0M331.6 274.8h0M331.7 276.9h0M331.7 257.7h0M331.7 267.9h0M331.8 276.9h0M331.9 268.4h0M331.9 274.2h0M332 273.9h0M332.1 255.9h0M332.1 269h0M332.2 269.8h0M332.2 273.3h0M332.5 265.9h0M332.5 264.6h0M332.5 274.8h0M332.5 267.1h0M332.5 267.2h0M332.5 268.7h0M332.5 266.9h0M332.9 263.9h0M332.9 260.5h0M333 266.6h0M333.1 272.5h0M333.1 277.7h0M333.1 274.5h0M333.2 256.9h0M333.3 278.3h0M333.3 273h0M333.3 276.9h0M333.3 280.3h0M333.4 266.7h0M333.5 269h0M333.6 271.8h0M333.7 266.4h0M333.7 262.2h0M333.9 260.3h0M334 262.1h0M334.2 260.7h0M334.3 276.6h0M334.3 272.8h0M334.3 258h0M334.3 270.1h0M334.4 262.6h0M334.5 265.7h0M334.6 259h0M334.6 280.3h0M334.6 274.5h0M334.6 274.6h0M334.7 267.9h0M334.7 262.1h0M334.8 265.7h0M334.8 267h0M334.8 272.9h0M334.9 267.9h0M335 272.7h0M335 264.3h0M335 271.4h0M335 277.4h0M335.1 279.4h0M335.2 265.4h0M335.2 262.9h0M335.2 260.9h0M335.2 268.4h0M335.3 281h0M335.3 265.3h0M335.4 273.5h0M335.5 268.7h0M335.6 273.2h0M335.6 273.6h0M335.7 268.4h0M335.8 267.7h0M335.8 269.3h0M335.8 273.4h0M335.9 275.6h0M336 267.8h0M336 268h0M336 271.6h0M336.2 273.5h0M336.2 271.9h0M336.3 264.2h0M336.5 274.8h0M336.5 274.1h0M336.7 265.3h0M336.7 271.6h0M336.7 271.1h0M336.8 261.3h0M336.8 266.8h0M336.8 259.8h0M336.8 259.4h0M336.9 279h0M336.9 278.1h0M337 264.2h0M337 269.9h0M337 269.7h0M337.1 262.6h0M337.1 258h0M337.3 276.2h0M337.4 270.9h0M337.4 266h0M337.5 259.9h0M337.5 263h0M337.6 260.4h0M337.7 257.6h0M337.7 258.5h0M337.7 274.9h0M337.8 272.2h0M338.1 277.2h0M338.1 266.1h0M338.1 274.1h0M338.2 259h0M338.6 266.1h0M338.7 261.6h0M338.8 271.7h0M338.9 265.6h0M338.9 266h0M338.9 276.8h0M339 275.4h0M339 272.3h0M339 272h0M339.1 265.4h0M339.1 257.6h0M339.1 270.4h0M339.2 271.4h0M339.2 260.2h0M339.3 264.5h0M339.3 264.9h0M339.3 268.3h0M339.4 261.4h0M339.5 258h0M339.6 263h0M339.6 268.7h0M339.8 276.6h0M339.8 266.2h0M339.8 264.1h0M339.8 258.8h0M339.8 262.1h0M340 264.2h0M340 257.8h0M340 270h0M340.1 267.8h0M340.1 274.9h0M340.1 261.7h0M340.2 271.9h0M340.3 259.8h0M340.3 267.4h0M340.3 271.9h0M340.4 257.8h0M340.4 278.4h0M340.5 277.8h0M340.5 267.9h0M340.5 261.7h0M340.5 269.4h0M340.6 262.3h0M340.7 270.8h0M340.8 261.2h0M341 267.6h0M341 264.2h0M341 261.5h0M341 269.3h0M341.1 278.8h0M341.2 271.6h0M341.3 276.1h0M341.3 261.1h0M341.3 274.5h0M341.5 263.3h0M341.5 273.2h0M341.6 279h0M341.8 273.6h0M341.9 270h0M342 262.4h0M342 258.4h0M342 271.2h0M342.1 270.5h0M342.1 270.5h0M342.1 263.6h0M342.2 273.2h0M342.4 259.6h0M342.4 259.1h0M342.5 268.8h0M342.5 271.9h0M342.7 264.5h0M342.8 258.5h0M342.8 267.7h0M342.9 265.5h0M342.9 272.8h0M343 269.2h0M343.1 276.5h0M343.1 258.7h0M343.1 271.3h0M343.2 266.2h0M343.2 264.3h0M343.2 259.8h0M343.3 273.5h0M343.3 274.8h0M343.4 258.7h0M343.4 268.5h0M343.4 259.7h0M343.4 259.3h0M343.5 263.6h0M343.7 270.5h0M343.8 266h0M343.8 272.3h0M344.1 269h0M344.4 275.6h0M344.5 269h0M344.5 276.8h0M344.6 270.2h0M344.7 277.4h0M344.7 268.6h0M344.8 271.2h0M344.8 266.2h0M345.3 266.4h0M345.3 279.2h0M345.3 259.9h0M345.5 269.1h0M345.6 273.4h0M345.6 260.4h0M345.7 276.8h0M345.8 260.1h0M345.8 273.8h0M346 264.9h0M346.1 264h0M346.2 266.8h0M346.2 261.1h0M346.4 266.3h0M346.4 273.1h0M346.5 271.2h0M346.5 272h0M346.5 271.7h0M346.6 270.7h0M346.7 276.7h0M346.8 276.9h0M346.8 261.8h0M346.8 260.2h0M347 275.8h0M347 261h0M347.1 272.7h0M347.2 271.7h0M347.3 272.4h0M347.3 273.5h0M347.3 274.5h0M347.3 274.9h0M347.3 265.9h0M347.3 275h0M347.5 257.5h0M347.5 260.6h0M347.5 271.1h0M347.5 270.4h0M347.6 266.4h0M347.7 273.3h0M347.7 257.8h0M347.9 264h0M347.9 256.9h0M347.9 258.5h0M348 268.2h0M348.1 271.2h0M348.1 262.8h0M348.2 272.8h0M348.3 271.2h0M348.3 275.7h0M348.3 267.3h0M348.3 255.6h0M348.4 275h0M348.4 276.3h0M348.5 278.3h0M348.5 266.9h0M348.6 275.2h0M348.6 275.3h0M348.6 272.3h0M348.7 267.6h0M348.8 275.4h0M348.8 276.3h0M348.9 263.7h0M348.9 266.4h0M348.9 271.7h0M348.9 258.3h0M349 273.2h0M349 268.5h0M349.1 261.1h0M349.2 261.7h0M349.2 263.3h0M349.2 271.5h0M349.4 278.4h0M349.4 257.3h0M349.4 268h0M349.5 256.7h0M349.6 272.9h0M349.6 261.3h0M349.7 270.4h0M349.7 273.8h0M349.8 265.3h0M349.9 271.3h0M349.9 259.1h0M349.9 263.6h0M350.1 258.8h0M350.1 269h0M350.1 266.3h0M350.1 276h0M350.3 267.6h0M350.3 267.9h0M350.3 262h0M350.3 260.2h0M350.4 259.1h0M350.5 265.1h0M350.5 262.6h0M350.5 274.3h0M350.6 266h0M350.7 257.9h0M350.8 271.6h0M350.9 275.2h0M350.9 269.6h0M350.9 261h0M350.9 276.2h0M351.1 273.8h0M351.1 280.3h0M351.2 280h0M351.2 263.2h0M351.3 269.1h0M351.4 273.5h0M351.5 270.8h0M351.7 267.9h0M351.8 258.5h0M351.9 257.9h0M351.9 275.3h0M351.9 270.4h0M352 268.1h0M352 265.9h0M352.1 276.9h0M352.1 256.5h0M352.1 273.9h0M352.2 256.6h0M352.3 280.2h0M352.3 275.8h0M352.4 278.8h0M352.5 265.5h0M352.5 264.4h0M352.5 276.8h0M352.7 268.2h0M352.7 272.3h0M352.7 276.1h0M352.7 281.1h0M352.8 276h0M352.8 262.2h0M352.8 275.8h0M353.1 258.5h0M353.1 261.8h0M353.2 269.2h0M353.3 263.1h0M353.3 281.3h0M353.3 266.5h0M353.4 280.6h0M353.4 264.9h0M353.4 275.8h0M353.5 255.5h0M353.5 264.7h0M353.5 256.8h0M353.7 275.3h0M353.7 261.3h0M353.8 278.3h0M353.8 261.6h0M354 275.9h0M354 266.8h0M354.2 264.1h0M354.2 257.8h0M354.3 271.1h0M354.3 264.4h0M354.3 276.8h0M354.4 265h0M354.4 279.6h0M354.4 257.5h0M354.4 270.4h0M354.5 280.9h0M354.6 255.6h0M354.6 278.8h0M354.6 253.9h0M354.6 257.2h0M354.7 259.6h0M354.7 279.1h0M354.7 270.3h0M354.7 279.3h0M354.8 264.2h0M354.8 268.1h0M355.1 257.4h0M355.1 271.9h0M355.1 281.5h0M355.2 272.9h0M355.4 270.6h0M355.5 253.5h0M355.6 272.9h0M355.7 271.1h0M355.7 254.7h0M355.8 262.7h0M355.9 276.2h0M355.9 276h0M355.9 255.2h0M356 273h0M356.1 276.5h0M356.4 265.4h0M356.6 259.7h0M356.6 268.2h0M356.6 258.7h0M356.7 266.4h0M356.7 268.7h0M356.7 268.9h0M356.7 257.8h0M356.8 274.2h0M356.9 258h0M356.9 275.1h0M356.9 268.2h0M357 263.9h0M357 261.5h0M357.1 263.3h0M357.2 277.8h0M357.2 274h0M357.3 264.8h0M357.3 274.5h0M357.3 267.1h0M357.3 270.7h0M357.4 268.4h0M357.4 259.3h0M357.4 278h0M357.4 268.6h0M357.4 260.3h0M357.6 273.7h0M357.7 273.7h0M357.8 268.6h0M357.8 273.8h0M357.9 270.8h0M357.9 260.1h0M357.9 265.4h0M357.9 271.6h0M357.9 260.9h0M358 256.6h0M358.2 275.6h0M358.2 271.5h0M358.3 258.9h0M358.3 273.3h0M358.4 261.1h0M358.4 270.5h0M358.5 268.8h0M358.5 263.7h0M358.5 271.2h0M358.6 270.6h0M358.6 269.7h0M358.6 262.2h0M358.6 259.9h0M358.7 260.1h0M358.7 260.9h0M358.8 275.2h0M358.9 256.1h0M358.9 275.4h0M358.9 267.4h0M359 268.5h0M359 259h0M359.1 279.1h0M359.1 274.1h0M359.1 261h0M359.1 265.1h0M359.1 260.7h0M359.2 263.1h0M359.2 275.5h0M359.5 265.6h0M359.6 275.6h0M359.7 255.8h0M359.8 268.5h0M359.8 267.8h0M359.8 278.8h0M360 256.6h0M360 272h0M360.1 270.4h0M360.1 256.3h0M360.1 266.2h0M360.3 271.1h0M360.3 260.3h0M360.5 267.4h0M360.5 278.8h0M360.5 265.8h0M360.7 268.6h0M360.7 261.8h0M360.8 272h0M360.8 275.4h0M360.9 259.4h0M360.9 272.1h0M360.9 276.6h0M360.9 272.8h0M360.9 267.6h0M361 274.8h0M361.1 277.1h0M361.2 258h0M361.3 274.5h0M361.6 261.1h0M361.7 261.5h0M361.7 277.6h0M361.9 271.2h0M361.9 266.5h0M362 272.8h0M362.1 273.2h0M362.2 277.7h0M362.2 272.4h0M362.2 261.6h0M362.2 273.7h0M362.3 275.1h0M362.3 266.4h0M362.3 257h0M362.5 264.4h0M362.5 275.4h0M362.7 259.3h0M362.7 276.3h0M362.8 277.7h0M362.8 267.7h0M362.8 258.8h0M362.9 272.1h0M362.9 265h0M363 266.8h0M363 266.1h0M363 276.4h0M363.1 265h0M363.2 260.8h0M363.3 277.2h0M363.3 270.9h0M363.6 272.2h0M363.6 261.1h0M363.6 271.2h0M363.7 262.1h0M363.7 265.7h0M363.8 267.1h0M363.8 266.4h0M363.9 268.9h0M364 270.9h0M364 269.3h0M364.1 277.5h0M364.1 271.2h0M364.1 267.8h0M364.2 261h0M364.3 273.4h0M364.5 256.3h0M364.5 257.3h0M364.6 264.3h0M364.6 269.1h0M364.7 266.7h0M364.7 271.6h0M364.8 276.4h0M364.9 263h0M365.1 265.2h0M365.1 261.3h0M365.1 265.1h0M365.2 266h0M365.3 275.3h0M365.3 276.7h0M365.5 269.6h0M365.5 259.1h0M365.6 264.9h0M365.7 256.1h0M365.7 276.6h0M365.7 257.9h0M365.7 256.9h0M365.8 262.5h0M365.9 257.9h0M365.9 270.8h0M365.9 271h0M365.9 274h0M365.9 258.6h0M366 273.4h0M366.1 270.5h0M366.1 256.5h0M366.1 271.6h0M366.3 260.3h0M366.4 265.8h0M366.5 273.5h0M366.5 266.4h0M366.6 271.5h0M366.6 260h0M366.7 273.6h0M366.8 267h0M366.8 257.7h0M366.8 265.7h0M366.9 275h0M367 263.7h0M367.1 273.9h0M367.1 271.8h0M367.2 255.1h0M367.2 258.9h0M367.3 258.5h0M367.3 264.8h0M367.3 263.3h0M367.5 264.4h0M367.5 257.1h0M367.5 268h0M367.6 264.4h0M367.6 260.9h0M367.6 277.6h0M367.6 274h0M367.6 276.3h0M367.7 259.7h0M367.8 271.9h0M367.8 273.7h0M367.9 277.4h0M367.9 264.9h0M368 262.1h0M368.1 266h0M368.1 267h0M368.2 269.3h0M368.2 275.2h0M368.3 272.1h0M368.5 270.2h0M368.5 256.8h0M368.5 257.9h0M368.6 258.8h0M368.6 260.3h0M368.6 261.4h0M368.7 274.6h0M368.7 267.7h0M368.7 266.4h0M368.7 277.3h0M368.8 272.8h0M368.8 269.3h0M368.8 269.8h0M368.8 275.6h0M368.9 262h0M368.9 260h0M369 271.8h0M369.1 273.6h0M369.1 263h0M369.3 275.7h0M369.3 260.6h0M369.3 269.3h0M369.5 264.9h0M369.6 259.5h0M369.6 257.1h0M369.6 260.5h0M369.6 272.2h0M369.7 273.5h0M369.8 268.2h0M369.8 262.3h0M370 266.1h0M370 273.2h0M370.1 262.9h0M370.2 275.3h0M370.3 272.6h0M370.4 275.9h0M370.5 269.3h0M370.6 266.8h0M370.7 280.1h0M370.8 266h0M370.9 264.2h0M370.9 260.4h0M371 276.4h0M371 262.6h0M371.1 270.1h0M371.2 261.9h0M371.2 276.4h0M371.3 267.6h0M371.3 262.7h0M371.4 269.5h0M371.5 276.7h0M371.5 265.6h0M371.5 278.1h0M371.7 258.3h0M371.8 257.5h0M371.9 260.8h0M371.9 268.2h0M371.9 270.1h0M372.1 270.6h0M372.1 259.6h0M372.2 255.7h0M372.2 257.9h0M372.2 270.3h0M372.3 274.8h0M372.5 269.5h0M372.6 259h0M372.6 279.3h0M372.9 265.8h0M373 271.3h0M373.1 277.2h0M373.1 255.6h0M373.2 260.9h0M373.3 257.2h0M373.3 276h0M373.4 259.9h0M373.5 276h0M373.5 271.4h0M373.7 266.8h0M373.8 269.8h0M373.9 276.2h0M373.9 275.3h0M374 265h0M374 275.9h0M374.1 260.8h0M374.1 272.6h0M374.1 274.6h0M374.1 255.6h0M374.1 270.8h0M374.2 268.5h0M374.2 273.7h0M374.2 254h0M374.2 274.7h0M374.4 274.2h0M374.4 264.5h0M374.5 262h0M374.5 273.8h0M374.5 264.7h0M374.5 254.1h0M374.6 254.2h0M374.6 258h0M374.6 268.9h0M374.8 258.2h0M374.8 276.1h0M375.2 258.4h0M375.2 273.8h0M375.2 270.9h0M375.5 254.3h0M375.6 276.7h0M375.6 256.3h0M375.7 270.4h0M375.9 268.7h0M375.9 261.4h0M375.9 255.6h0M376 265.4h0M376 265.2h0M376.1 275.4h0M376.3 271.3h0M376.3 277.7h0M376.4 269.1h0M376.4 259.2h0M376.4 276.7h0M376.5 274.1h0M376.5 273.3h0M376.5 266.1h0M376.5 268.3h0M376.8 265.6h0M376.8 272.2h0M376.9 275.6h0M377 277.2h0M377.1 276.3h0M377.2 276.3h0M377.2 273.8h0M377.3 254.4h0M377.3 255.5h0M377.3 269.9h0M377.5 272.4h0M377.6 265.6h0M377.7 270h0M378 271.4h0M378.1 266.5h0M378.2 261.3h0M378.3 276.4h0M378.4 254.7h0M378.5 278.4h0M378.5 260h0M378.5 273.6h0M378.5 258h0M378.6 260.6h0M378.6 281.8h0M378.7 252.5h0M378.7 279.1h0M378.7 272.3h0M378.8 262h0M378.8 259.6h0M379 263h0M379 264.2h0M379.1 263.3h0M379.2 265.7h0M379.2 262.9h0M379.2 270.5h0M379.3 252.7h0M379.4 267.8h0M379.4 274.3h0M379.4 262.1h0M379.5 275.5h0M379.5 266.6h0M379.6 272h0M379.6 260h0M379.6 254.7h0M379.6 261.2h0M379.6 267.8h0M379.6 277.8h0M379.7 258.1h0M379.8 278h0M379.9 258.8h0M380 252.8h0M380 258h0M380 273.8h0M380 273.1h0M380.2 260.6h0M380.3 274.6h0M380.5 260.5h0M380.5 268.8h0M380.6 270.5h0M380.8 257.2h0M380.8 267.2h0M380.9 278.3h0M380.9 265.1h0M380.9 263.2h0M380.9 253.7h0M380.9 267.6h0M381 263.2h0M381 256.8h0M381.1 263h0M381.3 252.9h0M381.3 267.2h0M381.3 260.8h0M381.4 253.1h0M381.5 259.5h0M381.6 273.9h0M381.6 265.2h0M381.7 257.6h0M381.8 261.9h0M381.9 271.2h0M382 277.9h0M382 269.1h0M382.1 255.2h0M382.3 277.2h0M382.4 255.9h0M382.4 271.6h0M382.5 276.3h0M382.5 271.1h0M382.5 271.5h0M382.7 270.3h0M382.7 271.4h0M382.9 272.1h0M382.9 267.8h0M382.9 278.5h0M383 265.7h0M383 273.9h0M383 260.5h0M383.1 255.2h0M383.2 277.5h0M383.2 255.2h0M383.3 253.3h0M383.4 256.4h0M383.4 273.4h0M383.6 266.8h0M383.7 254.7h0M383.8 273h0M383.8 256.8h0M383.8 272h0M383.8 276.2h0M383.9 272.5h0M383.9 269.7h0M383.9 256.2h0M383.9 258.1h0M384 273.9h0M384.1 280.2h0M384.1 266.4h0M384.2 267.4h0M384.2 266.7h0M384.2 278.6h0M384.2 261.5h0M384.4 256h0M384.4 259.2h0M384.6 275.3h0M384.6 259.1h0M384.6 263.3h0M384.6 274.1h0M384.7 254h0M384.8 261.6h0M384.8 257.2h0M384.9 263.7h0M384.9 253.8h0M384.9 257.5h0M385.1 275.6h0M385.3 264.2h0M385.3 270.3h0M385.4 267.7h0M385.4 259.6h0M385.4 261.7h0M385.5 275.8h0M385.5 257.3h0M385.5 273.6h0M385.5 252.5h0M385.6 275.3h0M385.6 258.9h0M385.6 278.3h0M385.8 276.3h0M385.9 260.6h0M385.9 265.5h0M385.9 271.7h0M386 257.4h0M386 271h0M386 267.5h0M386.2 265.9h0M386.3 256.3h0M386.4 261.7h0M386.4 273h0M386.4 267.3h0M386.6 264.2h0M386.6 264.6h0M386.6 255.2h0M386.7 259.6h0M386.8 263.8h0M386.8 270.2h0M386.9 269.7h0M386.9 260.2h0M387.1 265.8h0M387.1 268h0M387.1 258.9h0M387.1 272.8h0M387.2 278.8h0M387.2 278.5h0M387.3 261.1h0M387.4 274h0M387.6 273.6h0M387.8 269.4h0M388 261.3h0M388.1 261.2h0M388.2 274.8h0M388.3 259.9h0M388.4 262.6h0M388.4 279h0M388.4 274.1h0M388.5 261h0M388.5 271.2h0M388.6 271.5h0M388.6 272.1h0M388.8 259.3h0M388.8 269.4h0M388.8 260.6h0M388.9 269h0M389 262.2h0M389 275.4h0M389.2 271.2h0M389.2 271.6h0M389.3 262.7h0M389.3 262.1h0M389.4 262h0M389.5 269.8h0M389.5 272.9h0M389.5 271.5h0M389.5 268.2h0M389.6 263.2h0M389.8 269.8h0M389.8 272.3h0M389.9 265.7h0M389.9 266.3h0M390 276.2h0M390 269.1h0M390.1 260.7h0M390.1 257.9h0M390.1 264.7h0M390.2 265h0M390.3 271.4h0M390.6 271.8h0M390.7 273.4h0M390.8 278.1h0M390.9 279.3h0M390.9 272.6h0M391 259.6h0M391 275.2h0M391.1 273.2h0M391.2 266.1h0M391.2 258.3h0M391.2 278.9h0M391.2 271.5h0M391.3 277.8h0M391.4 265.2h0M391.4 265.5h0M391.7 270.1h0M391.8 273.3h0M392 258.5h0M392 260.5h0M392 258.6h0M392.2 275.5h0M392.4 260.1h0M392.6 263.4h0M392.7 269.5h0M392.7 266.1h0M392.9 268.6h0M392.9 266.9h0M392.9 278.1h0M393 262.6h0M393.2 276.4h0M393.3 276.6h0M393.3 267.9h0M393.4 270.6h0M393.4 275.8h0M393.5 257.7h0M393.5 272.2h0M393.6 280.2h0M393.7 271.7h0M393.8 256.6h0M393.8 257h0M393.9 254.1h0M393.9 277.5h0M393.9 279.4h0M394 279.9h0M394 279.9h0M394 262.2h0M394 273.8h0M394.1 269.2h0M394.3 270.4h0M394.4 254.6h0M394.4 253.4h0M394.5 263h0M394.5 255.8h0M394.5 268.2h0M394.6 270.4h0M394.6 255.7h0M394.7 280.9h0M394.7 270.3h0M394.8 271.3h0M394.8 275.3h0M394.9 262.2h0M395 265.6h0M395 265.2h0M395 261h0M395.2 257.8h0M395.2 262.9h0M395.3 269.6h0M395.3 270.1h0M395.4 271.7h0M395.4 267.3h0M395.5 275.6h0M395.5 258.5h0M395.6 274.5h0M395.6 261.1h0M395.7 258.2h0M395.7 270.9h0M395.7 267.7h0M395.7 272.3h0M395.7 274h0M395.7 267.4h0M395.9 277.5h0M396 268.1h0M396.1 257.3h0M396.1 257h0M396.2 278.7h0M396.2 257.3h0M396.3 264.9h0M396.5 269h0M396.6 268.4h0M396.8 270.8h0M396.9 262.8h0M397.1 271.6h0M397.1 268.3h0M397.2 267.4h0M397.2 269.9h0M397.4 255.9h0M397.5 263.5h0M397.5 270.7h0M397.5 268.9h0M397.5 280h0M397.5 269.7h0M397.5 270h0M397.6 260.4h0M397.7 255.5h0M397.8 276.1h0M397.9 274.8h0M398.1 273.8h0M398.1 279.4h0M398.2 276.8h0M398.6 265.9h0M398.6 273h0M398.7 264.8h0M398.7 270.2h0M398.8 269.2h0M398.8 274.6h0M398.8 273.2h0M398.9 271.9h0M398.9 269.1h0M399.1 254.5h0M399.1 262.3h0M399.1 266.5h0M399.1 254.3h0M399.1 257.7h0M399.3 273.8h0M399.3 257.3h0M399.4 253h0M399.4 260h0M399.4 270.2h0M399.4 255h0M399.4 252.7h0M399.4 264.3h0M399.5 268.1h0M399.6 262.8h0M399.7 257.5h0M399.7 269.4h0M399.7 256.3h0M399.8 269.1h0M399.8 275.7h0M400.1 257.5h0M400.1 259.5h0M400.2 274.9h0M400.2 275.7h0M400.2 268.1h0M400.3 278.8h0M400.4 276.6h0M400.4 266.3h0M400.4 268.5h0M400.4 272.6h0M400.5 265.1h0M400.5 279.3h0M400.7 258.2h0M400.7 257.6h0M400.8 261.7h0M400.9 262.3h0M400.9 261.5h0M401 269.1h0M401 271.1h0M401 274.4h0M401.1 258.7h0M401.1 260.7h0M401.2 265.7h0M401.3 278.6h0M401.3 273.6h0M401.4 259.3h0M401.5 273.4h0M401.5 266.5h0M401.6 272.2h0M401.7 271.8h0M401.7 267.3h0M402 263.3h0M402 271.8h0M402.1 267.9h0M402.2 260.1h0M402.2 272.5h0M402.3 278h0M402.3 260.5h0M402.4 274.7h0M402.5 274.2h0M402.5 275.8h0M402.6 261.9h0M402.6 277.5h0M402.6 268.9h0M402.6 258h0M402.9 268.2h0M402.9 275.7h0M403 263.1h0M403.1 267.7h0M403.1 255.9h0M403.2 264.3h0M403.2 273.9h0M403.2 279.6h0M403.3 264.1h0M403.3 265.6h0M403.3 265.7h0M403.4 267.4h0M403.6 265.3h0M403.6 260.6h0M403.7 263.6h0M403.7 277.1h0M403.7 265.7h0M403.8 260h0M403.8 269.5h0M403.8 262.6h0M403.8 254.5h0M403.9 255h0M403.9 275.6h0M404 271.3h0M404 261.2h0M404 270.6h0M404.2 262.6h0M404.3 272.4h0M404.3 262.1h0M404.3 268.6h0M404.4 268.1h0M404.4 272.6h0M404.5 255h0M404.6 275.5h0M404.6 263.9h0M404.7 256.5h0M404.9 257.5h0M405 273.1h0M405 280.1h0M405 275h0M405.1 255.4h0M405.3 254.8h0M405.3 276h0M405.3 264.5h0M405.3 258h0M405.3 280.1h0M405.4 274.4h0M405.5 271.2h0M405.5 271.2h0M405.6 276.2h0M405.7 260.5h0M405.8 260.3h0M405.9 271.2h0M405.9 276.2h0M406 261.2h0M406 258.9h0M406 268.6h0M406 271.1h0M406 270.1h0M406 276.2h0M406.2 276.9h0M406.3 279.3h0M406.3 262h0M406.5 276.8h0M406.5 257.1h0M406.6 260.5h0M406.7 266.2h0M406.8 275h0M406.9 267.2h0M406.9 275.8h0M406.9 272.4h0M407 266.9h0M407 277.4h0M407 269.3h0M407.1 260.6h0M407.1 270.4h0M407.1 272.1h0M407.1 266h0M407.2 266.8h0M407.2 260.4h0M407.4 270.1h0M407.4 260.7h0M407.4 274.4h0M407.4 272.3h0M407.5 258.5h0M407.5 274.7h0M407.6 260.2h0M407.7 273.9h0M407.9 268.3h0M408 258.3h0M408 269.7h0M408.1 270.4h0M408.1 262.4h0M408.1 265.5h0M408.2 273h0M408.2 260.8h0M408.3 276.1h0M408.3 253.8h0M408.4 264.8h0M408.4 276.6h0M408.4 258.4h0M408.4 262.6h0M408.5 262.3h0M408.5 263.1h0M408.6 260.9h0M408.6 260h0M408.6 258.5h0M408.6 270.1h0M408.7 266.3h0M408.7 269.1h0M408.9 268.1h0M408.9 274.4h0M409 263.9h0M409.2 267h0M409.2 260.1h0M409.3 260.8h0M409.3 280.4h0M409.4 269.9h0M409.6 274.7h0M409.7 276.8h0M409.7 271.4h0M409.7 264.9h0M409.7 276.6h0M409.8 273.4h0M409.8 265.1h0M409.9 265.9h0M409.9 270.6h0M409.9 276.7h0M409.9 270.9h0M409.9 275.8h0M410 261.9h0M410 258.4h0M410 273.3h0M410 268.4h0M410.1 281.1h0M410.2 275h0M410.4 258.1h0M410.5 263.3h0M410.5 265.1h0M410.8 271.3h0M410.8 279.5h0M410.8 261.2h0M410.8 269.9h0M410.9 276.2h0M411 266.5h0M411 265.4h0M411.1 274h0M411.2 257.8h0M411.2 269.9h0M411.3 260.7h0M411.4 259.8h0M411.5 280.2h0M411.6 279.1h0M411.7 266.6h0M411.7 270.4h0M411.8 256h0M411.8 267.5h0M411.9 262h0M412 279.7h0M412 267.3h0M412 269.6h0M412 262.4h0M412.1 273.1h0M412.1 275.7h0M412.2 278h0M412.2 269.2h0M412.3 274.7h0M412.4 260.6h0M412.4 279.7h0M412.4 278.7h0M412.4 261h0M412.6 273.6h0M412.6 277.6h0M412.7 276.7h0M412.7 273.3h0M412.7 265.3h0M412.7 256.9h0M412.8 258.2h0M412.9 260.5h0M412.9 272.2h0M412.9 274.5h0M412.9 275.9h0M413.1 261.9h0M413.1 270.9h0M413.2 266.2h0M413.2 259.6h0M413.5 273.2h0M413.6 268.7h0M413.7 265.6h0M413.8 271h0M413.8 262.8h0M413.9 270h0M413.9 266.8h0M414 273.2h0M414.1 275.1h0M414.1 263h0M414.3 276h0M414.4 272.3h0M414.6 273.9h0M414.6 252.8h0M414.7 254.7h0M414.8 261.8h0M414.9 272.6h0M415.1 259.2h0M415.1 274.5h0M415.1 277.1h0M415.3 271.8h0M415.3 262.2h0M415.6 253.3h0M415.7 260h0M415.7 261.1h0M415.8 272.8h0M415.8 273.1h0M415.8 279.1h0M415.9 264.6h0M415.9 253.4h0M415.9 258.2h0M416 278.6h0M416 275.1h0M416 264.5h0M416.2 253.9h0M416.2 255.6h0M416.3 269.8h0M416.3 272.7h0M416.3 272.9h0M416.4 269.3h0M416.4 264.9h0M416.4 264.6h0M416.5 268.6h0M416.5 253.9h0M416.5 277.1h0M416.5 254.8h0M416.6 260.7h0M416.6 271.4h0M416.6 260.6h0M416.7 260.2h0M416.7 266.9h0M416.9 275.8h0M416.9 254.2h0M417 271.4h0M417 261.8h0M417 257.3h0M417 276.7h0M417 264.8h0M417.2 266.1h0M417.2 259h0M417.3 279.3h0M417.4 254.7h0M417.4 266.3h0M417.4 272.5h0M417.4 274.6h0M417.5 273.1h0M417.5 257.1h0M417.5 261.8h0M417.6 276.4h0M417.6 262h0M417.6 266.4h0M417.7 266.5h0M417.9 270.4h0M418 275.3h0M418 259.4h0M418.1 262.1h0M418.1 262.9h0M418.2 273.7h0M418.4 254.1h0M418.4 261.9h0M418.5 267.9h0M418.6 260.1h0M418.6 258.8h0M419.2 262.3h0M419.3 263.5h0M419.5 268.6h0M419.5 265.4h0M419.6 254.1h0M419.8 279.5h0M419.8 255.2h0M419.9 259.9h0M419.9 254.9h0M420 273.4h0M420 261.8h0M420 261.1h0M420 278.5h0M420.1 266.8h0M420.3 275.8h0M420.5 270.9h0M420.5 254.9h0M420.5 269.1h0M420.6 252.9h0M420.7 268.5h0M420.8 265h0M420.8 258.2h0M420.9 273.4h0M420.9 255.7h0M421 261.9h0M421 260.9h0M421 261.3h0M421 267.1h0M421 278.2h0M421 260h0M421.1 255.3h0M421.1 271.3h0M421.2 263.8h0M421.2 274.8h0M421.5 258h0M421.5 258.1h0M421.7 263.6h0M421.7 265.9h0M421.8 278h0M421.8 262.6h0M422 275.8h0M422.2 274.2h0M422.5 270.5h0M422.6 272.7h0M422.6 268.7h0M422.6 258.9h0M422.7 273.3h0M422.7 275.5h0M422.8 267.2h0M422.8 256.1h0M422.9 270.7h0M423.2 261.6h0M423.5 277.2h0M423.5 260.5h0M423.7 268.6h0M423.7 261.3h0M423.8 277.4h0M423.8 276.4h0M423.8 265.3h0M423.8 274.7h0M423.8 259.8h0M423.9 253.8h0M423.9 254.5h0M424.2 264.8h0M424.2 261.2h0M424.3 259.5h0M424.4 270.6h0M424.5 256h0M424.5 269.7h0M424.6 259.9h0M424.6 255.1h0M424.6 255.8h0M424.9 259.7h0M424.9 266.1h0M425.1 273.2h0M425.1 265.3h0M425.1 254.2h0M425.2 270.7h0M425.2 264.3h0M425.2 274.5h0M425.3 274.4h0M425.4 269.8h0M425.5 264.5h0M425.5 261.9h0M425.6 257.2h0M425.6 259h0M425.6 266.5h0M425.7 263.9h0M425.7 260.6h0M425.8 262.5h0M425.8 276.6h0M425.8 263.7h0M425.9 259.1h0M425.9 261.3h0M425.9 276.2h0M425.9 273.1h0M425.9 261.3h0M426 277.5h0M426 267.8h0M426.2 262.2h0M426.2 266.8h0M426.4 275.3h0M426.4 274.3h0M426.4 260.7h0M426.4 272.4h0M426.5 273.2h0M426.5 276.3h0M426.6 261.5h0M426.7 265.6h0M426.7 267.5h0M426.7 274.8h0M427 253.8h0M427.1 256.6h0M427.1 269.1h0M427.2 266.4h0M427.3 269h0M427.3 256.4h0M427.4 272.9h0M427.4 260.2h0M427.6 270.3h0M427.7 258.8h0M427.8 267.7h0M427.8 276.4h0M427.9 253.8h0M428.1 275.4h0M428.1 258.7h0M428.2 255.8h0M428.4 261.5h0M428.4 260h0M428.5 260.9h0M428.5 257.4h0M428.5 270.4h0M428.6 259.4h0M428.6 260.5h0M428.7 262.6h0M428.7 259.7h0M428.8 274.7h0M428.8 267h0M428.9 278.1h0M429.2 269h0M429.2 277.1h0M429.3 277h0M429.5 259.1h0M429.6 262.6h0M429.9 262.6h0M429.9 267.5h0M429.9 270.8h0M429.9 262.3h0M430 265h0M430 255.6h0M430 269h0M430.1 257h0M430.2 271.2h0M430.4 253.8h0M430.5 266.5h0M430.5 275.8h0M430.6 275.6h0M430.6 273.1h0M430.7 265.8h0M430.9 276.5h0M430.9 271.1h0M431 277.6h0M431 274.3h0M431.3 270.4h0M431.4 259.8h0M431.4 257.7h0M431.6 255.8h0M431.6 277.9h0M431.8 273h0M432.2 253.6h0M432.3 280.4h0M432.3 259.6h0M432.4 254.4h0M432.4 263.7h0M432.5 258.5h0M432.5 279.6h0M432.7 259.1h0M432.8 256.4h0M432.8 271.4h0M432.8 269.7h0M432.8 264.6h0M432.8 269h0M432.8 275.2h0M432.9 257.5h0M432.9 256.5h0M432.9 254.9h0M433 269.5h0M433.1 276.7h0M433.2 264.4h0M433.3 269.7h0M433.3 262.4h0M433.3 268.3h0M433.4 273.8h0M433.4 261.3h0M433.4 265h0M433.4 258.6h0M433.4 273.1h0M433.4 276.2h0M433.5 262.2h0M433.6 272.7h0M433.6 254.4h0M433.8 264.4h0M433.8 271.9h0M433.9 274.8h0M434 272.8h0M434 272.4h0M434 273h0M434.1 262.2h0M434.1 277.6h0M434.1 256.5h0M434.2 279.4h0M434.2 278.2h0M434.3 273.1h0M434.4 266.6h0M434.5 262.4h0M434.5 264.7h0M434.6 277h0M434.6 256.5h0M434.7 273.1h0M434.8 271.5h0M434.8 272.5h0M434.9 268.9h0M434.9 271.3h0M434.9 262.4h0M434.9 265.3h0M434.9 268.2h0M435 260.4h0M435.1 266h0M435.1 257.8h0M435.1 276.6h0M435.1 266.7h0M435.2 264.3h0M435.4 271.8h0M435.4 272.1h0M435.4 276.6h0M435.4 276.6h0M435.4 262.7h0M435.4 272h0M435.5 257.5h0M435.5 271.5h0M435.5 270.5h0M435.5 257h0M435.6 277h0M435.7 264.7h0M435.7 261.7h0M435.7 262.4h0M435.8 257h0M435.8 278.1h0M435.8 272.8h0M435.9 267.9h0M436 276.2h0M436 260.8h0M436 257.7h0M436 264h0M436.1 274.8h0M436.2 272.9h0M436.2 267h0M436.2 269.2h0M436.3 266.1h0M436.3 257.8h0M436.3 263.8h0M436.4 260.1h0M436.4 259.4h0M436.5 275.6h0M436.5 263.9h0M436.6 259.1h0M436.7 268.7h0M436.8 278.6h0M436.8 261.6h0M436.9 255.6h0M437 254.3h0M437.1 265.3h0M437.3 272.8h0M437.4 274.1h0M437.4 262.2h0M437.5 271.6h0M437.6 276.9h0M437.7 258h0M437.9 271.3h0M438 274.2h0M438.1 271.8h0M438.2 278.7h0M438.3 255h0M438.3 265.1h0M438.5 267.2h0M438.5 278.2h0M438.5 277.1h0M438.6 257.4h0M438.6 269.4h0M438.7 277.3h0M438.7 261.2h0M438.9 274.5h0M438.9 258.6h0M439.1 279.3h0M439.1 273.3h0M439.1 270.8h0M439.2 277.3h0M439.2 255h0M439.2 279.5h0M439.2 274.7h0M439.3 276.2h0M439.3 261h0M439.3 265.2h0M439.5 261.6h0M439.6 273h0M439.6 276.3h0M439.6 264.9h0M439.6 273.2h0M439.7 278.9h0M439.8 270.1h0M439.9 278.3h0M439.9 268.1h0M440 267.4h0M440 270.8h0M440.2 265.8h0M440.3 276.8h0M440.3 265.8h0M440.3 256h0M440.3 263.3h0M440.3 260.5h0M440.4 264.9h0M440.4 272.6h0M440.4 257.6h0M440.5 272.3h0M440.5 256.1h0M440.5 265.3h0M440.6 254.5h0M440.7 260.2h0M440.8 268.4h0M440.9 277.7h0M441 263.8h0M441 265.2h0M441 269.3h0M441.1 260.8h0M441.2 280.1h0M441.3 278.6h0M441.4 274.4h0M441.6 258.3h0M441.6 257.7h0M441.7 258.6h0M441.8 268.7h0M441.8 265.7h0M441.8 270.7h0M441.8 261.9h0M441.8 278h0M441.9 273.1h0M442 272.7h0M442.1 277h0M442.1 269.3h0M442.5 255.2h0M442.5 268.9h0M442.6 274.2h0M442.6 280.8h0M442.6 263.5h0M442.8 253.6h0M442.8 273.3h0M442.8 264.8h0M442.8 268.1h0M442.9 278.3h0M442.9 262.3h0M442.9 257.7h0M443 260.1h0M443.1 253.1h0M443.1 258.3h0M443.1 257.7h0M443.2 255.8h0M443.3 262h0M443.3 272.2h0M443.3 278.4h0M443.3 257.8h0M443.3 258.8h0M443.3 265.1h0M443.5 268h0M443.6 263.5h0M443.6 255.4h0M443.7 279.3h0M443.7 259h0M443.7 265.3h0M443.9 266.1h0M443.9 276.2h0M444 274.1h0M444.2 279.3h0M444.2 265.8h0M444.3 271.6h0M444.4 268.4h0M444.4 255.1h0M444.5 258.3h0M444.6 252.1h0M444.6 267.9h0M444.7 271.7h0M444.8 274.2h0M444.9 271.9h0M445 278h0M445 271.9h0M445.1 265.9h0M445.2 271.9h0M445.4 258h0M445.4 271.5h0M445.4 270.3h0M445.5 270.1h0M445.6 279.1h0M445.6 276.6h0M445.8 270.9h0M445.8 269.6h0M446 279.8h0M446 271.9h0M446.1 265.4h0M446.1 267.8h0M446.2 275.7h0M446.3 257.6h0M446.3 271.6h0M446.3 262h0M446.7 273.7h0M446.8 266.8h0M446.8 267h0M446.9 263.3h0M447 266.9h0M447.2 270.4h0M447.2 277h0M447.2 261.4h0M447.3 267.6h0M447.3 268.7h0M447.3 272.6h0M447.4 256.1h0M447.5 269.4h0M447.5 265.9h0M447.6 264.8h0M447.7 267.8h0M447.7 267.9h0M447.8 262h0M447.8 275.9h0M447.9 272.2h0M447.9 263.3h0M447.9 268.3h0M447.9 270.7h0M447.9 271h0M448 266.5h0M448.1 276.3h0M448.1 271.7h0M448.1 268.8h0M448.2 258.6h0M448.2 265.6h0M448.4 253.9h0M448.4 258.3h0M448.5 265.4h0M448.6 276.2h0M448.6 278.4h0M448.6 262.9h0M448.6 278.9h0M448.6 265.1h0M449.1 260h0M449.3 264.2h0M449.4 254.2h0M449.4 258.5h0M449.4 257.5h0M449.6 267.4h0M449.6 270.1h0M449.9 270.2h0M450.2 264h0M450.2 253.4h0M450.2 274.1h0M450.2 277.8h0M450.3 278.7h0M450.3 262.3h0M450.3 274.3h0M450.5 257.4h0M450.7 275.8h0M450.7 258.3h0M450.7 270.4h0M450.8 264.9h0M450.8 258.3h0M450.8 277.7h0M450.8 275.4h0M450.9 257.4h0M450.9 257.6h0M451.1 252.8h0M451.1 257.9h0M451.1 269h0M451.2 252.3h0M451.2 254.3h0M451.4 270.1h0M451.6 265.6h0M451.8 271.8h0M451.9 267.7h0M451.9 256.3h0M451.9 256.5h0M451.9 273.8h0M451.9 254h0M451.9 262.6h0M452.1 275.9h0M452.2 268.7h0M452.2 277.8h0M452.3 261.9h0M452.4 266.5h0M452.4 271.9h0M452.4 255h0M452.4 261.5h0M452.5 273.3h0M452.6 265.5h0M452.6 253.2h0M452.6 256.3h0M452.7 271.4h0M452.7 268.8h0M452.7 272.2h0M452.7 269.5h0M452.8 253.7h0M452.9 272.1h0M452.9 261h0M453 269h0M453 270.7h0M453.1 265h0M453.1 263.2h0M453.2 266h0M453.3 274h0M453.4 274.3h0M453.4 271h0M453.4 261.3h0M453.4 260.3h0M453.4 267.4h0M453.4 254.1h0M453.4 253.2h0M453.4 275.9h0M453.5 275.8h0M453.6 256.5h0M453.6 265.2h0M453.7 253.6h0M453.8 259.7h0M453.8 257.9h0M453.9 265.6h0M453.9 269.8h0M453.9 259.7h0M454.1 272.2h0M454.1 267h0M454.2 266.4h0M454.3 272.2h0M454.4 271h0M454.4 274.3h0M454.5 270.2h0M454.6 258.1h0M454.6 258.9h0M454.7 255.8h0M454.7 267.6h0M454.7 271.9h0M454.7 277.2h0M454.8 263.9h0M454.8 254h0M454.8 270.7h0M455 275.5h0M455 261h0M455 264.8h0M455.1 276.1h0M455.2 265.2h0M455.2 278.6h0M455.2 272.7h0M455.3 259.5h0M455.3 267.5h0M455.3 273h0M455.3 261h0M455.4 267.4h0M455.5 275.3h0M455.5 279.7h0M455.7 266h0M455.7 266.7h0M455.7 256.2h0M455.8 269.7h0M455.8 272.4h0M455.9 271.3h0M456 259.8h0M456.1 256h0M456.1 254.1h0M456.2 264.8h0M456.3 264h0M456.3 271.3h0M456.3 273.1h0M456.5 272.5h0M456.5 276.1h0M456.5 268.3h0M456.6 271.3h0M456.6 262.8h0M456.7 263.3h0M456.7 263.6h0M456.8 267.6h0M456.9 274h0M456.9 277.4h0M457 267.2h0M457 271.8h0M457 275.2h0M457.2 257.4h0M457.3 267.1h0M457.4 258.9h0M457.4 274.6h0M457.4 257.9h0M457.5 253.9h0M457.8 274.7h0M457.8 269.6h0M457.8 255.6h0M457.8 262.8h0M457.9 263.4h0M458 261.7h0M458.2 271.4h0M458.2 269.5h0M458.2 265.7h0M458.3 269h0M458.3 268.5h0M458.3 275.5h0M458.4 256.6h0M458.4 261.2h0M458.5 263.5h0M458.6 264.9h0M458.7 268.3h0M458.7 273.3h0M458.8 267.3h0M458.8 265.7h0M458.9 277h0M458.9 259.9h0M459.1 271.9h0M459.3 260.2h0M459.4 275.1h0M459.4 264.4h0M459.4 254.3h0M459.4 275.8h0M459.5 258.2h0M459.6 271h0M459.6 253.2h0M459.7 260.3h0M459.7 263.6h0M459.8 261.9h0M459.8 264.1h0M459.9 270.7h0M460 255.4h0M460.2 264.5h0M460.3 263.7h0M460.4 263.2h0M460.4 268.3h0M460.6 268.2h0M460.6 270h0M460.6 270.7h0M460.6 266.6h0M460.6 267.1h0M460.7 276.5h0M460.7 257.6h0M460.8 273.6h0M460.8 274.9h0M460.9 280h0M460.9 262.8h0M461 254.2h0M461 280.7h0M461.1 258.3h0M461.2 258.7h0M461.2 260.2h0M461.2 263.3h0M461.4 262.7h0M461.5 262.6h0M461.5 256.5h0M461.6 255.9h0M461.7 276.9h0M461.7 255.7h0M461.7 271.6h0M461.8 276.9h0M461.9 278.7h0M462 274.3h0M462 256.1h0M462.1 275.3h0M462.2 277.4h0M462.2 258.9h0M462.3 264h0M462.4 269.3h0M462.5 265h0M462.5 257.8h0M462.5 272h0M462.5 272.5h0M462.5 274.6h0M462.6 260.2h0M462.7 256.1h0M462.7 274.9h0M462.8 268.6h0M462.8 273.6h0M462.8 259.4h0M462.9 267.9h0M462.9 277.3h0M463 271.5h0M463.1 256.1h0M463.1 268.3h0M463.1 272.3h0M463.1 274.5h0M463.1 269.3h0M463.2 270.7h0M463.3 273.8h0M463.3 274.3h0M463.3 272.2h0M463.4 271.9h0M463.4 254.4h0M463.5 276.3h0M463.7 274.3h0M463.7 260.4h0M463.8 275.7h0M463.8 274.6h0M463.9 254.7h0M463.9 259.3h0M464.1 276.4h0M464.2 257h0M464.3 277.2h0M464.4 269.8h0M464.4 256.6h0M464.5 267.5h0M464.6 268.7h0M464.6 265.4h0M464.6 264.9h0M464.6 274h0M464.6 260h0M464.7 264.6h0M464.8 263.4h0M464.8 274.4h0M464.9 255.7h0M464.9 251h0M464.9 270.3h0M465 261.6h0M465 259.9h0M465 267h0M465.2 262.5h0M465.3 255.5h0M465.3 254.4h0M465.3 263.7h0M465.3 254.2h0M465.5 259.2h0M465.5 258.7h0M465.6 269.5h0M465.7 254h0M465.7 266.6h0M465.7 263h0M465.8 261.8h0M465.9 259.5h0M465.9 259.2h0M466 253.6h0M466 267.9h0M466 266h0M466.2 269.7h0M466.2 261.8h0M466.2 277h0M466.3 274.3h0M466.4 268.1h0M466.4 265.5h0M466.4 260.6h0M466.5 260.7h0M466.5 270h0M466.7 265.6h0M466.7 258.5h0M466.8 263.9h0M466.9 263.6h0M467 268.2h0M467.1 260.4h0M467.2 256h0M467.2 270.5h0M467.5 275.5h0M467.5 277.8h0M467.6 265.7h0M467.6 269.3h0M467.7 267.7h0M467.7 272.9h0M467.8 269.5h0M467.9 262.3h0M467.9 258.2h0M468 257.2h0M468 265.6h0M468.1 265.2h0M468.2 264.3h0M468.3 267.5h0M468.3 271.1h0M468.3 255.3h0M468.4 274.6h0M468.4 277.8h0M468.7 265.8h0M468.8 257.5h0M468.9 269.9h0M469.1 271.7h0M469.2 270.9h0M469.2 266.9h0M469.2 267.1h0M469.2 257.3h0M469.3 268.8h0M469.4 263.2h0M469.4 272.6h0M469.4 270.7h0M469.4 261.6h0M469.5 259.2h0M469.6 260.5h0M469.6 260.5h0M469.6 258.1h0M469.6 269.5h0M469.7 264.1h0M469.7 270.6h0M469.8 277.2h0M469.9 268.2h0M470 270.2h0M470.1 257.4h0M470.1 257.4h0M470.1 269.9h0M470.2 265.6h0M470.2 253h0M470.2 277.8h0M470.3 265.2h0M470.3 261.9h0M470.3 253.6h0M470.4 267.4h0M470.4 255.1h0M470.5 253.9h0M470.5 260h0M470.6 265.7h0M470.7 255.6h0M470.8 252.9h0M470.9 274.7h0M470.9 272.6h0M471.2 256.8h0M471.4 256.1h0M471.4 275.2h0M471.5 263.5h0M471.6 265.4h0M471.7 278.8h0M471.7 272.5h0M471.9 277.3h0M472 257.2h0M472 263.7h0M472.1 266.2h0M472.2 264.8h0M472.2 269h0M472.3 277.9h0M472.4 268.4h0M472.4 273.9h0M472.5 259.3h0M472.8 260.5h0M472.9 275.4h0M473 263.6h0M473 271.7h0M473.1 270.8h0M473.1 267.4h0M473.1 273.3h0M473.6 258.9h0M473.6 259.8h0M473.8 259.9h0M473.8 267.5h0M473.8 264.7h0M473.9 268.3h0M473.9 255.2h0M473.9 256.9h0M474 263.3h0M474 268.1h0M474 271h0M474.1 260.7h0M474.1 265.7h0M474.1 264.7h0M474.3 264.4h0M474.3 255.4h0M474.4 262.3h0M474.5 254.3h0M474.6 266.1h0M474.6 275.2h0M474.7 267.8h0M474.7 277.2h0M474.9 275.1h0M474.9 273.1h0M475.1 264h0M475.1 262.2h0M475.2 273.5h0M475.3 278.6h0M475.3 259.1h0M475.3 267.4h0M475.5 255h0M475.6 273.3h0M475.6 268.1h0M475.7 270.7h0M475.8 269.4h0M475.9 269.7h0M475.9 271.7h0M476 261.8h0M476.1 268.4h0M476.2 257.6h0M476.2 269.4h0M476.4 275.9h0M476.4 254.9h0M476.5 256.6h0M476.5 272.3h0M476.6 259.2h0M476.7 273.6h0M476.7 271.5h0M476.7 256.5h0M476.8 258.2h0M476.9 263.2h0M477.1 270.5h0M477.1 259.3h0M477.2 277.8h0M477.2 267.9h0M477.3 276.9h0M477.3 254.8h0M477.3 255.3h0M477.4 260.4h0M477.5 257h0M477.6 260.5h0M477.9 266.9h0M477.9 251.4h0M478 255.7h0M478 268.5h0M478.1 257.3h0M478.2 261.2h0M478.3 257.9h0M478.3 258.4h0M478.5 275.1h0M478.6 274.2h0M478.6 262.3h0M478.7 269.5h0M478.8 271.9h0M478.8 265.6h0M478.9 278.2h0M479 269.1h0M479.2 269.3h0M479.2 263.4h0M479.3 264.6h0M479.4 276.5h0M479.5 265h0M479.9 266.8h0M479.9 256.8h0M479.9 256.3h0M480 261.4h0M480.1 261.1h0M480.1 277h0M480.2 257.1h0M480.5 269.1h0M480.5 253.9h0M480.6 275.2h0M480.7 265.8h0M480.8 267.2h0M481 266.7h0M481 258.5h0M481.1 276.5h0M481.1 263.5h0M481.1 262.9h0M481.2 275.9h0M481.2 257.9h0M481.2 257.6h0M481.2 273.4h0M481.2 266.3h0M481.2 274h0M481.3 253.5h0M481.3 252.5h0M481.5 264.4h0M481.5 256.1h0M481.5 269.7h0M481.6 267.8h0M481.8 254.9h0M481.8 275.1h0M481.8 274.2h0M481.8 267.8h0M481.9 264h0M481.9 257.8h0M482 259.3h0M482.2 275h0M482.2 274h0M482.3 255.1h0M482.3 275.1h0M482.3 255.1h0M482.3 254.7h0M482.4 280.3h0M482.5 250.7h0M482.5 267.3h0M482.5 255.8h0M482.6 257.1h0M482.7 273.1h0M482.8 266.7h0M482.8 268.1h0M483 273.9h0M483.1 255.9h0M483.1 260.9h0M483.1 271.8h0M483.4 261.7h0M483.5 271.5h0M483.6 271.9h0M483.7 272.9h0M483.8 271.7h0M483.8 259.7h0M483.8 275h0M483.9 261.3h0M483.9 257h0M483.9 264h0M483.9 256.3h0M484 269.3h0M484.1 275.1h0M484.4 275h0M484.5 260.7h0M484.5 265.9h0M484.5 267.4h0M484.6 262.1h0M484.6 264h0M484.6 268.2h0M484.6 269.4h0M484.7 261.2h0M484.7 270.3h0M484.7 268.4h0M484.8 269h0M485 257.8h0M485 266.1h0M485.1 277.7h0M485.2 281.2h0M485.4 259.5h0M485.4 258.7h0M485.4 269.1h0M485.5 274.9h0M485.7 280.3h0M485.7 268.4h0M485.8 274.8h0M486 261.9h0M486.2 256h0M486.3 276.8h0M486.3 253h0M486.3 262.5h0M486.3 259.4h0M486.4 258.4h0M486.4 278.5h0M486.4 258.8h0M486.5 265h0M486.6 273.3h0M486.7 267.9h0M486.8 270.8h0M486.8 251.9h0M486.9 259.2h0M486.9 281.3h0M487 267.7h0M487.1 258.7h0M487.2 275.9h0M487.2 276h0M487.3 257.2h0M487.3 258.9h0M487.4 261.8h0M487.4 253.6h0M487.6 253.6h0M487.6 267.3h0M487.6 278.6h0M487.8 258.9h0M487.9 270.7h0M487.9 274.6h0M487.9 255.8h0M487.9 279.2h0M488 268.7h0M488.1 260.6h0M488.1 265.4h0M488.1 260.1h0M488.1 276.4h0M488.2 272.7h0M488.3 279.5h0M488.3 261.4h0M488.3 256.5h0M488.4 270.7h0M488.4 269.6h0M488.4 283h0M488.5 263h0M488.5 265.9h0M488.5 250.8h0M488.5 252.9h0M488.5 278.4h0M488.6 262.2h0M488.7 262.9h0M488.7 282.8h0M488.7 269.9h0M488.9 271.4h0M489 262.3h0M489.3 273.8h0M489.3 281.1h0M489.3 251.3h0M489.4 264.6h0M489.6 284h0M489.6 274.7h0M489.7 263.6h0M489.9 261.1h0M490.1 258.8h0M490.1 259.1h0M490.2 268h0M490.3 274.9h0M490.4 267.5h0M490.4 281.6h0M490.5 255h0M490.7 256.4h0M490.7 256.5h0M491 254.7h0M491.1 262.2h0M491.1 263.9h0M491.1 274.8h0M491.2 269.2h0M491.2 269.3h0M491.3 262.9h0M491.4 267.5h0M491.5 261.2h0M491.5 267.2h0M491.6 253h0M491.6 270.9h0M491.6 278.3h0M491.7 253.3h0M491.7 268.4h0M491.7 273.6h0M491.7 285.2h0M491.8 267.3h0M491.8 279.3h0M491.8 252.8h0M491.9 272.8h0M491.9 280h0M491.9 284h0M491.9 273.1h0M491.9 252.2h0M492 278.4h0M492.1 262.4h0M492.2 264.6h0M492.3 260.4h0M492.4 255.1h0M492.5 283.4h0M492.5 255.3h0M492.7 255h0M492.7 275.2h0M492.7 253.1h0M492.8 265.2h0M492.8 279.1h0M492.8 270.9h0M492.9 268.1h0M492.9 264.7h0M492.9 259.8h0M493 286.8h0M493 277h0M493.3 251.9h0M493.5 268.5h0M493.5 263.5h0M493.6 273.5h0M493.7 269h0M494 277h0M494 261.2h0M494.1 280h0M494.1 253.8h0M494.2 269.2h0M494.2 285.1h0M494.3 258.9h0M494.3 258.9h0M494.4 267.2h0M494.5 281.7h0M494.7 281.4h0M494.8 271.4h0M494.8 272h0M495 252.2h0M495.1 252.9h0M495.1 276.2h0M495.3 285.9h0M495.3 278.9h0M495.4 286.1h0M495.6 250.5h0M495.6 260.4h0M495.7 260.3h0M495.8 254.3h0M496 265.9h0M496.1 281.5h0M496.3 283.5h0M496.3 285.5h0M496.4 272.5h0M496.5 285.8h0M496.5 273.1h0M496.6 262h0M496.8 257.2h0M496.8 262.8h0M496.8 264.5h0M496.9 287.6h0M496.9 263.6h0M497 265h0M497.1 264.4h0M497.2 258.1h0M497.2 267.8h0M497.3 287.9h0M497.3 260.3h0M497.4 283.3h0M497.4 249.1h0M497.5 258h0M497.6 284.9h0M497.7 266h0M497.8 261.1h0M497.8 278.7h0M497.9 282.7h0M497.9 274.6h0M497.9 251.4h0M498 251.7h0M498.2 271.4h0M498.2 266.1h0M498.2 263.3h0M498.4 284.9h0M498.4 253.9h0M498.5 272.7h0M498.6 262.8h0M498.6 276.9h0M498.7 254.5h0M498.9 291.2h0M498.9 291h0M498.9 284.7h0M498.9 263.3h0M499 267.4h0M499.1 277.8h0M499.1 274.7h0M499.1 262.9h0M499.2 255.4h0M499.2 259.5h0M499.3 247.6h0M499.3 262.5h0M499.4 261.6h0M499.5 258.3h0M499.5 279.3h0M499.6 268.9h0M499.7 268.1h0M499.8 263.9h0M499.9 249.2h0M500 264h0M500 278.9h0M500 257.9h0M500 272.4h0M500.1 257.6h0M500.1 289.1h0M500.1 268.7h0M500.3 284h0M500.3 276.9h0M500.4 279.9h0M500.7 277.6h0M500.8 261.2h0M500.9 265.8h0M500.9 278.6h0M501 264.1h0M501 267.5h0M501.1 268.6h0M501.1 290.6h0M501.1 282.2h0M501.1 250.8h0M501.1 254.3h0M501.2 279.7h0M501.5 274.6h0M501.5 289.7h0M501.7 252.5h0M501.8 280.5h0M501.8 255h0M502 285.7h0M502.1 250.3h0M502.1 259.3h0M502.2 248.1h0M502.2 280.7h0M502.4 253.5h0M502.4 277.9h0M502.6 246.9h0M502.6 269.4h0M502.7 290.6h0M502.8 267.1h0M502.8 283.4h0M502.9 278.1h0M503 282.1h0M503.1 247.4h0M503.1 281.9h0M503.2 252.3h0M503.2 272.1h0M503.4 270.2h0M503.4 256.7h0M503.5 261.1h0M503.6 259.8h0M503.6 252.4h0M503.6 250.2h0M503.8 285.8h0M503.8 259.9h0M504 273.9h0M504 289.8h0M504.2 283.5h0M504.2 270.3h0M504.4 269.4h0M504.4 265.9h0M504.4 254.3h0M504.5 251.5h0M504.5 259.3h0M504.5 259.3h0M504.5 252.9h0M504.5 270.7h0M504.5 247.9h0M504.7 247.7h0M504.8 247.2h0M504.8 255.8h0M505 278.5h0M505 281.9h0M505.2 280.4h0M505.3 282.7h0M505.3 271.3h0M505.5 263.1h0M505.5 256.5h0M505.6 258.7h0M505.6 293h0M505.6 273h0M505.6 288.8h0M505.8 250.9h0M505.8 243.7h0M505.8 272.7h0M505.9 280.1h0M505.9 262.8h0M505.9 257h0M505.9 275.7h0M506 250.9h0M506.1 276.6h0M506.1 267.7h0M506.1 245.5h0M506.1 260.5h0M506.2 285.6h0M506.2 243.1h0M506.3 282.3h0M506.4 281.7h0M506.4 285.2h0M506.5 258.4h0M506.5 249.2h0M506.5 274.4h0M506.7 287.5h0M506.8 246.2h0M506.9 256.8h0M506.9 269.5h0M507 248.9h0M507 278.7h0M507.1 271.9h0M507.2 277.7h0M507.2 293.5h0M507.2 291.8h0M507.2 252.3h0M507.3 265.3h0M507.3 252.4h0M507.4 275.5h0M507.4 256.3h0M507.4 274.5h0M507.4 259.7h0M507.5 272.9h0M507.6 253.8h0M507.6 272.1h0M507.8 292.1h0M507.8 274.7h0M507.9 263.7h0M507.9 263.3h0M508 269.6h0M508 293.1h0M508.1 261.5h0M508.2 291.9h0M508.3 254.7h0M508.3 275.1h0M508.3 292.2h0M508.4 254.4h0M508.5 276.6h0M508.6 255h0M508.6 266.5h0M508.7 260.1h0M508.7 278.8h0M508.8 287.6h0M508.9 278.3h0M508.9 247.5h0M509.1 260.3h0M509.1 270.3h0M509.1 285.1h0M509.2 255.4h0M509.4 260.9h0M509.6 248.3h0M509.6 248.8h0M509.6 284.5h0M509.7 283.9h0M509.7 248.9h0M509.8 248.8h0M509.8 274.9h0M509.9 296.3h0M510 272.9h0M510 255.8h0M510.1 267.8h0M510.1 262.8h0M510.1 246.8h0M510.2 281.7h0M510.2 254.9h0M510.2 282.3h0M510.3 266.5h0M510.4 267.6h0M510.4 292.8h0M510.5 244.9h0M510.5 253.2h0M510.6 281.5h0M510.6 296.3h0M510.8 258h0M510.8 275h0M510.9 244.1h0M510.9 257.5h0M511.2 254.5h0M511.3 243.4h0M511.3 250.6h0M511.5 263.6h0M511.5 274.6h0M511.6 271.4h0M511.6 271.7h0M511.7 278.7h0M511.7 277.8h0M511.8 285.8h0M511.9 274.6h0M512 276.2h0M512 268.6h0M512.3 294.1h0M512.3 266.6h0M512.3 255.5h0M512.3 258.3h0M512.4 246.9h0M512.4 259.2h0M512.5 287.2h0M512.5 253h0M512.5 273h0M512.6 270.4h0M512.6 270.2h0M512.7 269.6h0M512.7 291.2h0M512.8 246.6h0M513 254.7h0M513 280.1h0M513 284.6h0M513.1 288.6h0M513.1 281h0M513.1 291.7h0M513.2 246.8h0M513.3 248.9h0M513.5 247.5h0M513.5 266.2h0M513.7 259.9h0M513.7 254.2h0M513.8 273.2h0M513.8 259h0M513.8 289.4h0M513.9 286.9h0M513.9 285.2h0M513.9 269.6h0M514 279h0M514.1 256.6h0M514.1 279.8h0M514.2 282.6h0M514.4 272.7h0M514.4 250.9h0M514.4 294.3h0M514.4 267.8h0M514.5 280h0M514.5 293.5h0M514.6 260h0M514.6 265.8h0M514.6 274.6h0M514.6 255h0M514.7 250.3h0M514.8 288.9h0M514.9 275.1h0M514.9 290.5h0M515.1 293.2h0M515.1 254h0M515.2 268.2h0M515.2 265.9h0M515.4 247.6h0M515.4 245.6h0M515.4 244h0M515.5 252h0M515.7 280.3h0M515.7 254.8h0M515.8 249.2h0M515.8 282h0M515.8 251.5h0M515.9 280.5h0M516 278.4h0M516.1 262.8h0M516.1 284.5h0M516.2 289.3h0M516.3 277h0M516.3 262.4h0M516.6 278.4h0M516.8 258.5h0M516.8 269.7h0M516.9 284.3h0M516.9 267.4h0M517 280.4h0M517.1 281.7h0M517.2 279.1h0M517.2 274h0M517.3 290.9h0M517.3 286.4h0M517.3 284.5h0M517.3 269.3h0M517.4 268h0M517.5 288.4h0M517.5 257.7h0M517.6 244.5h0M517.7 270.2h0M517.8 290.6h0M517.8 273.3h0M517.8 262.2h0M517.9 250.1h0M518 261.3h0M518 289.6h0M518.1 283.5h0M518.3 283.9h0M518.4 276.2h0M518.4 283.7h0M518.5 263.2h0M518.7 283.2h0M518.9 260.7h0M519 248.5h0M519 257.3h0M519 284.4h0M519.2 282h0M519.5 272.3h0M519.5 293.8h0M519.5 272.7h0M519.5 248.2h0M519.9 269.6h0M519.9 285.5h0M520 288.8h0M520 250.5h0M520 270.2h0M520.1 294.8h0M520.3 269.2h0M520.3 264h0M520.3 279.1h0M342.5 246.3h0M483 244.6h0M435.5 285.3h0M470.6 246.3h0M545 255.5h0M546.6 274.8h0M551.1 264.4h0M546.2 291.4h0M547.8 285.3h0M551.6 285.1h0M551.6 294.9h0M540.5 280h0M551.4 293.2h0M551.1 284.7h0M550.7 266h0M550.4 293.4h0M544.8 257.4h0M552.2 286.6h0M547.1 273.2h0M543.1 277.8h0M548.8 252.6h0M541.7 289.3h0M548.4 260.6h0M543.5 253.8h0M544.9 281.2h0M553.1 290.2h0M542.3 288.9h0M542.4 287.9h0M542.2 287.8h0M544.1 286.4h0M546.4 257.3h0M544.7 272.4h0M549.4 291.2h0M548.6 250.6h0M542.3 273.9h0M543.5 260.6h0M540.3 278.8h0M544.7 265.2h0M541.4 295.8h0M543.8 259.1h0M547.3 268.4h0M548.5 256.3h0M543.3 284.5h0M541.9 290.7h0M546.5 274.6h0M542.8 273.8h0M544 255h0M543.2 274.8h0M551.5 268.7h0M548.8 283.9h0M544.3 274.9h0M541.9 274.8h0M543.8 292.7h0M547.2 293.5h0M542.5 266.6h0M550.2 291.2h0M547.8 277.1h0M550.3 292.1h0M543.8 270h0M547.6 271.1h0M544.9 275.9h0M549.2 251.5h0M551.2 293.4h0M545.8 298h0M546.2 256.4h0M548.5 282.4h0M547.6 279.6h0M547.4 264.1h0M545.4 251.3h0M544.5 259.3h0M551.3 265.5h0M546.4 281.2h0M542.2 258.7h0M543.7 250.5h0M543.4 255.8h0M541.7 282.7h0M547.8 274.8h0M551.7 271.7h0M548.7 296.3h0M551 259h0M544.3 283.5h0M550.8 268.2h0M545.6 292h0M549.6 292.5h0M543.3 271.5h0M544.7 252.8h0M544.5 282.7h0M542.1 287.3h0M549.4 272.8h0M541.6 294.6h0M551.2 284.5h0M540.9 277.3h0M544.1 274.6h0M549.4 260.5h0M548.1 286.2h0M546.8 256.7h0M545.1 260.9h0M547.4 289.1h0M546.6 296.5h0M547.4 282.2h0M544.8 277.1h0M546.7 269.1h0M545.6 287h0M549.5 277.1h0M549.9 259.7h0M550 266.2h0M547.7 292.4h0M542 286h0M544.9 258.6h0M547 270.5h0M544.9 283h0M541.9 268.4h0M551.2 277.7h0M548.6 253.7h0M550.4 286.3h0M546.6 281.7h0M547.8 263.7h0M547.1 298.1h0M542.9 253.7h0M550.6 267.7h0M546.6 282h0M540.6 280.9h0M546.1 261.7h0M548.6 292.7h0M544.7 271.3h0M543.7 277.1h0M544.2 284.6h0M549.7 265.3h0M542.6 272.1h0M548.3 258.9h0M541.4 274.5h0M545.1 279.7h0M545 287.4h0M543.5 258.4h0M544.6 295.4h0M545.3 268h0M543.8 261.1h0M549 278.8h0M544 256.7h0M547.7 268.4h0M547.7 252.7h0M551 273.6h0M543.6 257.2h0M549.1 294.2h0M545.3 269.8h0M543 253.3h0M551.9 277.1h0M550.5 298.1h0M544.7 250.8h0M545.5 257.8h0M544 290.4h0M548.8 276.9h0M543.2 285.6h0M541.3 289.6h0M541.6 284.9h0M552.2 277.8h0M551.4 280.6h0M544.7 295.2h0M550 266.9h0M547.7 260.4h0M543.3 261.2h0M549 286h0M545.5 284.5h0M541.9 296.6h0M548.3 296.3h0M552.5 289.3h0M548.4 289.2h0M547.4 290.7h0M550.2 261h0M545.3 250.1h0M543.7 295.9h0M545.3 292.1h0M543.7 253.4h0M547.5 257.4h0M547.8 278.1h0M549.7 256.7h0M542 278.5h0M541.9 292.7h0M549.9 294.7h0M544.1 258.5h0M549.3 294.3h0M548.4 286.3h0M550.6 265.7h0M544.8 256.6h0M546.7 282.8h0M549.2 298.3h0M548.2 258.8h0M548.2 289.3h0M545.5 274.5h0M543.5 262.2h0M541.8 267.7h0M548.2 256.1h0M548 274.2h0M541.2 284.6h0M546 260h0M543.3 256.1h0M550.5 279.1h0M545.8 258.1h0M551.8 272.8h0M548.3 262.9h0M542.1 297.6h0M542.3 268.9h0M551.7 282.2h0M545.2 281.7h0M545.6 295.7h0M551.5 273.6h0M542 296.1h0M540.6 281.8h0M549.1 253h0M550.8 267.4h0M547 293.5h0M548.9 263.7h0M544.4 258.7h0M542.6 267.4h0M544.8 266.4h0M552.4 282.3h0M541 291h0M549.1 267.5h0M545.6 253.5h0M542.9 259.5h0M550.9 295.8h0M546.6 259.4h0M547.4 267.4h0M543.9 254.8h0M543.3 238.6h0M540.2 242.4h0M543.6 241.6h0M548.2 245.6h0M546.5 248.5h0M539.3 266h0M539.8 270h0" fill="none" stroke="#f00" stroke-width="5.56" stroke-linecap="round"/>
<path d="M101.5 269.8L102.5 269.9L103.5 270L104.5 270.4L105.5 269.4L106.5 269.6L107.5 269.2L108.5 269.1L109.5 269.6L110.5 269.6L111.5 269.8L112.5 270L113.5 270L114.5 270.1L115.5 271L116.5 271L117.5 270.8L118.5 270.8L119.5 270.8L120.5 270.5L121.5 270.4L122.5 270.2L123.5 270.3L124.5 270.4L125.5 270L126.5 270.6L127.5 270L128.5 270.6L129.5 270.2L130.5 270.4L131.5 270.1L132.5 270.8L133.5 269.8L134.5 269.7L135.5 269.7L136.5 269.1L137.5 268.9L138.5 268.9L139.5 269L140.5 268.7L141.5 268.9L142.5 269.5L143.5 269.5L144.5 269.6L145.5 269.5L146.5 270.2L147.5 269.8L148.5 269.9L149.5 269.1L150.5 269.5L151.5 268.8L152.5 269.4L153.5 269.2L154.5 269.9L155.5 270.1L156.5 270.2L157.5 270.8L158.5 270.7L159.5 270.5L160.5 270.6L161.5 271.1L162.5 271L163.5 270.6L164.5 270.5L165.5 270.3L166.5 270L167.5 269.9L168.5 269.8L169.5 269.9L170.5 270.6L171.5 269.9L172.5 270.8L173.5 270.4L174.5 270.2L175.5 270.1L176.5 270.4L177.5 270.1L178.5 269.6L179.5 269.7L180.5 269.3L181.5 269.7L182.5 268.9L183.5 269.7L184.5 269.5L185.5 270.2L186.5 269.7L187.5 270.6L188.5 270.8L189.5 270.2L190.5 270.7L191.5 270.7L192.5 269.9L193.5 270.7L194.5 270.4L195.5 270.2L196.5 270.5L197.5 269.8L198.5 270L199.5 270.4L200.5 271L201.5 270.7L202.5 270.8L203.5 270.7L204.5 270.6L205.5 271L206.5 270.2L207.5 270.2L208.5 269.5L209.5 269.4L210.5 269.8L211.5 269L212.5 269.3L213.5 269.2L214.5 269.1L215.5 269.6L216.5 269.4L217.5 270.2L218.5 269.6L219.5 270.1L220.5 269L221.3 268.5L222.6 262L223.7 259.1L286 259.1L287.6 256.5L288.6 248L290.2 243.8L300 243.8L303.4 240.3L303.8 225L310.4 225L311.2 185.6L312 240L313 252.5L314.5 258L316.5 262.3L319 265.5L322 268L325 269.4L328 270L329 270L330 270.1L331 270.6L332 270.5L333 270.6L334 270.7L335 270.6L336 270.4L337 270.3L338 269.8L339 270.6L340 270.7L341 271L342 271L343 271.3L344 271.3L345 271.4L346 270.8L347 270.3L348 270.2L349 269.5L350 269.3L351 269.1L352 269.2L353 269.3L354 269.7L355 269.9L356 269.5L357 270.2L358 270L359 269.8L360 269.1L361 269.6L362 268.9L363 269.4L364 269.3L365 269L366 269.8L367 269.3L368 269.8L369 270L370 270.1L371 270.2L372 270.5L373 270.2L374 270.5L375 269.9L376 270L377 269.5L378 269.3L379 269.9L380 269.3L381 270.2L382 269.9L383 270.4L384 270.2L385 269.9L386 269.2L387 269.7L388 269.3L389 269.2L390 268.5L391 268.4L392 268.5L393 268.9L394 269.8L395 270.1L396 269.9L397 269.8L398 270.6L399 270.5L400 269.7L401 269.7L402 269.5L403 270.3L404 269.6L405 270.5L406 270.4L407 270.6L408 271.2L409 270.6L410 271L411 271L412 270.5L413 270.4L414 269.7L415 269.5L416 269.7L417 269.6L418 269.3L419 269.4L420 269.8L421 269.8L422 269.6L423 270L424 270.1L425 270L426 269.2L427 268.7L428 269.1L429 268.8L430 269.2L431 269.2L432 269.1L433 269.4L434 269.3L435 269.6L436 270.7L437 270.4L438 270.7L439 270.3L440 269.8L441 270.1L442 269.8L443 269.8L444 269.5L445 269.2L446 269.5L447 269.5L448 269.9L449 269.7L450 269.7L451 269.1L452 269.1L453 269L454 269L455 268.2L456 267.9L457 268.5L458 268.1L459 268.7L460 268.4L461 268.7L462 269.4L463 269.9L464 269.8L465 270L466 269.7L467 268.9L468 269.1L469 269.2L470 269.2L471 268.7L472 269.1L473 269.2L474 268.6L475 268.3L476 268L477 267.5L478 267.5L479 266.5L480 265.5L481 265.7L482 265.2L483 264.7L484 264.8L485 265.9L486 267.5L487 268.2L488 269.3L489 270L490 268.9L491 269.2L492 268.9L493 267.9L494 268.3L495 267.8L496 267.6L497 267.9L498 267.5L499 268L500 268.4L501 267.7L502 268.4L503 268.8L504 268.6L505 268.1L506 268.3L507 268L508 267.3L509 267.8L510 267.5L511 267.5L512 267.1L513 267.8L514 267.6L516.5 270L518.3 262L519.7 255.8L520.6 262L521.3 267.5L537.3 267.5L538.5 263L540.8 262.5L541.5 266L542.5 268.5L543.6 262L545.3 254L546.8 257.5L548.3 263.5L549.6 268.8L550.8 270.3L554.2 270.3" fill="none" stroke="#bf00bf" stroke-width="2.08" stroke-linejoin="round" stroke-linecap="square"/>
</g>
<g clip-path="url(#c2)">
<path d="M102 404.5v9.9M102 405.6v10.2M103 408.9v8.1M103 406.1v9M104 406.5v8.9M104 405.7v9.9M104 409.1v7.9M104 404.6v9.6M104 404.9v9.8M106 406.1v7.9M106 407.5v7.3M106 406.2v9M106 407.3v7.5M106 406.4v8.5M106 402.6v9.1M107 404.7v9.6M108 406.4v8.6M108 403.7v10.3M108 401.8v7.4M108 401.7v10.3M109 406.2v7.6M110 404.8v8.2M110 403.1v8M110 405.7v11M110 405.5v8.5M111 405.1v7.7M112 401.8v12M112 404.6v8M112 405.2v9M112 406.4v9.8M112 405.9v7.6M112 405.1v8.1M114 403.8v9.9M114 403.4v10.2M114 406.1v9.2M116 403.8v8.8M117 409.2v8.2M117 407v8.7M118 405.2v7.7M118 407.1v9.5M118 405.3v8.8M119 405v9.7M119 409.9v9.3M120 406.1v8.1M120 406.9v8.6M122 406.4v9.7M123 400.1v12.2M124 404.4v7.3M124 409.4v7.4M124 407.2v7.7M124 403.2v12.3M124 407.3v9.8M126 406.5v11.3M126 404.5v10.3M126 405.5v8.3M126 402v9.1M126 403.2v10.2M128 405.8v8.4M129 406.7v9.9M129 407.8v8.4M130 404.9v11.1M130 406.4v9.7M131 404.8v8M132 404.2v8.7M132 407v8.6M132 402.8v9.1M133 407.1v7.7M133 401.8v9.5M133 403.7v8.1M133 404.8v8.1M134 409.3v8M137 406.9v8.4M138 404.6v10.1M138 408.5v7.3M138 406.5v9.2M140 405.9v9.3M140 407.1v9.6M140 406.5v8.5M141 404.4v11.5M141 406.2v9M141 406v9.3M142 406v9.2M143 404.4v9.2M144 403.3v9.4M144 406.9v8.5M144 400.7v12.3M145 404.5v9.1M147 408.6v8.5M148 405.3v8.1M148 405.3v8.6M148 406.7v9.2M148 405.1v7.5M148 407.1v10.2M148 408v10.4M149 407.5v7.7M150 407.5v9.1M150 405.3v9.1M150 404.8v9.6M150 405.3v8.4M151 408.2v9.2M152 409.1v7.3M152 410v8.5M152 402.8v9.3M152 403.4v10.4M152 404.2v8.9M153 405.4v8.6M154 409.7v8.1M156 404v11.7M156 402.3v8M156 407.6v8.3M156 403.3v8.1M157 404.1v8M157 406v8.5M157 407.8v9.1M158 401v9.3M158 407.4v8.4M158 407v7.5M160 406.4v10.2M160 404.9v10.2M161 404.7v10.4M161 402.5v7.4M161 404.8v9.8M162 405.3v7.6M162 406.8v8.1M162 402.1v11.8M162 405.7v7.2M164 409.5v8M165 405.3v7.2M165 407.3v8.3M166 403.6v10.1M166 406.2v8.9M166 404.3v7.7M167 403.8v8.4M168 404.9v11.5M170 403.8v8.5M170 404.6v8.8M170 409.5v7.8M172 405.5v9.5M172 404v9.4M172 402.7v8M172 402.9v9.1M173 406.1v8.7M174 404.7v9.5M174 404.3v8.8M174 404.1v8.7M176 404.1v10.7M177 404.4v12.4M178 407.6v9.5M178 404.7v8.3M178 404.7v7.6M179 403.8v9.6M179 403.2v9.7M179 405.1v10.1M180 402.4v12.3M182 405v9.1M182 403.6v8.7M182 406v8.1M183 405.9v10.3M184 407v9.1M184 408.2v9.1M184 403.5v12.4M185 407.5v7.6M186 408.2v8.7M186 407v8.5M186 405.5v8.6M188 408.6v9.8M188 405.7v8.7M189 404.8v8.5M189 405.2v8.7M190 404.1v9.7M190 404.9v7.6M190 400.7v11.2M190 406.8v9.6M190 403.8v8.3M192 404.8v9.5M192 401.1v8.1M192 404.7v7.6M192 402.6v9.3M193 402.1v8.3M194 406.9v8.7M194 403.9v9.2M194 407.7v9M194 406.4v8.7M194 402.6v12.3M194 404.9v8.5M196 407.6v10.1M196 402.3v10M196 407v7.3M198 405.1v9M198 405.8v9.9M198 404.6v7.6M202 403.9v8M202 403.3v8.6M202 403.1v9.6M203 406.6v7.4M204 404.6v10.3M204 403.1v8.8M206 403.9v8.1M206 403.7v12.4M206 403.8v9.2M206 402.8v7.7M206 406.9v7.2M207 407.1v9.9M209 407.3v7.5M210 404.2v10.3M210 406.9v8.5M210 402.7v9.6M210 406.2v9.9M210 403.1v8.7M210 403.8v9.7M210 401.9v12.2M211 403.5v9.3M212 405.2v9.6M212 405v8.3M212 404.3v9.2M213 406.4v9.3M213 403.8v8.7M214 405.5v10.1M214 405.6v8.1M214 403.7v9M214 402.4v8.1M214 403.3v9.4M215 406.1v9.5M215 401.9v10.1M215 407.5v7.5M223 402.8v13.2M286.6 400.9v5.4M287.6 391.3v1.5M288 396.7v1.4M287.1 405.8v4.2M287.6 407.3v5.9M286.9 393v3.6M286.8 400.6v3.8M287.4 402v4.6M286.1 403.2v5.4M286.9 397.5v1.6M287.6 397.7v5.6M288 399.9v2.3M286.2 402.6v7.8M286.9 403.7v6M287.6 394.9v3M287.5 403.9v3.9M288.5 402.4v2.3M288.3 387.8v1.5M288.1 406.1v4.7M288.4 396.6v2.1M286.5 397v2.5M287.9 391.1v1.6M287.6 396.5v2.2M288.1 405.5v3.7M288.2 391.4v2.8M287.4 391v2.5M287.2 394.1v3.8M288.6 389.9v2.4M288.6 397.2v3.6M287.1 395.6v2.2M287.9 395.8v2.5M287.5 393.2v2.2M287.3 388.4v2.2M286.4 403.8v8.7M287.1 397.2v4.3M287.7 403.7v3.2M288.2 389.5v2.8M288.1 403.9v9.3M287.4 390.9v3.3M287.1 401.8v4.7M287.4 391.3v3.2M287.8 390.9v2.7M287.9 394.1v1.5M285.8 405.8v8M286.4 400.7v4.2M286.3 403.3v5.2M286.4 402.5v2.7M286.3 404.2v6.2M286.8 405.9v2.7M288 404.8v3.8M287.6 392.3v2.9M287.1 406.1v6.4M286.4 403.5v5.4M288.2 389.4v2.2M288.9 391.9v2.8M287 403.2v8.4M286.8 399.6v1.9M287.5 403.8v2.7M287.9 406.3v7M288.4 390.8v1.8M287.7 405.5v7.1M286.7 395.4v3.4M288.9 395.2v1.9M286.9 397.9v4.8M287.5 406.3v8.8M287.7 407.5v5.1M287.6 402v5.3M288.3 388.6v2.4M287.2 399.9v1.7M287.1 397.6v3.2M313.1 379.8v10.8M311.3 406.9v11.2M328 409.2v8.1M325 407.8v6.2M322 404.4v5.9M320 403.2v5.6M324 406.6v8.9M318 398.9v7.9M330 406v7.3M328 406.6v6.9M330 409.5v5.3M318 397.7v7.2M326 408.3v8.5M326 407.5v7.4M322 404.2v8.5M330 408.7v8.9M326 405.9v8.1M328 409.3v6.1M328 408.5v6M318 397.6v9M322 402.2v6.6M316 396v7M325 404.6v9M320 403.2v6.7M318 401.7v5.7M318 398.5v6M322 403.7v8.9M316 395.1v9.2M320 402.8v6.3M324 405.5v7.8M322 403.3v7.7M329 405.9v8.9M330 410.4v5.3M322 402.5v6.6M327 409.1v5.8M324 407.2v5.1M322 405.6v6M329 408.2v5.5M322 403.4v6.9M326 408.6v6.6M325 406.6v5.1M330 406.2v7.9M324 408.1v5.5M324 406.3v8.8M328 409.3v5.2M320 402.2v6.6M323 402.5v8.1M330 404.6v9.1M330 406.1v8.9M332 406.2v7.2M332 403.3v11.2M332 404v8.1M332 404.5v9.3M333 404v10.2M333 405.3v7.8M333 404.8v9.1M334 405v9.3M334 408.1v9.9M334 407.2v7.2M334 406.7v9.7M334 406.4v7.6M335 404v7.7M335 404.1v10.1M336 405.6v7.3M338 405.7v9.2M338 406.4v10.1M338 404.9v8.8M338 406.2v8M340 405v9.5M341 404.1v7.8M342 403.5v8.2M342 403.5v10.4M342 405.7v7.3M342 406.2v9.8M342 403.2v9.9M342 406.2v8.9M342 407.6v9.2M344 405.2v7.8M344 403.2v10.4M345 404.8v9M346 405.7v9.6M346 405.5v10.2M348 406.9v10.2M348 405.3v9.3M349 402.6v9.5M350 407.8v9.1M350 404.2v9.2M352 402.2v9.2M352 403.2v10.3M352 406.6v10.2M352 405v7.9M354 408.2v7.2M354 402.5v9.2M354 405v8M354 404.4v10M356 403.6v11.7M356 404.5v9.1M356 405.5v11.4M357 402.7v9.2M358 406.5v8.7M358 407v7.6M358 407.1v8.7M359 404v8.9M359 404.6v10.3M360 405.8v8.8M360 403.2v10.2M361 404.2v8.2M362 402.2v8.8M362 404.7v9.3M362 402.2v9.6M362 407.7v8.1M364 407.7v8.3M364 408.2v9.4M364 408.1v8.3M365 406.7v10.1M366 407.8v9.2M366 407v9.9M366 404.8v9.4M366 408.2v10.7M368 405.8v9.9M368 405.6v7.6M368 405.3v7.5M368 407.3v9M368 408.6v7.9M369 405.8v9.5M370 404.6v9.4M370 404.8v9.2M370 404.2v8.1M371 404.1v7.9M372 403.8v9.8M372 403.3v7.9M372 404.5v9.9M372 402.2v9.6M372 404.4v9.9M374 405v9.3M374 405.2v9.5M376 407v8.7M377 402.7v10M378 402.9v8.3M378 403.9v9.9M378 408v8.4M378 402v10M378 405.8v8.6M378 408.8v9.4M380 407.2v9.9M380 407.3v10.1M381 408.1v8.5M381 407.6v7.4M382 404.1v7.9M383 408.5v9.3M383 408.4v8M384 406.1v9.8M385 403.2v11.9M386 404.8v7.7M386 404.2v9.4M386 406.7v8.9M387 407.2v7.2M388 405.9v10M388 403v8.1M388 404.3v10.4M388 408.4v9.9M388 410v8.9M388 407.7v8.8M388 406.4v7.3M388 407.6v7.5M389 410.5v7.9M389 408.7v7.8M390 406.8v7.4M391 407.9v10.4M392 407.7v7.6M392 405.5v9M394 405.5v9.5M395 402.9v8.2M395 408.5v7.5M396 407.8v8M398 404v8M398 407.5v7.2M400 404.7v7.8M400 407.6v7.8M400 408v7.6M400 407.9v8.5M400 407.8v8M401 409v7.9M402 403.1v9.2M402 403.8v8.5M402 405.7v8.4M403 405v10.3M404 402.9v9.1M404 402.8v8.5M406 406.2v7.8M406 404.8v7.2M406 404.8v9.7M406 404.6v9.9M406 401.7v8.7M406 404.7v12.1M406 403.4v9.2M406 404.5v9.9M406 405.5v8.2M407 402.4v11.2M408 402v10.2M408 407.8v7.5M408 406v10M408 403.5v11.1M409 400.6v11.6M410 409v8.3M410 408.7v7.3M410 404.4v8.3M410 408v9.8M410 404.1v9.1M411 407v10.3M412 407.3v12.4M412 406.1v8.8M412 406.9v9.1M412 405.2v11.9M414 405.4v9.8M414 408.7v10.3M414 406.6v7.3M415 407.6v7.8M415 405.2v7.3M416 406.4v7.9M416 406v9.2M418 405.2v8.9M418 401.7v9.2M419 406.9v8.8M420 408.6v9.5M420 407v8.5M420 404.5v7.9M420 406.4v8.9M420 401.9v9.4M420 404.6v8.4M420 403.6v10.1M421 407.6v8.9M421 405v7.8M421 405.5v9.2M422 407.9v9.6M422 404v9.9M422 406.6v8M423 405.2v7.6M424 405.9v8.3M424 406.6v9.4M424 407.9v9.1M426 404.1v11.3M426 407.6v7.6M426 406.7v8.8M426 404.3v8.8M426 407.8v10.3M426 402.4v10.5M428 404.8v9.9M428 403.7v10.3M428 403.6v12M428 403.3v8.9M428 407.4v8.5M430 407.5v7.5M430 406.7v8.4M430 405.1v9.1M431 405.4v7.6M433 403.2v9.2M434 406.7v9.8M434 406.5v7.8M435 407.9v11.1M436 409.8v7.6M436 403.3v9.5M436 406.6v9.1M437 404.7v12.1M438 408.2v10.1M438 410.1v7.9M438 404.2v7.8M439 404.6v12M440 402v10.1M440 407.4v9.8M440 405.4v8.6M440 406.7v8.9M440 409.3v7.4M442 406v9.7M442 404.4v11M442 403.5v7.8M443 407.1v9M446 404.9v7.6M446 407.7v6.1M446 404.5v8.9M448 404.3v8.4M448 405v8.3M448 403v10.7M448 401.8v9.9M448 404.7v9.2M448 401.9v7.3M448 403v7.2M450 400.6v8.8M450 405.4v6.9M450 400.8v8.4M450 400.8v8.3M450 406.1v7.3M450 403.6v8.6M450 405v6.5M451 406.6v6.3M452 404.7v7.9M453 402.8v9.1M453 402.3v9.2M454 409.2v6.3M454 403.5v8.5M454 406.4v7.7M454 409.4v7.1M454 406.6v6.2M455 402.1v6.1M455 408.9v7.7M455 402.7v8.3M456 404.5v7.6M456 407.7v8.6M456 406.7v8.5M456 407v6.5M457 405.1v8.8M458 402v10.1M458 405.3v7.1M459 404.3v7M459 409.1v8.3M460 405.7v8.7M460 404.1v8.2M460 404.6v7.7M460 403.4v7M460 400.9v9.6M460 402.2v7.8M460 403.5v8.3M461 402.2v7.7M462 404.8v8.7M462 406.3v10M464 399.7v9.1M464 402.3v8.8M464 406.3v8.9M465 404.8v9.6M466 402.6v7.4M466 402.8v8.1M466 404.9v7.1M467 401.4v6.7M468 400.1v8.4M468 403.9v10.3M468 404.5v6.4M469 406.3v7.7M469 399.1v7.9M470 404.1v7.4M470 403.8v8.9M470 401.7v6.6M470 399.6v10.4M471 402.7v6.1M471 405.5v8.5M472 401.6v9M472 398.2v7.3M472 401.9v7.8M473 406v8.5M474 404.2v6.2M474 403.5v9M475 403.6v6M476 401.1v6.4M476 405.6v9.5M476 406.9v8.7M476 406.8v7.3M477 402.1v8.5M478 401.9v7.3M478 402.5v8M478 401.9v8.3M478 404.8v7.2M478 398.1v6.5M478 401.9v7.4M479 398.4v6.7M480 400.6v6.2M480 398.9v8.9M480 404.1v6.3M480 401.2v8.5M480 402.6v8.7M481 399.1v6.1M482 400.3v7.6M482 398.6v7.2M482 401.4v8.4M483 401.8v9.4M483 400.3v8.4M483 399.1v11.2M483 399.3v8.3M484 403.6v6.8M484 402.8v8.3M484 398.3v6.5M485 403.3v9.2M486 398.8v7.6M486 400.5v8M486 400v9.1M486 406.5v9M487 407v8.6M487 401.7v7.4M488 401.5v8.1M488 401.7v10.9M488 404.5v6.8M488 405.4v10.4M489 401.4v9M489 401.8v7.6M489 401.2v6.2M490 403.6v7.2M490 398v9.7M490 406v8.8M490 402v7.1M491 398.7v6.4M491 397.6v8.2M492 403.1v6.9M492 398.2v6.5M492 396.9v9M492 402.8v8.8M492 400.6v8.3M492 406v6.3M493 403.4v8.2M493 400.6v9.1M493 400.2v7.2M494 397.2v8.5M494 398.4v7.5M494 401v8.8M494 401.6v8.6M494 398v8.2M495 405.2v8.1M495 398v9.1M495 401.6v8.4M496 404.2v8M496 396.1v10.6M496 405.5v8.5M496 402v6.9M497 400.1v6.6M498 400.1v8.7M498 400.1v7M498 403.3v6.1M498 401.7v7M499 405v6.6M499 405.8v6.2M500 396.8v8M500 402.9v8.3M500 397.7v8.2M500 400.4v8.1M500 396.4v10.7M500 400.4v8.3M500 396.2v6.2M501 397.9v6.9M501 402.7v9M501 403v11.2M502 400.7v10.3M502 404.1v9M503 401.5v7.5M503 396.1v8.6M503 404.5v8.6M503 399.8v8.9M504 398.3v6.4M504 398v7.6M504 397.5v6.8M504 401.4v7.7M506 402.3v8.3M506 403.8v6.3M507 388.6v10.8M507 397.5v9.5M507 400.2v7.1M508 395.7v8.2M508 390.8v7M508 395.9v8.9M508 390.2v10.5M509 391.9v8.9M509 387.3v6M510 393.9v9.1M510 387.5v8.2M510 398.7v8.3M510 393.2v8.6M510 392.6v7.8M510 393.4v6.3M510 394v10.3M511 397.2v6.1M511 393.9v7.3M512 399.4v9M512 393.3v8.5M513 385.8v8.6M513 390.6v7.4M514 393.9v9M514 401.9v6M514 396.3v6.7M515 397.1v6.5M515 391.3v7.3M516 385.9v7.3M516 385.7v8M516 403v6.7M516 400.5v8.6M516 395.9v6.9M516 385.9v8M517 388.1v7M518 394.5v7.3M518 403.1v7M518 402.5v8.2M519 395.3v8.7M540.3 408.4v12M550 396.9v3.7M544.7 392.5v3M553.7 403.3v4.8M545.3 392v3.8M547.1 394.4v4.5M545.3 392.2v2.7M551.9 403.7v4.9M552 397.4v5.5M549.5 397.8v3.8M553.1 403.9v2M551.1 399.9v4.3M553 398.1v5.1M548.6 399.5v2.2M550.7 402.1v5.9M544.9 392.3v3M547.6 395.8v4.4M551.1 404.8v3.6M552.2 407.4v4.4M547.7 394.5v2.4M547.4 393.7v4M549.5 394.5v5.6M551.5 400.3v3.3M544.6 390.4v6M545.7 395.4v2.2M550.8 400.4v2.2M545.9 393.6v4.6M550.3 397.3v2.1M551.5 396.6v5.4M547 393.1v4.9M546 392.2v3.9M551 402.5v2.1M553.6 408.5v4.7M548 398.3v3M546.7 393.1v3.4M552.5 395.7v5M548.4 396.9v2.1M553.1 402.9v4.1M546.5 394.2v3.7M548.7 398.2v5.2M548.1 397.6v2.6M549.7 395.3v4.2M553.2 405.1v5.6M551.3 404.2v4.4M544.7 390.3v4.6M552.9 403v5.2M545.4 393.2v3.1M551.4 403.9v4.3M553.2 407.7v2M552.7 404.2v3.8M550.3 397.7v6M548.8 398.1v4.7M551.5 398.2v5.5M551 397v2.7M549.6 399.4v4.7M544.9 391.8v2.6M549.9 395.5v4M546.1 395.7v2.1M550.8 398.3v3M550.3 397.8v2.5M552 406.2v4.7M552.3 408.9v6.8" fill="none" stroke="#000" stroke-width="2.08"/>
<path d="M102 409.5h0M102.5 410.7h0M103 412.9h0M103 410.6h0M103.5 411h0M104 410.6h0M104 413.1h0M104 409.4h0M104.5 409.8h0M105.5 410.1h0M105.5 411.2h0M106 410.7h0M106 411h0M106 410.7h0M106.5 407.2h0M107 409.5h0M107.5 410.7h0M108 408.9h0M108 405.5h0M108.5 406.8h0M109 410h0M110 408.9h0M110.5 407.1h0M110.5 411.2h0M110.5 409.8h0M111 409h0M111.5 407.8h0M111.5 408.6h0M112 409.7h0M112 411.3h0M112 409.8h0M112.5 409.2h0M113.5 408.8h0M114.5 408.5h0M114.5 410.7h0M115.5 408.2h0M117 413.3h0M117 411.3h0M117.5 409.1h0M117.5 411.9h0M118.5 409.7h0M119 409.8h0M119 414.6h0M119.5 410.2h0M119.5 411.2h0M122 411.2h0M123 406.2h0M123.5 408.1h0M123.5 413.1h0M123.5 411.1h0M124 409.4h0M124 412.2h0M125.5 412.1h0M125.5 409.6h0M126 409.6h0M126.5 406.6h0M126.5 408.3h0M128.5 410h0M129 411.7h0M129 412h0M129.5 410.5h0M130 411.2h0M131 408.8h0M131.5 408.6h0M132 411.3h0M132.5 407.3h0M133 410.9h0M133 406.6h0M133 407.7h0M133 408.8h0M133.5 413.3h0M137 411.1h0M137.5 409.7h0M137.5 412.1h0M138 411.1h0M139.5 410.6h0M140 411.9h0M140.5 410.7h0M141 410.2h0M141 410.7h0M141 410.6h0M142 410.7h0M143 409h0M143.5 408h0M144 411.1h0M144.5 406.8h0M145 409h0M147 412.8h0M147.5 409.3h0M147.5 409.6h0M147.5 411.3h0M148 408.9h0M148 412.2h0M148 413.2h0M149 411.3h0M149.5 412.1h0M150 409.8h0M150 409.7h0M150.5 409.5h0M151 412.8h0M151.5 412.8h0M152 414.3h0M152 407.4h0M152.5 408.6h0M152.5 408.7h0M153 409.6h0M154 413.7h0M155.5 409.8h0M155.5 406.3h0M156 411.8h0M156.5 407.4h0M157 408h0M157 410.3h0M157 412.3h0M157.5 405.7h0M157.5 411.6h0M157.5 410.8h0M159.5 411.5h0M160.5 410h0M161 409.9h0M161 406.3h0M161 409.8h0M161.5 409.1h0M161.5 410.8h0M161.5 408h0M162.5 409.3h0M164 413.5h0M165 408.9h0M165 411.4h0M165.5 408.6h0M165.5 410.6h0M166 408.1h0M167 408h0M167.5 410.7h0M170 408h0M170.5 408.9h0M170.5 413.4h0M172 410.3h0M172.5 408.7h0M172.5 406.7h0M172.5 407.5h0M173 410.4h0M173.5 409.5h0M174 408.7h0M174.5 408.5h0M175.5 409.5h0M177 410.6h0M178.5 412.4h0M178.5 408.8h0M178.5 408.5h0M179 408.6h0M179 408h0M179 410.1h0M179.5 408.5h0M181.5 409.5h0M182.5 407.9h0M182.5 410.1h0M183 411.1h0M183.5 411.5h0M183.5 412.8h0M184 409.7h0M185 411.3h0M185.5 412.6h0M186 411.3h0M186.5 409.8h0M187.5 413.5h0M188 410.1h0M189 409h0M189 409.5h0M190 408.9h0M190 408.7h0M190.5 406.3h0M190.5 411.6h0M190.5 408h0M191.5 409.6h0M191.5 405.1h0M192.5 408.5h0M192.5 407.2h0M193 406.3h0M193.5 411.3h0M193.5 408.5h0M194 412.2h0M194 410.7h0M194.5 408.7h0M194.5 409.1h0M196 412.6h0M196.5 407.3h0M196.5 410.7h0M198 409.6h0M198 410.7h0M198.5 408.4h0M202 408h0M202.5 407.6h0M202.5 407.9h0M203 410.3h0M203.5 409.7h0M204.5 407.5h0M205.5 407.9h0M205.5 409.9h0M206 408.4h0M206.5 406.7h0M206.5 410.5h0M207 412.1h0M209 411h0M209.5 409.3h0M209.5 411.1h0M209.5 407.6h0M210 411.1h0M210 407.5h0M210.5 408.7h0M210.5 408h0M211 408.1h0M212 410h0M212 409.1h0M212.5 408.9h0M213 411.1h0M213 408.2h0M213.5 410.5h0M214 409.7h0M214 408.2h0M214 406.4h0M214 408h0M215 410.8h0M215 406.9h0M215 411.3h0M223.3 409.4h0M222.5 310.5h0M222.5 367.5h0M289.4 336.5h0M289.4 351.2h0M289.4 362.5h0M289.4 371.8h0M289.3 376h0M289.2 383.2h0M286.6 403.6h0M287.6 392h0M288 397.4h0M287.1 407.9h0M287.6 410.2h0M286.9 394.8h0M286.8 402.5h0M287.4 404.4h0M286.1 405.9h0M286.9 398.3h0M287.6 400.5h0M288 401h0M286.2 406.5h0M286.9 406.7h0M287.6 396.4h0M287.5 405.9h0M288.5 403.5h0M288.3 388.6h0M288.1 408.4h0M288.4 397.7h0M286.5 398.3h0M287.9 391.9h0M287.6 397.6h0M288.1 407.3h0M288.2 392.8h0M287.4 392.2h0M287.2 396h0M288.6 391.1h0M288.6 399h0M287.1 396.7h0M287.9 397.1h0M287.5 394.3h0M287.3 389.5h0M286.4 408.1h0M287.1 399.3h0M287.7 405.3h0M288.2 390.9h0M288.1 408.5h0M287.4 392.6h0M287.1 404.2h0M287.4 392.9h0M287.8 392.2h0M287.9 394.8h0M285.8 409.7h0M286.4 402.8h0M286.3 405.9h0M286.4 403.9h0M286.3 407.3h0M286.8 407.2h0M288 406.7h0M287.6 393.8h0M287.1 409.3h0M286.4 406.2h0M288.2 390.5h0M288.9 393.3h0M287 407.4h0M286.8 400.6h0M287.5 405.1h0M287.9 409.9h0M288.4 391.7h0M287.7 409.1h0M286.7 397.1h0M288.9 396.1h0M286.9 400.3h0M287.5 410.7h0M287.7 410h0M287.6 404.7h0M288.3 389.8h0M287.2 400.8h0M287.1 399.2h0M300.4 360.4h0M313.1 385.2h0M311.3 412.5h0M328.5 413.2h0M325 410.9h0M322.5 407.3h0M320 406h0M324.5 411h0M318.5 402.9h0M330 409.7h0M328 410h0M329.5 412.1h0M318.5 401.3h0M326 412.6h0M325.5 411.2h0M322 408.5h0M330 413.1h0M326.5 410h0M328.5 412.3h0M328.5 411.5h0M318.5 402.1h0M322 405.5h0M316 399.5h0M325 409.1h0M320.5 406.6h0M318.5 404.6h0M318 401.5h0M322 408.2h0M315.5 399.7h0M320 406h0M323.5 409.4h0M322.5 407.2h0M329 410.3h0M329.5 413h0M322.5 405.8h0M327 412.1h0M323.5 409.8h0M322 408.6h0M329 410.9h0M321.5 406.9h0M326.5 411.9h0M325 409.1h0M330 410.1h0M324 410.8h0M324.5 410.7h0M327.5 412h0M319.5 405.5h0M323 406.5h0M330 409.1h0M330 410.5h0M331.5 409.8h0M332 408.9h0M332 408.1h0M332.5 409.2h0M333 409.1h0M333 409.2h0M333 409.4h0M333.5 409.6h0M334 413.1h0M334 410.8h0M334.5 411.5h0M334.5 410.2h0M335 407.8h0M335 409.1h0M336.5 409.2h0M338 410.3h0M338.5 411.4h0M338.5 409.2h0M338.5 410.2h0M340.5 409.8h0M341 407.9h0M341.5 407.6h0M341.5 408.7h0M342 409.3h0M342 411.1h0M342 408.1h0M342 410.7h0M342.5 412.3h0M344.5 409.1h0M344.5 408.4h0M345 409.3h0M346.5 410.5h0M346.5 410.6h0M347.5 412h0M348 409.9h0M349 407.3h0M349.5 412.3h0M350 408.8h0M352 406.8h0M352.5 408.4h0M352.5 411.7h0M352.5 409h0M353.5 411.8h0M354.5 407.2h0M354.5 409h0M354.5 409.4h0M355.5 409.4h0M356 409.1h0M356.5 411.2h0M357 407.3h0M357.5 410.8h0M358.5 410.8h0M358.5 411.4h0M359 408.4h0M359 409.7h0M359.5 410.2h0M360 408.3h0M361 408.3h0M361.5 406.6h0M362 409.4h0M362.5 407h0M362.5 411.8h0M364 411.9h0M364.5 412.9h0M364.5 412.3h0M365 411.8h0M366 412.4h0M366 411.9h0M366 409.5h0M366.5 413.6h0M367.5 410.8h0M367.5 409.3h0M368 409h0M368.5 411.8h0M368.5 412.5h0M369 410.6h0M370 409.3h0M370 409.4h0M370 408.2h0M371 408.1h0M371.5 408.8h0M372 407.3h0M372 409.5h0M372.5 407.1h0M372.5 409.4h0M374 409.6h0M374.5 409.9h0M376.5 411.3h0M377 407.7h0M377.5 407.1h0M377.5 408.9h0M377.5 412.2h0M377.5 407h0M378 410.1h0M378 413.5h0M379.5 412.2h0M379.5 412.4h0M381 412.3h0M381 411.3h0M381.5 408.1h0M383 413.2h0M383 412.4h0M383.5 411h0M385 409.1h0M385.5 408.6h0M386 408.9h0M386.5 411.2h0M387 410.8h0M387.5 410.9h0M387.5 407.1h0M388 409.5h0M388.5 413.3h0M388.5 414.4h0M388.5 412.1h0M388.5 410h0M388.5 411.3h0M389 414.4h0M389 412.6h0M390.5 410.5h0M391 413.1h0M391.5 411.5h0M392.5 410h0M393.5 410.2h0M395 407h0M395 412.2h0M395.5 411.8h0M398 407.9h0M398 411.1h0M399.5 408.5h0M399.5 411.5h0M399.5 411.8h0M400 412.2h0M400.5 411.8h0M401 412.9h0M402.5 407.7h0M402.5 408h0M402.5 410h0M403 410.2h0M404 407.5h0M404 407h0M405.5 410.1h0M406 408.4h0M406 409.7h0M406 409.6h0M406.5 406h0M406.5 410.8h0M406.5 408h0M406.5 409.5h0M406.5 409.6h0M407 408h0M407.5 407.1h0M407.5 411.6h0M407.5 411h0M408.5 409h0M409 406.4h0M409.5 413.2h0M409.5 412.3h0M409.5 408.5h0M410 412.9h0M410 408.6h0M411 412.2h0M411.5 413.5h0M412 410.5h0M412.5 411.4h0M412.5 411.2h0M413.5 410.3h0M414 413.9h0M414.5 410.3h0M415 411.5h0M415 408.8h0M415.5 410.4h0M415.5 410.6h0M418.5 409.7h0M418.5 406.2h0M419 411.3h0M419.5 413.3h0M419.5 411.2h0M419.5 408.5h0M419.5 410.9h0M419.5 406.6h0M419.5 408.9h0M420 408.7h0M421 412h0M421 408.9h0M421 410.1h0M421.5 412.8h0M422 409h0M422 410.6h0M423 409.1h0M423.5 410.1h0M423.5 411.3h0M424 412.4h0M426 409.8h0M426 411.4h0M426 411.2h0M426 408.7h0M426.5 413h0M426.5 407.7h0M427.5 409.8h0M427.5 408.9h0M428 409.7h0M428 407.7h0M428.5 411.7h0M429.5 411.2h0M429.5 410.9h0M429.5 409.7h0M431 409.2h0M433 407.8h0M433.5 411.6h0M434.5 410.4h0M435 413.5h0M435.5 413.6h0M436.5 408.1h0M436.5 411.1h0M437 410.7h0M438 413.3h0M438.5 414.1h0M438.5 408.1h0M439 410.6h0M439.5 407h0M439.5 412.3h0M439.5 409.7h0M440.5 411.2h0M440.5 413h0M441.5 410.9h0M441.5 409.9h0M442 407.4h0M443 411.6h0M446 408.8h0M446 410.7h0M446.5 408.9h0M447.5 408.5h0M447.5 409.1h0M448 408.4h0M448.5 406.7h0M448.5 409.3h0M448.5 405.5h0M448.5 406.6h0M449.5 405h0M450 408.8h0M450 405h0M450 405h0M450 409.8h0M450 407.9h0M450 408.2h0M451 409.7h0M451.5 408.6h0M453 407.4h0M453 406.9h0M453.5 412.4h0M453.5 407.8h0M453.5 410.2h0M454 413h0M454 409.7h0M455 405.2h0M455 412.8h0M455 406.8h0M455.5 408.3h0M456 411.9h0M456 411h0M456.5 410.2h0M457 409.5h0M458 407.1h0M458.5 408.8h0M459 407.8h0M459 413.2h0M459.5 410.1h0M460 408.2h0M460 408.4h0M460 406.9h0M460.5 405.8h0M460.5 406.1h0M460.5 407.7h0M461 406.1h0M461.5 409.2h0M462 411.3h0M464 404.2h0M464 406.7h0M464.5 410.7h0M465 409.6h0M465.5 406.3h0M466 406.8h0M466.5 408.4h0M467 404.7h0M467.5 404.3h0M467.5 409.1h0M468 407.7h0M469 410.2h0M469 403h0M469.5 407.8h0M469.5 408.3h0M470 405h0M470.5 404.8h0M471 405.7h0M471 409.8h0M471.5 406.1h0M472 401.9h0M472.5 405.8h0M473 410.2h0M473.5 407.3h0M473.5 408.1h0M475 406.6h0M475.5 404.3h0M475.5 410.4h0M475.5 411.3h0M476 410.4h0M477 406.3h0M477.5 405.6h0M477.5 406.5h0M478 406h0M478.5 408.4h0M478.5 401.4h0M478.5 405.6h0M479 401.8h0M479.5 403.7h0M480 403.3h0M480 407.3h0M480.5 405.5h0M480.5 407h0M481 402.2h0M481.5 404.1h0M482 402.2h0M482.5 405.6h0M483 406.5h0M483 404.6h0M483 404.7h0M483 403.5h0M483.5 407h0M484 406.9h0M484.5 401.6h0M485 407.9h0M485.5 402.6h0M485.5 404.5h0M486 404.5h0M486 411h0M487 411.2h0M487 405.5h0M488.5 405.5h0M488.5 407.2h0M488.5 407.9h0M488.5 410.6h0M489 405.9h0M489 405.6h0M489 404.3h0M489.5 407.2h0M490 402.8h0M490 410.4h0M490.5 405.5h0M491 401.9h0M491 401.7h0M491.5 406.6h0M491.5 401.5h0M491.5 401.4h0M492 407.2h0M492 404.7h0M492.5 409.1h0M493 407.5h0M493 405.1h0M493 403.7h0M493.5 401.4h0M493.5 402.2h0M494 405.4h0M494 405.9h0M494.5 402h0M495 409.2h0M495 402.5h0M495 405.8h0M496 408.2h0M496 401.4h0M496.5 409.8h0M496.5 405.5h0M497 403.4h0M497.5 404.5h0M497.5 403.6h0M498 406.4h0M498 405.2h0M499 408.3h0M499 408.9h0M499.5 400.8h0M499.5 407h0M499.5 401.9h0M500 404.5h0M500 401.7h0M500.5 404.5h0M500.5 399.4h0M501 401.3h0M501 407.2h0M501 408.6h0M502 405.8h0M502.5 408.6h0M503 405.3h0M503 400.4h0M503 408.8h0M503 404.2h0M504 401.5h0M504 401.8h0M504.5 400.9h0M504.5 405.3h0M505.5 406.5h0M506 407h0M507 393.9h0M507 402.2h0M507 403.8h0M507.5 399.8h0M508 394.3h0M508.5 400.3h0M508.5 395.5h0M509 396.4h0M509 390.3h0M509.5 398.4h0M509.5 391.6h0M510 402.8h0M510 397.5h0M510.5 396.5h0M510.5 396.5h0M510.5 399.1h0M511 400.2h0M511 397.6h0M512 403.9h0M512.5 397.6h0M513 390.1h0M513 394.3h0M513.5 398.4h0M514 404.9h0M514.5 399.6h0M515 400.3h0M515 394.9h0M515.5 389.5h0M516 389.7h0M516.5 406.4h0M516.5 404.9h0M516.5 399.3h0M516.5 389.9h0M517 391.7h0M517.5 398.2h0M517.5 406.6h0M517.5 406.6h0M519 399.7h0M398.2 400.6h0M399.2 401.6h0M520.5 333.5h0M520.6 353.6h0M520.7 359.5h0M520.5 368.5h0M520.4 376h0M520.4 383.1h0M520.6 388.7h0M520.8 393.5h0M520.4 397.5h0M520.6 401.5h0M520.8 405h0M521 408h0M540.4 391.5h0M540.3 414.4h0M550 398.8h0M544.7 394h0M553.7 405.7h0M545.3 393.9h0M547.1 396.7h0M545.3 393.6h0M551.9 406.2h0M552 400.2h0M549.5 399.7h0M553.1 404.9h0M551.1 402h0M553 400.7h0M548.6 400.6h0M550.7 405.1h0M544.9 393.7h0M547.6 398h0M551.1 406.6h0M552.2 409.5h0M547.7 395.7h0M547.4 395.7h0M549.5 397.3h0M551.5 402h0M544.6 393.4h0M545.7 396.5h0M550.8 401.5h0M545.9 395.9h0M550.3 398.3h0M551.5 399.4h0M547 395.5h0M546 394.2h0M551 403.5h0M553.6 410.8h0M548 399.7h0M546.7 394.8h0M552.5 398.2h0M548.4 398h0M553.1 404.9h0M546.5 396.1h0M548.7 400.8h0M548.1 398.9h0M549.7 397.4h0M553.2 407.9h0M551.3 406.4h0M544.7 392.6h0M552.9 405.7h0M545.4 394.8h0M551.4 406h0M553.2 408.7h0M552.7 406h0M550.3 400.7h0M548.8 400.4h0M551.5 401h0M551 398.3h0M549.6 401.8h0M544.9 393.1h0M549.9 397.5h0M546.1 396.7h0M550.8 399.8h0M550.3 399.1h0M552 408.6h0M552.3 412.3h0M551.8 409h0" fill="none" stroke="#000" stroke-width="5.56" stroke-linecap="round"/>
</g>
<path d="M80 58.5H577M80 181.5H577M80 304.5H577M80 427.5H577M80.5 58V428M576.5 58V428" fill="none" stroke="#000" stroke-width="1.11"/>
<path d="M80.5 86.5h-4.86M80.5 123.5h-4.86M80.5 159.5h-4.86M80.5 270.5h-4.86M80.5 225.5h-4.86M80.5 312.5h-4.86M80.5 345.5h-4.86M80.5 379.5h-4.86M80.5 412.5h-4.86M99.5 427.5v4.86M180.5 427.5v4.86M262.5 427.5v4.86M344.5 427.5v4.86M426.5 427.5v4.86M508.5 427.5v4.86" fill="none" stroke="#000" stroke-width="1.11"/>
<g style="font-family:'DejaVu Sans','Liberation Sans',sans-serif;font-size:13.889px" fill="#000">
<text x="70.18" y="91.50" text-anchor="end">15</text>
<text x="70.63" y="128.10" text-anchor="end">20</text>
<text x="70.63" y="164.70" text-anchor="end">25</text>
<text x="70.63" y="276.46" text-anchor="end">0</text>
<text x="70.63" y="230.54" text-anchor="end">20</text>
<text x="70.18" y="318.48" text-anchor="end">12</text>
<text x="70.18" y="350.74" text-anchor="end">14</text>
<text x="70.18" y="384.01" text-anchor="end">16</text>
<text x="70.18" y="417.27" text-anchor="end">18</text>
<text x="98.10" y="448.00" text-anchor="middle">3775</text>
<text x="180.05" y="448.00" text-anchor="middle">3780</text>
<text x="262.00" y="448.00" text-anchor="middle">3785</text>
<text x="343.95" y="448.00" text-anchor="middle">3790</text>
<text x="425.90" y="448.00" text-anchor="middle">3795</text>
<text x="507.85" y="448.00" text-anchor="middle">3800</text>
<text transform="translate(43.22 119.69) rotate(-90)" text-anchor="middle">T mag</text>
<text transform="translate(27.36 277.59) rotate(-90)">Bkg (red)/</text>
<text transform="translate(42.87 310.24) rotate(-90)">bkg_model (purple)</text>
<text transform="translate(25.45 395.53) rotate(-90)" xml:space="preserve">T mag −</text>
<text transform="translate(43.94 406.75) rotate(-90)">bkg_model</text>
<text x="270.85 280.38 288.86 292.96 303.65 308.07 319.70 328.54 330.79 339.63 347.43 356.26 358.52 367.35 376.19" y="467.68" style="white-space:pre" xml:space="preserve">BTJD −2 457 000</text>
</g>
<text x="104.80" y="69.62" style="font-family:'DejaVu Sans','Liberation Sans',sans-serif;font-size:16.667px">s91 cam3ccd4</text>
<g style="font-family:'DejaVu Sans','Liberation Sans',sans-serif;font-size:20px;white-space:pre">
<text x="188.99" y="26.87" xml:space="preserve" style="letter-spacing:0.04px">AT2025jod  ZTF25aapcoms </text>
<text x="142.93" y="49.27" xml:space="preserve"> 20.1171g-ZTF Unclassified z= -99.0 </text>
</g>
</svg>
</body>
</html>
